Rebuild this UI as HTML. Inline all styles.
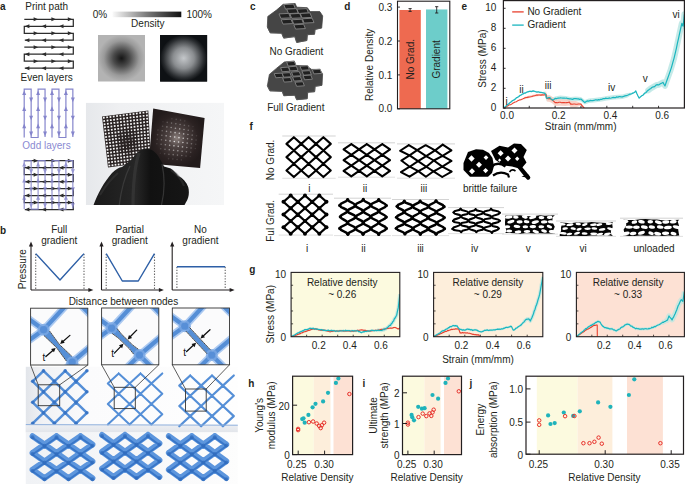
<!DOCTYPE html>
<html><head><meta charset="utf-8"><style>
html,body{margin:0;padding:0;background:#fff;}
svg{display:block;font-family:"Liberation Sans",sans-serif;}
</style></head><body>
<svg width="685" height="484" viewBox="0 0 685 484">
<rect width="685" height="484" fill="#fff"/>
<text x="0.00" y="10.30" font-size="10" text-anchor="start" fill="#231f20" font-weight="bold">a</text>
<text x="46.70" y="10.20" font-size="10" text-anchor="middle" fill="#231f20">Print path</text>
<path d="M24.3,19.3 H73.3 V26.28 H24.3 V33.260000000000005 H73.3 V40.24 H24.8 M24.3,47.22 H73.3 V54.2 H24.3 V61.18000000000001 H73.3 V68.16 H24.8" fill="none" stroke="#2d2d2d" stroke-width="1.25"/>
<polygon points="38.20,19.30 33.60,21.30 33.60,17.30" fill="#2d2d2d"/>
<polygon points="56.00,19.30 51.40,21.30 51.40,17.30" fill="#2d2d2d"/>
<polygon points="72.40,19.30 67.80,21.30 67.80,17.30" fill="#2d2d2d"/>
<polygon points="24.80,26.28 29.40,24.28 29.40,28.28" fill="#2d2d2d"/>
<polygon points="41.50,26.28 46.10,24.28 46.10,28.28" fill="#2d2d2d"/>
<polygon points="58.90,26.28 63.50,24.28 63.50,28.28" fill="#2d2d2d"/>
<polygon points="38.20,33.26 33.60,35.26 33.60,31.26" fill="#2d2d2d"/>
<polygon points="56.00,33.26 51.40,35.26 51.40,31.26" fill="#2d2d2d"/>
<polygon points="72.40,33.26 67.80,35.26 67.80,31.26" fill="#2d2d2d"/>
<polygon points="24.80,40.24 29.40,38.24 29.40,42.24" fill="#2d2d2d"/>
<polygon points="41.50,40.24 46.10,38.24 46.10,42.24" fill="#2d2d2d"/>
<polygon points="58.90,40.24 63.50,38.24 63.50,42.24" fill="#2d2d2d"/>
<polygon points="38.20,47.22 33.60,49.22 33.60,45.22" fill="#2d2d2d"/>
<polygon points="56.00,47.22 51.40,49.22 51.40,45.22" fill="#2d2d2d"/>
<polygon points="72.40,47.22 67.80,49.22 67.80,45.22" fill="#2d2d2d"/>
<polygon points="24.80,54.20 29.40,52.20 29.40,56.20" fill="#2d2d2d"/>
<polygon points="41.50,54.20 46.10,52.20 46.10,56.20" fill="#2d2d2d"/>
<polygon points="58.90,54.20 63.50,52.20 63.50,56.20" fill="#2d2d2d"/>
<polygon points="38.20,61.18 33.60,63.18 33.60,59.18" fill="#2d2d2d"/>
<polygon points="56.00,61.18 51.40,63.18 51.40,59.18" fill="#2d2d2d"/>
<polygon points="72.40,61.18 67.80,63.18 67.80,59.18" fill="#2d2d2d"/>
<polygon points="24.80,68.16 29.40,66.16 29.40,70.16" fill="#2d2d2d"/>
<polygon points="41.50,68.16 46.10,66.16 46.10,70.16" fill="#2d2d2d"/>
<polygon points="58.90,68.16 63.50,66.16 63.50,70.16" fill="#2d2d2d"/>
<text x="46.60" y="80.70" font-size="10" text-anchor="middle" fill="#231f20">Even layers</text>
<path d="M24.2,137.5 V89.1 H31.15 V137.5 H38.1 V89.1 H45.05 V137.0 M52.0,137.5 V89.1 H58.95 V137.5 H65.9 V89.1 H72.85 V137.0" fill="none" stroke="#8585cc" stroke-width="1.2"/>
<polygon points="24.20,90.40 26.20,95.00 22.20,95.00" fill="#8585cc"/>
<polygon points="24.20,106.30 26.20,110.90 22.20,110.90" fill="#8585cc"/>
<polygon points="24.20,123.60 26.20,128.20 22.20,128.20" fill="#8585cc"/>
<polygon points="31.15,102.20 29.15,97.60 33.15,97.60" fill="#8585cc"/>
<polygon points="31.15,120.30 29.15,115.70 33.15,115.70" fill="#8585cc"/>
<polygon points="31.15,136.20 29.15,131.60 33.15,131.60" fill="#8585cc"/>
<polygon points="38.10,90.40 40.10,95.00 36.10,95.00" fill="#8585cc"/>
<polygon points="38.10,106.30 40.10,110.90 36.10,110.90" fill="#8585cc"/>
<polygon points="38.10,123.60 40.10,128.20 36.10,128.20" fill="#8585cc"/>
<polygon points="45.05,102.20 43.05,97.60 47.05,97.60" fill="#8585cc"/>
<polygon points="45.05,120.30 43.05,115.70 47.05,115.70" fill="#8585cc"/>
<polygon points="45.05,136.20 43.05,131.60 47.05,131.60" fill="#8585cc"/>
<polygon points="52.00,90.40 54.00,95.00 50.00,95.00" fill="#8585cc"/>
<polygon points="52.00,106.30 54.00,110.90 50.00,110.90" fill="#8585cc"/>
<polygon points="52.00,123.60 54.00,128.20 50.00,128.20" fill="#8585cc"/>
<polygon points="58.95,102.20 56.95,97.60 60.95,97.60" fill="#8585cc"/>
<polygon points="58.95,120.30 56.95,115.70 60.95,115.70" fill="#8585cc"/>
<polygon points="58.95,136.20 56.95,131.60 60.95,131.60" fill="#8585cc"/>
<polygon points="65.90,90.40 67.90,95.00 63.90,95.00" fill="#8585cc"/>
<polygon points="65.90,106.30 67.90,110.90 63.90,110.90" fill="#8585cc"/>
<polygon points="65.90,123.60 67.90,128.20 63.90,128.20" fill="#8585cc"/>
<polygon points="72.85,102.20 70.85,97.60 74.85,97.60" fill="#8585cc"/>
<polygon points="72.85,120.30 70.85,115.70 74.85,115.70" fill="#8585cc"/>
<polygon points="72.85,136.20 70.85,131.60 74.85,131.60" fill="#8585cc"/>
<text x="46.50" y="149.30" font-size="10" text-anchor="middle" fill="#8a8ad2">Odd layers</text>
<g>
<path d="M24.3,160.7 H73.3 V167.67999999999998 H24.3 V174.66 H73.3 V181.64 H24.8 M24.3,188.62 H73.3 V195.6 H24.3 V202.57999999999998 H73.3 V209.56 H24.8" fill="none" stroke="#2d2d2d" stroke-width="1.25"/>
<polygon points="38.20,160.70 33.60,162.70 33.60,158.70" fill="#2d2d2d"/>
<polygon points="56.00,160.70 51.40,162.70 51.40,158.70" fill="#2d2d2d"/>
<polygon points="72.40,160.70 67.80,162.70 67.80,158.70" fill="#2d2d2d"/>
<polygon points="24.80,167.68 29.40,165.68 29.40,169.68" fill="#2d2d2d"/>
<polygon points="41.50,167.68 46.10,165.68 46.10,169.68" fill="#2d2d2d"/>
<polygon points="58.90,167.68 63.50,165.68 63.50,169.68" fill="#2d2d2d"/>
<polygon points="38.20,174.66 33.60,176.66 33.60,172.66" fill="#2d2d2d"/>
<polygon points="56.00,174.66 51.40,176.66 51.40,172.66" fill="#2d2d2d"/>
<polygon points="72.40,174.66 67.80,176.66 67.80,172.66" fill="#2d2d2d"/>
<polygon points="24.80,181.64 29.40,179.64 29.40,183.64" fill="#2d2d2d"/>
<polygon points="41.50,181.64 46.10,179.64 46.10,183.64" fill="#2d2d2d"/>
<polygon points="58.90,181.64 63.50,179.64 63.50,183.64" fill="#2d2d2d"/>
<polygon points="38.20,188.62 33.60,190.62 33.60,186.62" fill="#2d2d2d"/>
<polygon points="56.00,188.62 51.40,190.62 51.40,186.62" fill="#2d2d2d"/>
<polygon points="72.40,188.62 67.80,190.62 67.80,186.62" fill="#2d2d2d"/>
<polygon points="24.80,195.60 29.40,193.60 29.40,197.60" fill="#2d2d2d"/>
<polygon points="41.50,195.60 46.10,193.60 46.10,197.60" fill="#2d2d2d"/>
<polygon points="58.90,195.60 63.50,193.60 63.50,197.60" fill="#2d2d2d"/>
<polygon points="38.20,202.58 33.60,204.58 33.60,200.58" fill="#2d2d2d"/>
<polygon points="56.00,202.58 51.40,204.58 51.40,200.58" fill="#2d2d2d"/>
<polygon points="72.40,202.58 67.80,204.58 67.80,200.58" fill="#2d2d2d"/>
<polygon points="24.80,209.56 29.40,207.56 29.40,211.56" fill="#2d2d2d"/>
<polygon points="41.50,209.56 46.10,207.56 46.10,211.56" fill="#2d2d2d"/>
<polygon points="58.90,209.56 63.50,207.56 63.50,211.56" fill="#2d2d2d"/>
<g opacity="0.85">
<path d="M24.2,209.1 V160.7 H31.15 V209.1 H38.1 V160.7 H45.05 V208.6 M52.0,209.1 V160.7 H58.95 V209.1 H65.9 V160.7 H72.85 V208.6" fill="none" stroke="#8585cc" stroke-width="1.2"/>
<polygon points="24.20,162.00 26.20,166.60 22.20,166.60" fill="#8585cc"/>
<polygon points="24.20,177.90 26.20,182.50 22.20,182.50" fill="#8585cc"/>
<polygon points="24.20,195.20 26.20,199.80 22.20,199.80" fill="#8585cc"/>
<polygon points="31.15,173.80 29.15,169.20 33.15,169.20" fill="#8585cc"/>
<polygon points="31.15,191.90 29.15,187.30 33.15,187.30" fill="#8585cc"/>
<polygon points="31.15,207.80 29.15,203.20 33.15,203.20" fill="#8585cc"/>
<polygon points="38.10,162.00 40.10,166.60 36.10,166.60" fill="#8585cc"/>
<polygon points="38.10,177.90 40.10,182.50 36.10,182.50" fill="#8585cc"/>
<polygon points="38.10,195.20 40.10,199.80 36.10,199.80" fill="#8585cc"/>
<polygon points="45.05,173.80 43.05,169.20 47.05,169.20" fill="#8585cc"/>
<polygon points="45.05,191.90 43.05,187.30 47.05,187.30" fill="#8585cc"/>
<polygon points="45.05,207.80 43.05,203.20 47.05,203.20" fill="#8585cc"/>
<polygon points="52.00,162.00 54.00,166.60 50.00,166.60" fill="#8585cc"/>
<polygon points="52.00,177.90 54.00,182.50 50.00,182.50" fill="#8585cc"/>
<polygon points="52.00,195.20 54.00,199.80 50.00,199.80" fill="#8585cc"/>
<polygon points="58.95,173.80 56.95,169.20 60.95,169.20" fill="#8585cc"/>
<polygon points="58.95,191.90 56.95,187.30 60.95,187.30" fill="#8585cc"/>
<polygon points="58.95,207.80 56.95,203.20 60.95,203.20" fill="#8585cc"/>
<polygon points="65.90,162.00 67.90,166.60 63.90,166.60" fill="#8585cc"/>
<polygon points="65.90,177.90 67.90,182.50 63.90,182.50" fill="#8585cc"/>
<polygon points="65.90,195.20 67.90,199.80 63.90,199.80" fill="#8585cc"/>
<polygon points="72.85,173.80 70.85,169.20 74.85,169.20" fill="#8585cc"/>
<polygon points="72.85,191.90 70.85,187.30 74.85,187.30" fill="#8585cc"/>
<polygon points="72.85,207.80 70.85,203.20 74.85,203.20" fill="#8585cc"/>
</g></g>
<defs><linearGradient id="gbar" x1="0" x2="1" y1="0" y2="0"><stop offset="0" stop-color="#fafafa"/><stop offset="0.5" stop-color="#7a7a7a"/><stop offset="1" stop-color="#111"/></linearGradient><radialGradient id="rg1" cx="0.5" cy="0.5" r="0.5"><stop offset="0" stop-color="#151515"/><stop offset="0.35" stop-color="#4a4a4a"/><stop offset="0.75" stop-color="#9a9a9a"/><stop offset="1" stop-color="#b3b3b3"/></radialGradient><radialGradient id="rg2" cx="0.5" cy="0.5" r="0.5"><stop offset="0" stop-color="#c4c7ca"/><stop offset="0.45" stop-color="#8a8d90"/><stop offset="0.85" stop-color="#2a2d30"/><stop offset="1" stop-color="#0e1114"/></radialGradient></defs>
<rect x="112.5" y="11.6" width="68.8" height="5.6" fill="url(#gbar)"/>
<text x="107.20" y="18.30" font-size="10" text-anchor="end" fill="#231f20">0%</text>
<text x="186.40" y="18.30" font-size="10" text-anchor="start" fill="#231f20">100%</text>
<text x="147.80" y="27.30" font-size="10" text-anchor="middle" fill="#231f20">Density</text>
<rect x="98" y="35" width="47" height="46.5" fill="url(#rg1)"/>
<rect x="160.1" y="35" width="47" height="46.5" fill="#0e1114"/>
<rect x="160.1" y="35" width="47" height="46.5" fill="url(#rg2)"/>
<defs><linearGradient id="pbg" x1="0" x2="1" y1="0" y2="0"><stop offset="0" stop-color="#e6e8eb"/><stop offset="0.25" stop-color="#eff0f2"/><stop offset="1" stop-color="#f5f6f7"/></linearGradient><linearGradient id="glv" x1="0" x2="1" y1="0" y2="0"><stop offset="0" stop-color="#1a1a1a"/><stop offset="0.45" stop-color="#262626"/><stop offset="0.6" stop-color="#111"/><stop offset="1" stop-color="#161616"/></linearGradient><clipPath id="pclip"><rect x="85.8" y="102.7" width="138.4" height="102.3"/></clipPath><radialGradient id="padg" cx="0.5" cy="0.5" r="0.5"><stop offset="0" stop-color="#8a7f7c"/><stop offset="0.3" stop-color="#4f4443"/><stop offset="0.75" stop-color="#2b2222"/><stop offset="1" stop-color="#221b1b"/></radialGradient></defs>
<g clip-path="url(#pclip)">
<rect x="85.8" y="102.7" width="138.4" height="102.3" fill="url(#pbg)"/>
<polygon points="102,116.4 148.3,110.4 151.2,161.8 108,167.4" fill="#2a2323"/>
<rect x="102.96" y="116.90" width="1.75" height="1.75" fill="#f6f6f6" transform="rotate(-7 103.84 117.78)"/>
<rect x="103.33" y="120.09" width="1.75" height="1.75" fill="#f6f6f6" transform="rotate(-7 104.21 120.97)"/>
<rect x="103.70" y="123.28" width="1.75" height="1.75" fill="#f6f6f6" transform="rotate(-7 104.57 124.16)"/>
<rect x="104.07" y="126.47" width="1.75" height="1.75" fill="#f6f6f6" transform="rotate(-7 104.94 127.35)"/>
<rect x="104.43" y="129.66" width="1.75" height="1.75" fill="#f6f6f6" transform="rotate(-7 105.31 130.53)"/>
<rect x="104.80" y="132.85" width="1.75" height="1.75" fill="#f6f6f6" transform="rotate(-7 105.68 133.72)"/>
<rect x="105.17" y="136.04" width="1.75" height="1.75" fill="#f6f6f6" transform="rotate(-7 106.05 136.91)"/>
<rect x="105.54" y="139.22" width="1.75" height="1.75" fill="#f6f6f6" transform="rotate(-7 106.41 140.10)"/>
<rect x="105.91" y="142.41" width="1.75" height="1.75" fill="#f6f6f6" transform="rotate(-7 106.78 143.29)"/>
<rect x="106.28" y="145.60" width="1.75" height="1.75" fill="#f6f6f6" transform="rotate(-7 107.15 146.48)"/>
<rect x="106.64" y="148.79" width="1.75" height="1.75" fill="#f6f6f6" transform="rotate(-7 107.52 149.66)"/>
<rect x="107.01" y="151.98" width="1.75" height="1.75" fill="#f6f6f6" transform="rotate(-7 107.89 152.85)"/>
<rect x="107.38" y="155.17" width="1.75" height="1.75" fill="#f6f6f6" transform="rotate(-7 108.25 156.04)"/>
<rect x="107.75" y="158.35" width="1.75" height="1.75" fill="#f6f6f6" transform="rotate(-7 108.62 159.23)"/>
<rect x="108.12" y="161.54" width="1.75" height="1.75" fill="#f6f6f6" transform="rotate(-7 108.99 162.42)"/>
<rect x="108.48" y="164.73" width="1.75" height="1.75" fill="#f6f6f6" transform="rotate(-7 109.36 165.61)"/>
<rect x="106.26" y="116.48" width="1.75" height="1.75" fill="#f6f6f6" transform="rotate(-7 107.14 117.35)"/>
<rect x="106.62" y="119.67" width="1.75" height="1.75" fill="#f6f6f6" transform="rotate(-7 107.49 120.54)"/>
<rect x="106.97" y="122.86" width="1.75" height="1.75" fill="#f6f6f6" transform="rotate(-7 107.85 123.73)"/>
<rect x="107.33" y="126.05" width="1.75" height="1.75" fill="#f6f6f6" transform="rotate(-7 108.20 126.92)"/>
<rect x="107.68" y="129.24" width="1.75" height="1.75" fill="#f6f6f6" transform="rotate(-7 108.55 130.11)"/>
<rect x="108.03" y="132.43" width="1.75" height="1.75" fill="#f6f6f6" transform="rotate(-7 108.91 133.30)"/>
<rect x="108.39" y="135.62" width="1.75" height="1.75" fill="#f6f6f6" transform="rotate(-7 109.26 136.49)"/>
<rect x="108.74" y="138.81" width="1.75" height="1.75" fill="#f6f6f6" transform="rotate(-7 109.62 139.68)"/>
<rect x="109.10" y="142.00" width="1.75" height="1.75" fill="#f6f6f6" transform="rotate(-7 109.97 142.87)"/>
<rect x="109.45" y="145.19" width="1.75" height="1.75" fill="#f6f6f6" transform="rotate(-7 110.33 146.06)"/>
<rect x="109.81" y="148.38" width="1.75" height="1.75" fill="#f6f6f6" transform="rotate(-7 110.68 149.25)"/>
<rect x="110.16" y="151.57" width="1.75" height="1.75" fill="#f6f6f6" transform="rotate(-7 111.03 152.44)"/>
<rect x="110.51" y="154.76" width="1.75" height="1.75" fill="#f6f6f6" transform="rotate(-7 111.39 155.63)"/>
<rect x="110.87" y="157.95" width="1.75" height="1.75" fill="#f6f6f6" transform="rotate(-7 111.74 158.82)"/>
<rect x="111.22" y="161.14" width="1.75" height="1.75" fill="#f6f6f6" transform="rotate(-7 112.10 162.01)"/>
<rect x="111.58" y="164.33" width="1.75" height="1.75" fill="#f6f6f6" transform="rotate(-7 112.45 165.20)"/>
<rect x="109.56" y="116.05" width="1.75" height="1.75" fill="#f6f6f6" transform="rotate(-7 110.44 116.92)"/>
<rect x="109.90" y="119.24" width="1.75" height="1.75" fill="#f6f6f6" transform="rotate(-7 110.78 120.12)"/>
<rect x="110.24" y="122.43" width="1.75" height="1.75" fill="#f6f6f6" transform="rotate(-7 111.12 123.31)"/>
<rect x="110.58" y="125.63" width="1.75" height="1.75" fill="#f6f6f6" transform="rotate(-7 111.46 126.50)"/>
<rect x="110.92" y="128.82" width="1.75" height="1.75" fill="#f6f6f6" transform="rotate(-7 111.80 129.69)"/>
<rect x="111.27" y="132.01" width="1.75" height="1.75" fill="#f6f6f6" transform="rotate(-7 112.14 132.88)"/>
<rect x="111.61" y="135.20" width="1.75" height="1.75" fill="#f6f6f6" transform="rotate(-7 112.48 136.08)"/>
<rect x="111.95" y="138.39" width="1.75" height="1.75" fill="#f6f6f6" transform="rotate(-7 112.82 139.27)"/>
<rect x="112.29" y="141.59" width="1.75" height="1.75" fill="#f6f6f6" transform="rotate(-7 113.16 142.46)"/>
<rect x="112.63" y="144.78" width="1.75" height="1.75" fill="#f6f6f6" transform="rotate(-7 113.50 145.65)"/>
<rect x="112.97" y="147.97" width="1.75" height="1.75" fill="#f6f6f6" transform="rotate(-7 113.84 148.84)"/>
<rect x="113.31" y="151.16" width="1.75" height="1.75" fill="#f6f6f6" transform="rotate(-7 114.18 152.04)"/>
<rect x="113.65" y="154.35" width="1.75" height="1.75" fill="#f6f6f6" transform="rotate(-7 114.52 155.23)"/>
<rect x="113.99" y="157.55" width="1.75" height="1.75" fill="#f6f6f6" transform="rotate(-7 114.86 158.42)"/>
<rect x="114.33" y="160.74" width="1.75" height="1.75" fill="#f6f6f6" transform="rotate(-7 115.20 161.61)"/>
<rect x="114.67" y="163.93" width="1.75" height="1.75" fill="#f6f6f6" transform="rotate(-7 115.54 164.80)"/>
<rect x="112.86" y="115.62" width="1.75" height="1.75" fill="#f6f6f6" transform="rotate(-7 113.74 116.50)"/>
<rect x="113.19" y="118.82" width="1.75" height="1.75" fill="#f6f6f6" transform="rotate(-7 114.06 119.69)"/>
<rect x="113.52" y="122.01" width="1.75" height="1.75" fill="#f6f6f6" transform="rotate(-7 114.39 122.88)"/>
<rect x="113.84" y="125.20" width="1.75" height="1.75" fill="#f6f6f6" transform="rotate(-7 114.72 126.08)"/>
<rect x="114.17" y="128.40" width="1.75" height="1.75" fill="#f6f6f6" transform="rotate(-7 115.04 129.27)"/>
<rect x="114.50" y="131.59" width="1.75" height="1.75" fill="#f6f6f6" transform="rotate(-7 115.37 132.47)"/>
<rect x="114.82" y="134.78" width="1.75" height="1.75" fill="#f6f6f6" transform="rotate(-7 115.70 135.66)"/>
<rect x="115.15" y="137.98" width="1.75" height="1.75" fill="#f6f6f6" transform="rotate(-7 116.02 138.85)"/>
<rect x="115.48" y="141.17" width="1.75" height="1.75" fill="#f6f6f6" transform="rotate(-7 116.35 142.05)"/>
<rect x="115.80" y="144.37" width="1.75" height="1.75" fill="#f6f6f6" transform="rotate(-7 116.68 145.24)"/>
<rect x="116.13" y="147.56" width="1.75" height="1.75" fill="#f6f6f6" transform="rotate(-7 117.00 148.43)"/>
<rect x="116.46" y="150.75" width="1.75" height="1.75" fill="#f6f6f6" transform="rotate(-7 117.33 151.63)"/>
<rect x="116.78" y="153.95" width="1.75" height="1.75" fill="#f6f6f6" transform="rotate(-7 117.66 154.82)"/>
<rect x="117.11" y="157.14" width="1.75" height="1.75" fill="#f6f6f6" transform="rotate(-7 117.98 158.02)"/>
<rect x="117.44" y="160.33" width="1.75" height="1.75" fill="#f6f6f6" transform="rotate(-7 118.31 161.21)"/>
<rect x="117.76" y="163.53" width="1.75" height="1.75" fill="#f6f6f6" transform="rotate(-7 118.64 164.40)"/>
<rect x="116.16" y="115.19" width="1.75" height="1.75" fill="#f6f6f6" transform="rotate(-7 117.04 116.07)"/>
<rect x="116.48" y="118.39" width="1.75" height="1.75" fill="#f6f6f6" transform="rotate(-7 117.35 119.26)"/>
<rect x="116.79" y="121.59" width="1.75" height="1.75" fill="#f6f6f6" transform="rotate(-7 117.66 122.46)"/>
<rect x="117.10" y="124.78" width="1.75" height="1.75" fill="#f6f6f6" transform="rotate(-7 117.98 125.66)"/>
<rect x="117.41" y="127.98" width="1.75" height="1.75" fill="#f6f6f6" transform="rotate(-7 118.29 128.85)"/>
<rect x="117.73" y="131.17" width="1.75" height="1.75" fill="#f6f6f6" transform="rotate(-7 118.60 132.05)"/>
<rect x="118.24" y="134.57" width="1.35" height="1.35" fill="#f6f6f6" transform="rotate(-7 118.91 135.24)"/>
<rect x="118.55" y="137.76" width="1.35" height="1.35" fill="#f6f6f6" transform="rotate(-7 119.23 138.44)"/>
<rect x="118.87" y="140.96" width="1.35" height="1.35" fill="#f6f6f6" transform="rotate(-7 119.54 141.63)"/>
<rect x="119.18" y="144.15" width="1.35" height="1.35" fill="#f6f6f6" transform="rotate(-7 119.85 144.83)"/>
<rect x="119.49" y="147.35" width="1.35" height="1.35" fill="#f6f6f6" transform="rotate(-7 120.17 148.02)"/>
<rect x="119.80" y="150.55" width="1.35" height="1.35" fill="#f6f6f6" transform="rotate(-7 120.48 151.22)"/>
<rect x="119.92" y="153.54" width="1.75" height="1.75" fill="#f6f6f6" transform="rotate(-7 120.79 154.42)"/>
<rect x="120.23" y="156.74" width="1.75" height="1.75" fill="#f6f6f6" transform="rotate(-7 121.10 157.61)"/>
<rect x="120.54" y="159.93" width="1.75" height="1.75" fill="#f6f6f6" transform="rotate(-7 121.42 160.81)"/>
<rect x="120.85" y="163.13" width="1.75" height="1.75" fill="#f6f6f6" transform="rotate(-7 121.73 164.00)"/>
<rect x="119.46" y="114.77" width="1.75" height="1.75" fill="#f6f6f6" transform="rotate(-7 120.34 115.64)"/>
<rect x="119.76" y="117.96" width="1.75" height="1.75" fill="#f6f6f6" transform="rotate(-7 120.64 118.84)"/>
<rect x="120.06" y="121.16" width="1.75" height="1.75" fill="#f6f6f6" transform="rotate(-7 120.94 122.04)"/>
<rect x="120.36" y="124.36" width="1.75" height="1.75" fill="#f6f6f6" transform="rotate(-7 121.24 125.23)"/>
<rect x="120.66" y="127.56" width="1.75" height="1.75" fill="#f6f6f6" transform="rotate(-7 121.53 128.43)"/>
<rect x="121.16" y="130.95" width="1.35" height="1.35" fill="#f6f6f6" transform="rotate(-7 121.83 131.63)"/>
<rect x="121.46" y="134.15" width="1.35" height="1.35" fill="#f6f6f6" transform="rotate(-7 122.13 134.83)"/>
<rect x="121.76" y="137.35" width="1.35" height="1.35" fill="#f6f6f6" transform="rotate(-7 122.43 138.02)"/>
<rect x="122.23" y="140.72" width="1.0" height="1.0" fill="#f6f6f6" transform="rotate(-7 122.73 141.22)"/>
<rect x="122.53" y="143.92" width="1.0" height="1.0" fill="#f6f6f6" transform="rotate(-7 123.03 144.42)"/>
<rect x="122.65" y="146.94" width="1.35" height="1.35" fill="#f6f6f6" transform="rotate(-7 123.33 147.61)"/>
<rect x="122.95" y="150.14" width="1.35" height="1.35" fill="#f6f6f6" transform="rotate(-7 123.63 150.81)"/>
<rect x="123.05" y="153.13" width="1.75" height="1.75" fill="#f6f6f6" transform="rotate(-7 123.93 154.01)"/>
<rect x="123.35" y="156.33" width="1.75" height="1.75" fill="#f6f6f6" transform="rotate(-7 124.22 157.21)"/>
<rect x="123.65" y="159.53" width="1.75" height="1.75" fill="#f6f6f6" transform="rotate(-7 124.52 160.40)"/>
<rect x="123.95" y="162.73" width="1.75" height="1.75" fill="#f6f6f6" transform="rotate(-7 124.82 163.60)"/>
<rect x="122.76" y="114.34" width="1.75" height="1.75" fill="#f6f6f6" transform="rotate(-7 123.64 115.21)"/>
<rect x="123.05" y="117.54" width="1.75" height="1.75" fill="#f6f6f6" transform="rotate(-7 123.92 118.41)"/>
<rect x="123.33" y="120.74" width="1.75" height="1.75" fill="#f6f6f6" transform="rotate(-7 124.21 121.61)"/>
<rect x="123.62" y="123.94" width="1.75" height="1.75" fill="#f6f6f6" transform="rotate(-7 124.49 124.81)"/>
<rect x="123.90" y="127.14" width="1.75" height="1.75" fill="#f6f6f6" transform="rotate(-7 124.78 128.01)"/>
<rect x="124.39" y="130.53" width="1.35" height="1.35" fill="#f6f6f6" transform="rotate(-7 125.06 131.21)"/>
<rect x="124.67" y="133.73" width="1.35" height="1.35" fill="#f6f6f6" transform="rotate(-7 125.35 134.41)"/>
<rect x="125.13" y="137.11" width="1.0" height="1.0" fill="#f6f6f6" transform="rotate(-7 125.63 137.61)"/>
<rect x="125.42" y="140.31" width="1.0" height="1.0" fill="#f6f6f6" transform="rotate(-7 125.92 140.81)"/>
<rect x="125.70" y="143.51" width="1.0" height="1.0" fill="#f6f6f6" transform="rotate(-7 126.20 144.01)"/>
<rect x="125.99" y="146.70" width="1.0" height="1.0" fill="#f6f6f6" transform="rotate(-7 126.49 147.20)"/>
<rect x="126.10" y="149.73" width="1.35" height="1.35" fill="#f6f6f6" transform="rotate(-7 126.77 150.40)"/>
<rect x="126.38" y="152.93" width="1.35" height="1.35" fill="#f6f6f6" transform="rotate(-7 127.06 153.60)"/>
<rect x="126.47" y="155.93" width="1.75" height="1.75" fill="#f6f6f6" transform="rotate(-7 127.34 156.80)"/>
<rect x="126.75" y="159.13" width="1.75" height="1.75" fill="#f6f6f6" transform="rotate(-7 127.63 160.00)"/>
<rect x="127.04" y="162.33" width="1.75" height="1.75" fill="#f6f6f6" transform="rotate(-7 127.91 163.20)"/>
<rect x="126.06" y="113.91" width="1.75" height="1.75" fill="#f6f6f6" transform="rotate(-7 126.94 114.79)"/>
<rect x="126.34" y="117.11" width="1.75" height="1.75" fill="#f6f6f6" transform="rotate(-7 127.21 117.99)"/>
<rect x="126.61" y="120.31" width="1.75" height="1.75" fill="#f6f6f6" transform="rotate(-7 127.48 121.19)"/>
<rect x="126.88" y="123.51" width="1.75" height="1.75" fill="#f6f6f6" transform="rotate(-7 127.75 124.39)"/>
<rect x="127.15" y="126.71" width="1.75" height="1.75" fill="#f6f6f6" transform="rotate(-7 128.02 127.59)"/>
<rect x="127.62" y="130.12" width="1.35" height="1.35" fill="#f6f6f6" transform="rotate(-7 128.30 130.79)"/>
<rect x="127.89" y="133.32" width="1.35" height="1.35" fill="#f6f6f6" transform="rotate(-7 128.57 133.99)"/>
<rect x="128.34" y="136.69" width="1.0" height="1.0" fill="#f6f6f6" transform="rotate(-7 128.84 137.19)"/>
<rect x="128.61" y="139.89" width="1.0" height="1.0" fill="#f6f6f6" transform="rotate(-7 129.11 140.39)"/>
<rect x="128.88" y="143.09" width="1.0" height="1.0" fill="#f6f6f6" transform="rotate(-7 129.38 143.59)"/>
<rect x="129.15" y="146.30" width="1.0" height="1.0" fill="#f6f6f6" transform="rotate(-7 129.65 146.80)"/>
<rect x="129.25" y="149.32" width="1.35" height="1.35" fill="#f6f6f6" transform="rotate(-7 129.92 150.00)"/>
<rect x="129.52" y="152.52" width="1.35" height="1.35" fill="#f6f6f6" transform="rotate(-7 130.19 153.20)"/>
<rect x="129.59" y="155.52" width="1.75" height="1.75" fill="#f6f6f6" transform="rotate(-7 130.46 156.40)"/>
<rect x="129.86" y="158.72" width="1.75" height="1.75" fill="#f6f6f6" transform="rotate(-7 130.74 159.60)"/>
<rect x="130.13" y="161.92" width="1.75" height="1.75" fill="#f6f6f6" transform="rotate(-7 131.01 162.80)"/>
<rect x="129.36" y="113.48" width="1.75" height="1.75" fill="#f6f6f6" transform="rotate(-7 130.24 114.36)"/>
<rect x="129.62" y="116.69" width="1.75" height="1.75" fill="#f6f6f6" transform="rotate(-7 130.50 117.56)"/>
<rect x="129.88" y="119.89" width="1.75" height="1.75" fill="#f6f6f6" transform="rotate(-7 130.75 120.76)"/>
<rect x="130.14" y="123.09" width="1.75" height="1.75" fill="#f6f6f6" transform="rotate(-7 131.01 123.97)"/>
<rect x="130.39" y="126.29" width="1.75" height="1.75" fill="#f6f6f6" transform="rotate(-7 131.27 127.17)"/>
<rect x="130.85" y="129.70" width="1.35" height="1.35" fill="#f6f6f6" transform="rotate(-7 131.53 130.37)"/>
<rect x="131.11" y="132.90" width="1.35" height="1.35" fill="#f6f6f6" transform="rotate(-7 131.78 133.57)"/>
<rect x="131.37" y="136.10" width="1.35" height="1.35" fill="#f6f6f6" transform="rotate(-7 132.04 136.78)"/>
<rect x="131.80" y="139.48" width="1.0" height="1.0" fill="#f6f6f6" transform="rotate(-7 132.30 139.98)"/>
<rect x="132.06" y="142.68" width="1.0" height="1.0" fill="#f6f6f6" transform="rotate(-7 132.56 143.18)"/>
<rect x="132.14" y="145.71" width="1.35" height="1.35" fill="#f6f6f6" transform="rotate(-7 132.81 146.39)"/>
<rect x="132.40" y="148.91" width="1.35" height="1.35" fill="#f6f6f6" transform="rotate(-7 133.07 149.59)"/>
<rect x="132.45" y="151.92" width="1.75" height="1.75" fill="#f6f6f6" transform="rotate(-7 133.33 152.79)"/>
<rect x="132.71" y="155.12" width="1.75" height="1.75" fill="#f6f6f6" transform="rotate(-7 133.59 155.99)"/>
<rect x="132.97" y="158.32" width="1.75" height="1.75" fill="#f6f6f6" transform="rotate(-7 133.84 159.20)"/>
<rect x="133.22" y="161.52" width="1.75" height="1.75" fill="#f6f6f6" transform="rotate(-7 134.10 162.40)"/>
<rect x="132.66" y="113.06" width="1.75" height="1.75" fill="#f6f6f6" transform="rotate(-7 133.54 113.93)"/>
<rect x="132.91" y="116.26" width="1.75" height="1.75" fill="#f6f6f6" transform="rotate(-7 133.78 117.14)"/>
<rect x="133.15" y="119.46" width="1.75" height="1.75" fill="#f6f6f6" transform="rotate(-7 134.03 120.34)"/>
<rect x="133.40" y="122.67" width="1.75" height="1.75" fill="#f6f6f6" transform="rotate(-7 134.27 123.54)"/>
<rect x="133.64" y="125.87" width="1.75" height="1.75" fill="#f6f6f6" transform="rotate(-7 134.51 126.75)"/>
<rect x="133.88" y="129.08" width="1.75" height="1.75" fill="#f6f6f6" transform="rotate(-7 134.76 129.95)"/>
<rect x="134.33" y="132.48" width="1.35" height="1.35" fill="#f6f6f6" transform="rotate(-7 135.00 133.16)"/>
<rect x="134.57" y="135.69" width="1.35" height="1.35" fill="#f6f6f6" transform="rotate(-7 135.24 136.36)"/>
<rect x="134.81" y="138.89" width="1.35" height="1.35" fill="#f6f6f6" transform="rotate(-7 135.49 139.57)"/>
<rect x="135.06" y="142.10" width="1.35" height="1.35" fill="#f6f6f6" transform="rotate(-7 135.73 142.77)"/>
<rect x="135.30" y="145.30" width="1.35" height="1.35" fill="#f6f6f6" transform="rotate(-7 135.97 145.98)"/>
<rect x="135.54" y="148.50" width="1.35" height="1.35" fill="#f6f6f6" transform="rotate(-7 136.22 149.18)"/>
<rect x="135.59" y="151.51" width="1.75" height="1.75" fill="#f6f6f6" transform="rotate(-7 136.46 152.38)"/>
<rect x="135.83" y="154.71" width="1.75" height="1.75" fill="#f6f6f6" transform="rotate(-7 136.71 155.59)"/>
<rect x="136.07" y="157.92" width="1.75" height="1.75" fill="#f6f6f6" transform="rotate(-7 136.95 158.79)"/>
<rect x="136.32" y="161.12" width="1.75" height="1.75" fill="#f6f6f6" transform="rotate(-7 137.19 162.00)"/>
<rect x="135.96" y="112.63" width="1.75" height="1.75" fill="#f6f6f6" transform="rotate(-7 136.84 113.50)"/>
<rect x="136.19" y="115.83" width="1.75" height="1.75" fill="#f6f6f6" transform="rotate(-7 137.07 116.71)"/>
<rect x="136.42" y="119.04" width="1.75" height="1.75" fill="#f6f6f6" transform="rotate(-7 137.30 119.92)"/>
<rect x="136.65" y="122.25" width="1.75" height="1.75" fill="#f6f6f6" transform="rotate(-7 137.53 123.12)"/>
<rect x="136.88" y="125.45" width="1.75" height="1.75" fill="#f6f6f6" transform="rotate(-7 137.76 126.33)"/>
<rect x="137.11" y="128.66" width="1.75" height="1.75" fill="#f6f6f6" transform="rotate(-7 137.99 129.53)"/>
<rect x="137.34" y="131.87" width="1.75" height="1.75" fill="#f6f6f6" transform="rotate(-7 138.22 132.74)"/>
<rect x="137.57" y="135.07" width="1.75" height="1.75" fill="#f6f6f6" transform="rotate(-7 138.45 135.95)"/>
<rect x="137.80" y="138.28" width="1.75" height="1.75" fill="#f6f6f6" transform="rotate(-7 138.68 139.15)"/>
<rect x="138.03" y="141.48" width="1.75" height="1.75" fill="#f6f6f6" transform="rotate(-7 138.91 142.36)"/>
<rect x="138.26" y="144.69" width="1.75" height="1.75" fill="#f6f6f6" transform="rotate(-7 139.14 145.57)"/>
<rect x="138.49" y="147.90" width="1.75" height="1.75" fill="#f6f6f6" transform="rotate(-7 139.37 148.77)"/>
<rect x="138.72" y="151.10" width="1.75" height="1.75" fill="#f6f6f6" transform="rotate(-7 139.60 151.98)"/>
<rect x="138.95" y="154.31" width="1.75" height="1.75" fill="#f6f6f6" transform="rotate(-7 139.83 155.18)"/>
<rect x="139.18" y="157.52" width="1.75" height="1.75" fill="#f6f6f6" transform="rotate(-7 140.06 158.39)"/>
<rect x="139.41" y="160.72" width="1.75" height="1.75" fill="#f6f6f6" transform="rotate(-7 140.29 161.60)"/>
<rect x="139.27" y="112.20" width="1.75" height="1.75" fill="#f6f6f6" transform="rotate(-7 140.14 113.08)"/>
<rect x="139.48" y="115.41" width="1.75" height="1.75" fill="#f6f6f6" transform="rotate(-7 140.36 116.28)"/>
<rect x="139.70" y="118.62" width="1.75" height="1.75" fill="#f6f6f6" transform="rotate(-7 140.57 119.49)"/>
<rect x="139.91" y="121.82" width="1.75" height="1.75" fill="#f6f6f6" transform="rotate(-7 140.79 122.70)"/>
<rect x="140.13" y="125.03" width="1.75" height="1.75" fill="#f6f6f6" transform="rotate(-7 141.00 125.91)"/>
<rect x="140.34" y="128.24" width="1.75" height="1.75" fill="#f6f6f6" transform="rotate(-7 141.22 129.12)"/>
<rect x="140.56" y="131.45" width="1.75" height="1.75" fill="#f6f6f6" transform="rotate(-7 141.44 132.32)"/>
<rect x="140.78" y="134.66" width="1.75" height="1.75" fill="#f6f6f6" transform="rotate(-7 141.65 135.53)"/>
<rect x="140.99" y="137.86" width="1.75" height="1.75" fill="#f6f6f6" transform="rotate(-7 141.87 138.74)"/>
<rect x="141.21" y="141.07" width="1.75" height="1.75" fill="#f6f6f6" transform="rotate(-7 142.08 141.95)"/>
<rect x="141.42" y="144.28" width="1.75" height="1.75" fill="#f6f6f6" transform="rotate(-7 142.30 145.16)"/>
<rect x="141.64" y="147.49" width="1.75" height="1.75" fill="#f6f6f6" transform="rotate(-7 142.51 148.36)"/>
<rect x="141.86" y="150.70" width="1.75" height="1.75" fill="#f6f6f6" transform="rotate(-7 142.73 151.57)"/>
<rect x="142.07" y="153.90" width="1.75" height="1.75" fill="#f6f6f6" transform="rotate(-7 142.95 154.78)"/>
<rect x="142.29" y="157.11" width="1.75" height="1.75" fill="#f6f6f6" transform="rotate(-7 143.16 157.99)"/>
<rect x="142.50" y="160.32" width="1.75" height="1.75" fill="#f6f6f6" transform="rotate(-7 143.38 161.20)"/>
<rect x="142.57" y="111.77" width="1.75" height="1.75" fill="#f6f6f6" transform="rotate(-7 143.44 112.65)"/>
<rect x="142.77" y="114.98" width="1.75" height="1.75" fill="#f6f6f6" transform="rotate(-7 143.64 115.86)"/>
<rect x="142.97" y="118.19" width="1.75" height="1.75" fill="#f6f6f6" transform="rotate(-7 143.84 119.07)"/>
<rect x="143.17" y="121.40" width="1.75" height="1.75" fill="#f6f6f6" transform="rotate(-7 144.05 122.28)"/>
<rect x="143.37" y="124.61" width="1.75" height="1.75" fill="#f6f6f6" transform="rotate(-7 144.25 125.49)"/>
<rect x="143.58" y="127.82" width="1.75" height="1.75" fill="#f6f6f6" transform="rotate(-7 144.45 128.70)"/>
<rect x="143.78" y="131.03" width="1.75" height="1.75" fill="#f6f6f6" transform="rotate(-7 144.65 131.91)"/>
<rect x="143.98" y="134.24" width="1.75" height="1.75" fill="#f6f6f6" transform="rotate(-7 144.85 135.12)"/>
<rect x="144.18" y="137.45" width="1.75" height="1.75" fill="#f6f6f6" transform="rotate(-7 145.06 138.33)"/>
<rect x="144.38" y="140.66" width="1.75" height="1.75" fill="#f6f6f6" transform="rotate(-7 145.26 141.54)"/>
<rect x="144.59" y="143.87" width="1.75" height="1.75" fill="#f6f6f6" transform="rotate(-7 145.46 144.75)"/>
<rect x="144.79" y="147.08" width="1.75" height="1.75" fill="#f6f6f6" transform="rotate(-7 145.66 147.96)"/>
<rect x="144.99" y="150.29" width="1.75" height="1.75" fill="#f6f6f6" transform="rotate(-7 145.86 151.17)"/>
<rect x="145.19" y="153.50" width="1.75" height="1.75" fill="#f6f6f6" transform="rotate(-7 146.07 154.38)"/>
<rect x="145.39" y="156.71" width="1.75" height="1.75" fill="#f6f6f6" transform="rotate(-7 146.27 157.59)"/>
<rect x="145.60" y="159.92" width="1.75" height="1.75" fill="#f6f6f6" transform="rotate(-7 146.47 160.80)"/>
<rect x="145.87" y="111.35" width="1.75" height="1.75" fill="#f6f6f6" transform="rotate(-7 146.74 112.22)"/>
<rect x="146.05" y="114.56" width="1.75" height="1.75" fill="#f6f6f6" transform="rotate(-7 146.93 115.43)"/>
<rect x="146.24" y="117.77" width="1.75" height="1.75" fill="#f6f6f6" transform="rotate(-7 147.12 118.64)"/>
<rect x="146.43" y="120.98" width="1.75" height="1.75" fill="#f6f6f6" transform="rotate(-7 147.31 121.85)"/>
<rect x="146.62" y="124.19" width="1.75" height="1.75" fill="#f6f6f6" transform="rotate(-7 147.49 125.07)"/>
<rect x="146.81" y="127.40" width="1.75" height="1.75" fill="#f6f6f6" transform="rotate(-7 147.68 128.28)"/>
<rect x="146.99" y="130.61" width="1.75" height="1.75" fill="#f6f6f6" transform="rotate(-7 147.87 131.49)"/>
<rect x="147.18" y="133.83" width="1.75" height="1.75" fill="#f6f6f6" transform="rotate(-7 148.06 134.70)"/>
<rect x="147.37" y="137.04" width="1.75" height="1.75" fill="#f6f6f6" transform="rotate(-7 148.25 137.91)"/>
<rect x="147.56" y="140.25" width="1.75" height="1.75" fill="#f6f6f6" transform="rotate(-7 148.43 141.12)"/>
<rect x="147.75" y="143.46" width="1.75" height="1.75" fill="#f6f6f6" transform="rotate(-7 148.62 144.34)"/>
<rect x="147.94" y="146.67" width="1.75" height="1.75" fill="#f6f6f6" transform="rotate(-7 148.81 147.55)"/>
<rect x="148.12" y="149.88" width="1.75" height="1.75" fill="#f6f6f6" transform="rotate(-7 149.00 150.76)"/>
<rect x="148.31" y="153.10" width="1.75" height="1.75" fill="#f6f6f6" transform="rotate(-7 149.19 153.97)"/>
<rect x="148.50" y="156.31" width="1.75" height="1.75" fill="#f6f6f6" transform="rotate(-7 149.37 157.18)"/>
<rect x="148.69" y="159.52" width="1.75" height="1.75" fill="#f6f6f6" transform="rotate(-7 149.56 160.39)"/>
<polygon points="153.2,108.5 204.6,117.9 200.1,168.1 148.7,163.6" fill="url(#padg)"/>
<circle cx="157.94" cy="130.11" r="0.8" fill="#fff" opacity="0.11"/>
<circle cx="157.56" cy="134.65" r="0.8" fill="#fff" opacity="0.15"/>
<circle cx="157.19" cy="139.19" r="0.8" fill="#fff" opacity="0.15"/>
<circle cx="156.81" cy="143.73" r="0.8" fill="#fff" opacity="0.11"/>
<circle cx="162.97" cy="121.72" r="0.8" fill="#fff" opacity="0.08"/>
<circle cx="162.60" cy="126.23" r="0.8" fill="#fff" opacity="0.18"/>
<circle cx="162.22" cy="130.74" r="0.8" fill="#fff" opacity="0.27"/>
<circle cx="161.85" cy="135.24" r="0.8" fill="#fff" opacity="0.31"/>
<circle cx="161.47" cy="139.75" r="0.8" fill="#fff" opacity="0.31"/>
<circle cx="161.10" cy="144.26" r="0.8" fill="#fff" opacity="0.27"/>
<circle cx="160.72" cy="148.76" r="0.8" fill="#fff" opacity="0.18"/>
<circle cx="160.35" cy="153.27" r="0.8" fill="#fff" opacity="0.08"/>
<circle cx="167.25" cy="122.42" r="0.8" fill="#fff" opacity="0.18"/>
<circle cx="166.88" cy="126.90" r="0.8" fill="#fff" opacity="0.31"/>
<circle cx="166.50" cy="131.37" r="0.8" fill="#fff" opacity="0.41"/>
<circle cx="166.13" cy="135.84" r="0.8" fill="#fff" opacity="0.48"/>
<circle cx="165.75" cy="140.31" r="0.8" fill="#fff" opacity="0.48"/>
<circle cx="165.38" cy="144.79" r="0.8" fill="#fff" opacity="0.41"/>
<circle cx="165.00" cy="149.26" r="0.8" fill="#fff" opacity="0.31"/>
<circle cx="164.63" cy="153.73" r="0.8" fill="#fff" opacity="0.18"/>
<circle cx="171.91" cy="118.68" r="0.8" fill="#fff" opacity="0.11"/>
<circle cx="171.54" cy="123.12" r="0.8" fill="#fff" opacity="0.27"/>
<circle cx="171.16" cy="127.56" r="0.8" fill="#fff" opacity="0.41"/>
<circle cx="170.79" cy="132.00" r="0.8" fill="#fff" opacity="0.55"/>
<circle cx="170.41" cy="136.44" r="0.8" fill="#fff" opacity="0.64"/>
<circle cx="170.04" cy="140.88" r="0.8" fill="#fff" opacity="0.64"/>
<circle cx="169.66" cy="145.31" r="0.8" fill="#fff" opacity="0.55"/>
<circle cx="169.29" cy="149.75" r="0.8" fill="#fff" opacity="0.41"/>
<circle cx="168.91" cy="154.19" r="0.8" fill="#fff" opacity="0.27"/>
<circle cx="168.54" cy="158.63" r="0.8" fill="#fff" opacity="0.11"/>
<circle cx="176.20" cy="119.42" r="0.8" fill="#fff" opacity="0.15"/>
<circle cx="175.82" cy="123.82" r="0.8" fill="#fff" opacity="0.31"/>
<circle cx="175.45" cy="128.22" r="0.8" fill="#fff" opacity="0.48"/>
<circle cx="175.07" cy="132.63" r="0.8" fill="#fff" opacity="0.64"/>
<circle cx="174.70" cy="137.03" r="0.8" fill="#fff" opacity="0.78"/>
<circle cx="174.32" cy="141.44" r="0.8" fill="#fff" opacity="0.78"/>
<circle cx="173.95" cy="145.84" r="0.8" fill="#fff" opacity="0.64"/>
<circle cx="173.57" cy="150.25" r="0.8" fill="#fff" opacity="0.48"/>
<circle cx="173.20" cy="154.65" r="0.8" fill="#fff" opacity="0.31"/>
<circle cx="172.82" cy="159.06" r="0.8" fill="#fff" opacity="0.15"/>
<circle cx="180.48" cy="120.15" r="0.8" fill="#fff" opacity="0.15"/>
<circle cx="180.10" cy="124.52" r="0.8" fill="#fff" opacity="0.31"/>
<circle cx="179.73" cy="128.89" r="0.8" fill="#fff" opacity="0.48"/>
<circle cx="179.35" cy="133.26" r="0.8" fill="#fff" opacity="0.64"/>
<circle cx="178.98" cy="137.63" r="0.8" fill="#fff" opacity="0.78"/>
<circle cx="178.60" cy="142.00" r="0.8" fill="#fff" opacity="0.78"/>
<circle cx="178.23" cy="146.37" r="0.8" fill="#fff" opacity="0.64"/>
<circle cx="177.85" cy="150.74" r="0.8" fill="#fff" opacity="0.48"/>
<circle cx="177.48" cy="155.11" r="0.8" fill="#fff" opacity="0.31"/>
<circle cx="177.10" cy="159.48" r="0.8" fill="#fff" opacity="0.15"/>
<circle cx="184.76" cy="120.88" r="0.8" fill="#fff" opacity="0.11"/>
<circle cx="184.39" cy="125.22" r="0.8" fill="#fff" opacity="0.27"/>
<circle cx="184.01" cy="129.55" r="0.8" fill="#fff" opacity="0.41"/>
<circle cx="183.64" cy="133.89" r="0.8" fill="#fff" opacity="0.55"/>
<circle cx="183.26" cy="138.23" r="0.8" fill="#fff" opacity="0.64"/>
<circle cx="182.89" cy="142.56" r="0.8" fill="#fff" opacity="0.64"/>
<circle cx="182.51" cy="146.90" r="0.8" fill="#fff" opacity="0.55"/>
<circle cx="182.14" cy="151.23" r="0.8" fill="#fff" opacity="0.41"/>
<circle cx="181.76" cy="155.57" r="0.8" fill="#fff" opacity="0.27"/>
<circle cx="181.39" cy="159.91" r="0.8" fill="#fff" opacity="0.11"/>
<circle cx="188.67" cy="125.91" r="0.8" fill="#fff" opacity="0.18"/>
<circle cx="188.30" cy="130.22" r="0.8" fill="#fff" opacity="0.31"/>
<circle cx="187.92" cy="134.52" r="0.8" fill="#fff" opacity="0.41"/>
<circle cx="187.55" cy="138.82" r="0.8" fill="#fff" opacity="0.48"/>
<circle cx="187.17" cy="143.12" r="0.8" fill="#fff" opacity="0.48"/>
<circle cx="186.80" cy="147.43" r="0.8" fill="#fff" opacity="0.41"/>
<circle cx="186.42" cy="151.73" r="0.8" fill="#fff" opacity="0.31"/>
<circle cx="186.05" cy="156.03" r="0.8" fill="#fff" opacity="0.18"/>
<circle cx="192.95" cy="126.61" r="0.8" fill="#fff" opacity="0.08"/>
<circle cx="192.58" cy="130.88" r="0.8" fill="#fff" opacity="0.18"/>
<circle cx="192.20" cy="135.15" r="0.8" fill="#fff" opacity="0.27"/>
<circle cx="191.83" cy="139.42" r="0.8" fill="#fff" opacity="0.31"/>
<circle cx="191.45" cy="143.69" r="0.8" fill="#fff" opacity="0.31"/>
<circle cx="191.08" cy="147.95" r="0.8" fill="#fff" opacity="0.27"/>
<circle cx="190.70" cy="152.22" r="0.8" fill="#fff" opacity="0.18"/>
<circle cx="190.33" cy="156.49" r="0.8" fill="#fff" opacity="0.08"/>
<circle cx="196.49" cy="135.78" r="0.8" fill="#fff" opacity="0.11"/>
<circle cx="196.11" cy="140.01" r="0.8" fill="#fff" opacity="0.15"/>
<circle cx="195.74" cy="144.25" r="0.8" fill="#fff" opacity="0.15"/>
<circle cx="195.36" cy="148.48" r="0.8" fill="#fff" opacity="0.11"/>
<path d="M93.2,206 C97,195 104,182 112,173 C116,169 119,167.5 122,167 C126,164 130,161 133,158 C136,153 141,149 146.3,148.6 C151,148.5 156,152 159.6,158.4 C161.5,161.5 163,164 164,166.5 L170.8,168.6 C174,171 176,173.5 178,176 C183,178 186.5,182 188.2,187 C189.5,192 189,198 186,202.3 L184,206 Z" fill="url(#glv)"/>
<path d="M130,166 C125,176 121,190 119,207" stroke="#3c3c3c" stroke-width="1.3" fill="none" opacity="0.9"/>
<path d="M139,153 C135,165 133,182 133,207" stroke="#454545" stroke-width="3.2" fill="none" opacity="0.45"/>
<path d="M162,164 C165,178 165,192 161,207" stroke="#383838" stroke-width="1.2" fill="none" opacity="0.9"/>
<path d="M171,170 C177,174 182,180 184,186" stroke="#3a3a3a" stroke-width="2.2" fill="none" opacity="0.5"/>
<path d="M100,195 C106,185 112,178 118,173" stroke="#3a3a3a" stroke-width="2.2" fill="none" opacity="0.5"/>
</g>
<text x="0.00" y="233.50" font-size="10" text-anchor="start" fill="#231f20" font-weight="bold">b</text>
<text x="59.20" y="233.40" font-size="10" text-anchor="middle" fill="#231f20">Full</text>
<text x="59.20" y="244.30" font-size="10" text-anchor="middle" fill="#231f20">gradient</text>
<line x1="31.00" y1="244.50" x2="31.00" y2="290.00" stroke="#231f20" stroke-width="1.1"/>
<polygon points="31.00,241.50 33.10,246.50 28.90,246.50" fill="#231f20"/>
<line x1="31.00" y1="290.00" x2="89.80" y2="290.00" stroke="#231f20" stroke-width="1.1"/>
<polygon points="93.40,290.00 88.40,292.10 88.40,287.90" fill="#231f20"/>
<line x1="35.70" y1="254.00" x2="35.70" y2="289.50" stroke="#666" stroke-width="1.1" stroke-dasharray="1.3,1.5"/>
<line x1="84.00" y1="254.00" x2="84.00" y2="289.50" stroke="#666" stroke-width="1.1" stroke-dasharray="1.3,1.5"/>
<polyline points="35.70,253.60 60.00,280.00 84.00,253.60" fill="none" stroke="#2d5fa6" stroke-width="1.4" stroke-linejoin="round"/>
<text x="129.70" y="233.40" font-size="10" text-anchor="middle" fill="#231f20">Partial</text>
<text x="129.70" y="244.30" font-size="10" text-anchor="middle" fill="#231f20">gradient</text>
<line x1="101.50" y1="244.50" x2="101.50" y2="290.00" stroke="#231f20" stroke-width="1.1"/>
<polygon points="101.50,241.50 103.60,246.50 99.40,246.50" fill="#231f20"/>
<line x1="101.50" y1="290.00" x2="160.30" y2="290.00" stroke="#231f20" stroke-width="1.1"/>
<polygon points="163.90,290.00 158.90,292.10 158.90,287.90" fill="#231f20"/>
<line x1="106.20" y1="254.00" x2="106.20" y2="289.50" stroke="#666" stroke-width="1.1" stroke-dasharray="1.3,1.5"/>
<line x1="154.50" y1="254.00" x2="154.50" y2="289.50" stroke="#666" stroke-width="1.1" stroke-dasharray="1.3,1.5"/>
<polyline points="106.20,253.60 122.30,281.00 138.30,281.00 154.50,253.60" fill="none" stroke="#2d5fa6" stroke-width="1.4" stroke-linejoin="round"/>
<text x="200.40" y="233.40" font-size="10" text-anchor="middle" fill="#231f20">No</text>
<text x="200.40" y="244.30" font-size="10" text-anchor="middle" fill="#231f20">gradient</text>
<line x1="172.20" y1="244.50" x2="172.20" y2="290.00" stroke="#231f20" stroke-width="1.1"/>
<polygon points="172.20,241.50 174.30,246.50 170.10,246.50" fill="#231f20"/>
<line x1="172.20" y1="290.00" x2="231.00" y2="290.00" stroke="#231f20" stroke-width="1.1"/>
<polygon points="234.60,290.00 229.60,292.10 229.60,287.90" fill="#231f20"/>
<line x1="176.90" y1="267.00" x2="176.90" y2="289.50" stroke="#666" stroke-width="1.1" stroke-dasharray="1.3,1.5"/>
<line x1="225.20" y1="267.00" x2="225.20" y2="289.50" stroke="#666" stroke-width="1.1" stroke-dasharray="1.3,1.5"/>
<polyline points="176.90,266.80 225.20,266.80" fill="none" stroke="#2d5fa6" stroke-width="1.4" stroke-linejoin="round"/>
<text x="26.40" y="269.20" font-size="10" text-anchor="middle" fill="#231f20" transform="rotate(-90 26.4 269.2)">Pressure</text>
<text x="123.40" y="304.80" font-size="10" text-anchor="middle" fill="#231f20">Distance between nodes</text>
<defs><linearGradient id="bbg" x1="0" x2="1"><stop offset="0" stop-color="#e2e5ea"/><stop offset="0.08" stop-color="#f1f2f5"/><stop offset="0.3" stop-color="#fbfbfc"/><stop offset="1" stop-color="#fefefe"/></linearGradient><linearGradient id="bbg2" x1="0" x2="1"><stop offset="0" stop-color="#f0f2f5"/><stop offset="1" stop-color="#fdfdfd"/></linearGradient><linearGradient id="bband" x1="0" x2="0" y1="0" y2="1"><stop offset="0" stop-color="#eceef2"/><stop offset="1" stop-color="#e2e5ea"/></linearGradient></defs>
<rect x="25.8" y="366.8" width="212" height="65.5" fill="url(#bbg)"/>
<rect x="25.8" y="425" width="212" height="7.5" fill="url(#bband)"/>
<rect x="25.8" y="432.3" width="212" height="51.7" fill="url(#bbg2)"/>
<path d="M43.50,370.80 L32.65,381.30 M43.50,370.80 L54.35,381.30 M65.20,370.80 L54.35,381.30 M65.20,370.80 L76.05,381.30 M86.90,370.80 L76.05,381.30 M32.65,381.30 L43.50,391.80 M54.35,381.30 L43.50,391.80 M54.35,381.30 L65.20,391.80 M76.05,381.30 L65.20,391.80 M76.05,381.30 L86.90,391.80 M43.50,391.80 L32.65,402.30 M43.50,391.80 L54.35,402.30 M65.20,391.80 L54.35,402.30 M65.20,391.80 L76.05,402.30 M86.90,391.80 L76.05,402.30 M32.65,402.30 L43.50,412.80 M54.35,402.30 L43.50,412.80 M54.35,402.30 L65.20,412.80 M76.05,402.30 L65.20,412.80 M76.05,402.30 L86.90,412.80 M43.50,412.80 L32.65,423.30 M43.50,412.80 L54.35,423.30 M65.20,412.80 L54.35,423.30 M65.20,412.80 L76.05,423.30 M86.90,412.80 L76.05,423.30" stroke="#3d7fd2" stroke-width="2.5" fill="none" stroke-linecap="round" opacity="0.88"/>
<circle cx="43.50" cy="370.80" r="1.8" fill="#2f6dc0" opacity="0.8"/>
<circle cx="65.20" cy="370.80" r="1.8" fill="#2f6dc0" opacity="0.8"/>
<circle cx="86.90" cy="370.80" r="1.8" fill="#2f6dc0" opacity="0.8"/>
<circle cx="32.65" cy="381.30" r="1.8" fill="#2f6dc0" opacity="0.8"/>
<circle cx="54.35" cy="381.30" r="1.8" fill="#2f6dc0" opacity="0.8"/>
<circle cx="76.05" cy="381.30" r="1.8" fill="#2f6dc0" opacity="0.8"/>
<circle cx="43.50" cy="391.80" r="1.8" fill="#2f6dc0" opacity="0.8"/>
<circle cx="65.20" cy="391.80" r="1.8" fill="#2f6dc0" opacity="0.8"/>
<circle cx="86.90" cy="391.80" r="1.8" fill="#2f6dc0" opacity="0.8"/>
<circle cx="32.65" cy="402.30" r="1.8" fill="#2f6dc0" opacity="0.8"/>
<circle cx="54.35" cy="402.30" r="1.8" fill="#2f6dc0" opacity="0.8"/>
<circle cx="76.05" cy="402.30" r="1.8" fill="#2f6dc0" opacity="0.8"/>
<circle cx="43.50" cy="412.80" r="1.8" fill="#2f6dc0" opacity="0.8"/>
<circle cx="65.20" cy="412.80" r="1.8" fill="#2f6dc0" opacity="0.8"/>
<circle cx="86.90" cy="412.80" r="1.8" fill="#2f6dc0" opacity="0.8"/>
<circle cx="32.65" cy="423.30" r="1.8" fill="#2f6dc0" opacity="0.8"/>
<circle cx="54.35" cy="423.30" r="1.8" fill="#2f6dc0" opacity="0.8"/>
<circle cx="76.05" cy="423.30" r="1.8" fill="#2f6dc0" opacity="0.8"/>
<path d="M118.70,373.40 L107.80,383.60 M118.70,373.40 L129.60,383.60 M140.50,373.40 L129.60,383.60 M140.50,373.40 L151.40,383.60 M162.30,373.40 L151.40,383.60 M107.80,383.60 L118.70,393.80 M129.60,383.60 L118.70,393.80 M129.60,383.60 L140.50,393.80 M151.40,383.60 L140.50,393.80 M151.40,383.60 L162.30,393.80 M118.70,393.80 L107.80,404.00 M118.70,393.80 L129.60,404.00 M140.50,393.80 L129.60,404.00 M140.50,393.80 L151.40,404.00 M162.30,393.80 L151.40,404.00 M107.80,404.00 L118.70,414.20 M129.60,404.00 L118.70,414.20 M129.60,404.00 L140.50,414.20 M151.40,404.00 L140.50,414.20 M151.40,404.00 L162.30,414.20 M118.70,414.20 L107.80,424.40 M118.70,414.20 L129.60,424.40 M140.50,414.20 L129.60,424.40 M140.50,414.20 L151.40,424.40 M162.30,414.20 L151.40,424.40" stroke="#3d7fd2" stroke-width="2.0" fill="none" stroke-linecap="round" opacity="0.88"/>
<path d="M190.20,375.50 L179.30,385.65 M190.20,375.50 L201.10,385.65 M212.00,375.50 L201.10,385.65 M212.00,375.50 L222.90,385.65 M233.80,375.50 L222.90,385.65 M179.30,385.65 L190.20,395.80 M201.10,385.65 L190.20,395.80 M201.10,385.65 L212.00,395.80 M222.90,385.65 L212.00,395.80 M222.90,385.65 L233.80,395.80 M190.20,395.80 L179.30,405.95 M190.20,395.80 L201.10,405.95 M212.00,395.80 L201.10,405.95 M212.00,395.80 L222.90,405.95 M233.80,395.80 L222.90,405.95 M179.30,405.95 L190.20,416.10 M201.10,405.95 L190.20,416.10 M201.10,405.95 L212.00,416.10 M222.90,405.95 L212.00,416.10 M222.90,405.95 L233.80,416.10 M190.20,416.10 L179.30,426.25 M190.20,416.10 L201.10,426.25 M212.00,416.10 L201.10,426.25 M212.00,416.10 L222.90,426.25 M233.80,416.10 L222.90,426.25" stroke="#3d7fd2" stroke-width="2.2" fill="none" stroke-linecap="round" opacity="0.88"/>
<line x1="25.80" y1="424.60" x2="237.80" y2="425.20" stroke="#8fb0dd" stroke-width="1.0"/>
<path d="M32.50,436.10 L44.50,444.50 M56.50,436.10 L44.50,444.50 M56.50,436.10 L68.50,444.50 M80.50,436.10 L68.50,444.50 M80.50,436.10 L92.50,444.50 M44.50,444.50 L32.50,452.90 M44.50,444.50 L56.50,452.90 M68.50,444.50 L56.50,452.90 M68.50,444.50 L80.50,452.90 M92.50,444.50 L80.50,452.90 M32.50,452.90 L44.50,461.30 M56.50,452.90 L44.50,461.30 M56.50,452.90 L68.50,461.30 M80.50,452.90 L68.50,461.30 M80.50,452.90 L92.50,461.30 M44.50,461.30 L32.50,469.70 M44.50,461.30 L56.50,469.70 M68.50,461.30 L56.50,469.70 M68.50,461.30 L80.50,469.70 M92.50,461.30 L80.50,469.70 M32.50,469.70 L44.50,478.10 M56.50,469.70 L44.50,478.10 M56.50,469.70 L68.50,478.10 M80.50,469.70 L68.50,478.10 M80.50,469.70 L92.50,478.10" stroke="#5d96dd" stroke-width="5.8" fill="none" stroke-linecap="round" stroke-linejoin="round"/>
<path d="M32.50,437.70 L44.50,446.10 M56.50,437.70 L44.50,446.10 M56.50,437.70 L68.50,446.10 M80.50,437.70 L68.50,446.10 M80.50,437.70 L92.50,446.10 M44.50,446.10 L32.50,454.50 M44.50,446.10 L56.50,454.50 M68.50,446.10 L56.50,454.50 M68.50,446.10 L80.50,454.50 M92.50,446.10 L80.50,454.50 M32.50,454.50 L44.50,462.90 M56.50,454.50 L44.50,462.90 M56.50,454.50 L68.50,462.90 M80.50,454.50 L68.50,462.90 M80.50,454.50 L92.50,462.90 M44.50,462.90 L32.50,471.30 M44.50,462.90 L56.50,471.30 M68.50,462.90 L56.50,471.30 M68.50,462.90 L80.50,471.30 M92.50,462.90 L80.50,471.30 M32.50,471.30 L44.50,479.70 M56.50,471.30 L44.50,479.70 M56.50,471.30 L68.50,479.70 M80.50,471.30 L68.50,479.70 M80.50,471.30 L92.50,479.70" stroke="#3371c4" stroke-width="1.8" fill="none" stroke-linecap="round" opacity="0.85"/>
<circle cx="32.50" cy="437.30" r="2.0" fill="#2d69bb" opacity="0.7"/>
<circle cx="56.50" cy="437.30" r="2.0" fill="#2d69bb" opacity="0.7"/>
<circle cx="80.50" cy="437.30" r="2.0" fill="#2d69bb" opacity="0.7"/>
<circle cx="44.50" cy="445.70" r="2.0" fill="#2d69bb" opacity="0.7"/>
<circle cx="68.50" cy="445.70" r="2.0" fill="#2d69bb" opacity="0.7"/>
<circle cx="92.50" cy="445.70" r="2.0" fill="#2d69bb" opacity="0.7"/>
<circle cx="32.50" cy="454.10" r="2.0" fill="#2d69bb" opacity="0.7"/>
<circle cx="56.50" cy="454.10" r="2.0" fill="#2d69bb" opacity="0.7"/>
<circle cx="80.50" cy="454.10" r="2.0" fill="#2d69bb" opacity="0.7"/>
<circle cx="44.50" cy="462.50" r="2.0" fill="#2d69bb" opacity="0.7"/>
<circle cx="68.50" cy="462.50" r="2.0" fill="#2d69bb" opacity="0.7"/>
<circle cx="92.50" cy="462.50" r="2.0" fill="#2d69bb" opacity="0.7"/>
<circle cx="32.50" cy="470.90" r="2.0" fill="#2d69bb" opacity="0.7"/>
<circle cx="56.50" cy="470.90" r="2.0" fill="#2d69bb" opacity="0.7"/>
<circle cx="80.50" cy="470.90" r="2.0" fill="#2d69bb" opacity="0.7"/>
<circle cx="44.50" cy="479.30" r="2.0" fill="#2d69bb" opacity="0.7"/>
<circle cx="68.50" cy="479.30" r="2.0" fill="#2d69bb" opacity="0.7"/>
<circle cx="92.50" cy="479.30" r="2.0" fill="#2d69bb" opacity="0.7"/>
<path d="M102.00,434.90 L113.50,443.30 M125.00,434.90 L113.50,443.30 M125.00,434.90 L136.50,443.30 M148.00,434.90 L136.50,443.30 M148.00,434.90 L159.50,443.30 M113.50,443.30 L102.00,451.70 M113.50,443.30 L125.00,451.70 M136.50,443.30 L125.00,451.70 M136.50,443.30 L148.00,451.70 M159.50,443.30 L148.00,451.70 M102.00,451.70 L113.50,460.10 M125.00,451.70 L113.50,460.10 M125.00,451.70 L136.50,460.10 M148.00,451.70 L136.50,460.10 M148.00,451.70 L159.50,460.10 M113.50,460.10 L102.00,468.50 M113.50,460.10 L125.00,468.50 M136.50,460.10 L125.00,468.50 M136.50,460.10 L148.00,468.50 M159.50,460.10 L148.00,468.50 M102.00,468.50 L113.50,476.90 M125.00,468.50 L113.50,476.90 M125.00,468.50 L136.50,476.90 M148.00,468.50 L136.50,476.90 M148.00,468.50 L159.50,476.90" stroke="#5d96dd" stroke-width="5.8" fill="none" stroke-linecap="round" stroke-linejoin="round"/>
<path d="M102.00,436.50 L113.50,444.90 M125.00,436.50 L113.50,444.90 M125.00,436.50 L136.50,444.90 M148.00,436.50 L136.50,444.90 M148.00,436.50 L159.50,444.90 M113.50,444.90 L102.00,453.30 M113.50,444.90 L125.00,453.30 M136.50,444.90 L125.00,453.30 M136.50,444.90 L148.00,453.30 M159.50,444.90 L148.00,453.30 M102.00,453.30 L113.50,461.70 M125.00,453.30 L113.50,461.70 M125.00,453.30 L136.50,461.70 M148.00,453.30 L136.50,461.70 M148.00,453.30 L159.50,461.70 M113.50,461.70 L102.00,470.10 M113.50,461.70 L125.00,470.10 M136.50,461.70 L125.00,470.10 M136.50,461.70 L148.00,470.10 M159.50,461.70 L148.00,470.10 M102.00,470.10 L113.50,478.50 M125.00,470.10 L113.50,478.50 M125.00,470.10 L136.50,478.50 M148.00,470.10 L136.50,478.50 M148.00,470.10 L159.50,478.50" stroke="#3371c4" stroke-width="1.8" fill="none" stroke-linecap="round" opacity="0.85"/>
<circle cx="102.00" cy="436.10" r="2.0" fill="#2d69bb" opacity="0.7"/>
<circle cx="125.00" cy="436.10" r="2.0" fill="#2d69bb" opacity="0.7"/>
<circle cx="148.00" cy="436.10" r="2.0" fill="#2d69bb" opacity="0.7"/>
<circle cx="113.50" cy="444.50" r="2.0" fill="#2d69bb" opacity="0.7"/>
<circle cx="136.50" cy="444.50" r="2.0" fill="#2d69bb" opacity="0.7"/>
<circle cx="159.50" cy="444.50" r="2.0" fill="#2d69bb" opacity="0.7"/>
<circle cx="102.00" cy="452.90" r="2.0" fill="#2d69bb" opacity="0.7"/>
<circle cx="125.00" cy="452.90" r="2.0" fill="#2d69bb" opacity="0.7"/>
<circle cx="148.00" cy="452.90" r="2.0" fill="#2d69bb" opacity="0.7"/>
<circle cx="113.50" cy="461.30" r="2.0" fill="#2d69bb" opacity="0.7"/>
<circle cx="136.50" cy="461.30" r="2.0" fill="#2d69bb" opacity="0.7"/>
<circle cx="159.50" cy="461.30" r="2.0" fill="#2d69bb" opacity="0.7"/>
<circle cx="102.00" cy="469.70" r="2.0" fill="#2d69bb" opacity="0.7"/>
<circle cx="125.00" cy="469.70" r="2.0" fill="#2d69bb" opacity="0.7"/>
<circle cx="148.00" cy="469.70" r="2.0" fill="#2d69bb" opacity="0.7"/>
<circle cx="113.50" cy="478.10" r="2.0" fill="#2d69bb" opacity="0.7"/>
<circle cx="136.50" cy="478.10" r="2.0" fill="#2d69bb" opacity="0.7"/>
<circle cx="159.50" cy="478.10" r="2.0" fill="#2d69bb" opacity="0.7"/>
<path d="M168.80,436.00 L180.30,444.40 M191.80,436.00 L180.30,444.40 M191.80,436.00 L203.30,444.40 M214.80,436.00 L203.30,444.40 M214.80,436.00 L226.30,444.40 M180.30,444.40 L168.80,452.80 M180.30,444.40 L191.80,452.80 M203.30,444.40 L191.80,452.80 M203.30,444.40 L214.80,452.80 M226.30,444.40 L214.80,452.80 M168.80,452.80 L180.30,461.20 M191.80,452.80 L180.30,461.20 M191.80,452.80 L203.30,461.20 M214.80,452.80 L203.30,461.20 M214.80,452.80 L226.30,461.20 M180.30,461.20 L168.80,469.60 M180.30,461.20 L191.80,469.60 M203.30,461.20 L191.80,469.60 M203.30,461.20 L214.80,469.60 M226.30,461.20 L214.80,469.60 M168.80,469.60 L180.30,478.00 M191.80,469.60 L180.30,478.00 M191.80,469.60 L203.30,478.00 M214.80,469.60 L203.30,478.00 M214.80,469.60 L226.30,478.00" stroke="#5d96dd" stroke-width="5.8" fill="none" stroke-linecap="round" stroke-linejoin="round"/>
<path d="M168.80,437.60 L180.30,446.00 M191.80,437.60 L180.30,446.00 M191.80,437.60 L203.30,446.00 M214.80,437.60 L203.30,446.00 M214.80,437.60 L226.30,446.00 M180.30,446.00 L168.80,454.40 M180.30,446.00 L191.80,454.40 M203.30,446.00 L191.80,454.40 M203.30,446.00 L214.80,454.40 M226.30,446.00 L214.80,454.40 M168.80,454.40 L180.30,462.80 M191.80,454.40 L180.30,462.80 M191.80,454.40 L203.30,462.80 M214.80,454.40 L203.30,462.80 M214.80,454.40 L226.30,462.80 M180.30,462.80 L168.80,471.20 M180.30,462.80 L191.80,471.20 M203.30,462.80 L191.80,471.20 M203.30,462.80 L214.80,471.20 M226.30,462.80 L214.80,471.20 M168.80,471.20 L180.30,479.60 M191.80,471.20 L180.30,479.60 M191.80,471.20 L203.30,479.60 M214.80,471.20 L203.30,479.60 M214.80,471.20 L226.30,479.60" stroke="#3371c4" stroke-width="1.8" fill="none" stroke-linecap="round" opacity="0.85"/>
<circle cx="168.80" cy="437.20" r="2.0" fill="#2d69bb" opacity="0.7"/>
<circle cx="191.80" cy="437.20" r="2.0" fill="#2d69bb" opacity="0.7"/>
<circle cx="214.80" cy="437.20" r="2.0" fill="#2d69bb" opacity="0.7"/>
<circle cx="180.30" cy="445.60" r="2.0" fill="#2d69bb" opacity="0.7"/>
<circle cx="203.30" cy="445.60" r="2.0" fill="#2d69bb" opacity="0.7"/>
<circle cx="226.30" cy="445.60" r="2.0" fill="#2d69bb" opacity="0.7"/>
<circle cx="168.80" cy="454.00" r="2.0" fill="#2d69bb" opacity="0.7"/>
<circle cx="191.80" cy="454.00" r="2.0" fill="#2d69bb" opacity="0.7"/>
<circle cx="214.80" cy="454.00" r="2.0" fill="#2d69bb" opacity="0.7"/>
<circle cx="180.30" cy="462.40" r="2.0" fill="#2d69bb" opacity="0.7"/>
<circle cx="203.30" cy="462.40" r="2.0" fill="#2d69bb" opacity="0.7"/>
<circle cx="226.30" cy="462.40" r="2.0" fill="#2d69bb" opacity="0.7"/>
<circle cx="168.80" cy="470.80" r="2.0" fill="#2d69bb" opacity="0.7"/>
<circle cx="191.80" cy="470.80" r="2.0" fill="#2d69bb" opacity="0.7"/>
<circle cx="214.80" cy="470.80" r="2.0" fill="#2d69bb" opacity="0.7"/>
<circle cx="180.30" cy="479.20" r="2.0" fill="#2d69bb" opacity="0.7"/>
<circle cx="203.30" cy="479.20" r="2.0" fill="#2d69bb" opacity="0.7"/>
<circle cx="226.30" cy="479.20" r="2.0" fill="#2d69bb" opacity="0.7"/>
<rect x="30.6" y="308.2" width="57.2" height="56.8" fill="#fbfbfc"/>
<defs><clipPath id="cb1"><rect x="30.6" y="308.2" width="57.2" height="56.8"/></clipPath></defs>
<g clip-path="url(#cb1)" stroke-linecap="round">
<path d="M21.6,313.7 L43.6,329.7 L21.6,345.7 M43.6,329.7 L67.6,303.7 M50.2,384.2 L72.2,362.2 L94.2,384.2 M72.2,362.2 L98.2,340.2 M79.80000000000001,304.2 L93.80000000000001,318.2" stroke="#9cc0ee" stroke-width="7.5" fill="none" opacity="0.85"/>
<path d="M21.6,313.7 L43.6,329.7 L21.6,345.7 M43.6,329.7 L67.6,303.7 M50.2,384.2 L72.2,362.2 L94.2,384.2 M72.2,362.2 L98.2,340.2 M79.80000000000001,304.2 L93.80000000000001,318.2" stroke="#4b87d3" stroke-width="4.2" fill="none" opacity="0.9"/>
<polygon points="40.78,332.18 56.55,347.14 69.38,364.68 75.02,359.72 59.25,344.76 46.42,327.22" fill="#4d89d4" opacity="0.95"/>
<circle cx="43.6" cy="329.7" r="6.0" fill="#7aa8e4" opacity="0.8"/>
<circle cx="43.6" cy="329.7" r="3.6" fill="#4682d0" opacity="0.6"/>
<circle cx="72.2" cy="362.2" r="6.0" fill="#7aa8e4" opacity="0.8"/>
<circle cx="72.2" cy="362.2" r="3.6" fill="#4682d0" opacity="0.6"/>
<polyline points="49.72,331.23 59.48,344.56 71.46,355.93" fill="none" stroke="#111" stroke-width="0.75" stroke-dasharray="1.3,1"/>
<polyline points="44.34,335.97 56.32,347.34 66.08,360.67" fill="none" stroke="#111" stroke-width="0.75" stroke-dasharray="1.3,1"/>
<line x1="45.89" y1="356.52" x2="53.40" y2="349.91" stroke="#111" stroke-width="1.3"/>
<polygon points="55.65,347.93 53.95,352.36 51.04,349.05" fill="#111"/>
<line x1="69.91" y1="335.38" x2="62.40" y2="341.99" stroke="#111" stroke-width="1.3"/>
<polygon points="60.15,343.97 61.85,339.54 64.76,342.85" fill="#111"/>
</g>
<text x="42.56" y="360.71" font-size="10" text-anchor="start" fill="#111">t</text>
<rect x="30.6" y="308.2" width="57.2" height="56.8" fill="none" stroke="#333" stroke-width="0.9"/>
<rect x="38.2" y="384.8" width="21.5" height="20.899999999999977" fill="none" stroke="#333" stroke-width="0.9"/>
<line x1="30.60" y1="365.00" x2="38.20" y2="384.80" stroke="#333" stroke-width="0.8"/>
<line x1="87.80" y1="365.00" x2="59.70" y2="384.80" stroke="#333" stroke-width="0.8"/>
<rect x="101.6" y="308.0" width="57.2" height="56.8" fill="#fbfbfc"/>
<defs><clipPath id="cb2"><rect x="101.6" y="308.0" width="57.2" height="56.8"/></clipPath></defs>
<g clip-path="url(#cb2)" stroke-linecap="round">
<path d="M89.6,312.1 L111.6,328.1 L89.6,344.1 M111.6,328.1 L135.6,302.1 M117.5,377.1 L139.5,355.1 L161.5,377.1 M139.5,355.1 L165.5,333.1 M150.8,304.0 L164.8,318.0" stroke="#9cc0ee" stroke-width="7.5" fill="none" opacity="0.85"/>
<path d="M89.6,312.1 L111.6,328.1 L89.6,344.1 M111.6,328.1 L135.6,302.1 M117.5,377.1 L139.5,355.1 L161.5,377.1 M139.5,355.1 L165.5,333.1 M150.8,304.0 L164.8,318.0" stroke="#4b87d3" stroke-width="4.2" fill="none" opacity="0.9"/>
<polygon points="108.99,330.79 118.44,337.78 129.60,348.58 136.89,357.79 142.11,352.41 132.66,345.42 121.50,334.62 114.21,325.41" fill="#4d89d4" opacity="0.95"/>
<circle cx="111.6" cy="328.1" r="6.0" fill="#7aa8e4" opacity="0.8"/>
<circle cx="111.6" cy="328.1" r="3.6" fill="#4682d0" opacity="0.6"/>
<circle cx="139.5" cy="355.1" r="6.0" fill="#7aa8e4" opacity="0.8"/>
<circle cx="139.5" cy="355.1" r="3.6" fill="#4682d0" opacity="0.6"/>
<polyline points="117.33,328.88 121.71,334.40 132.87,345.20 138.54,349.40" fill="none" stroke="#111" stroke-width="0.75" stroke-dasharray="1.3,1"/>
<polyline points="112.56,333.80 118.23,338.00 129.39,348.80 133.77,354.32" fill="none" stroke="#111" stroke-width="0.75" stroke-dasharray="1.3,1"/>
<line x1="114.42" y1="353.10" x2="121.38" y2="345.91" stroke="#111" stroke-width="1.3"/>
<polygon points="123.46,343.76 122.12,348.30 118.96,345.24" fill="#111"/>
<line x1="136.68" y1="330.10" x2="129.72" y2="337.29" stroke="#111" stroke-width="1.3"/>
<polygon points="127.64,339.44 128.98,334.90 132.14,337.96" fill="#111"/>
</g>
<text x="111.18" y="357.38" font-size="10" text-anchor="start" fill="#111">t</text>
<rect x="101.6" y="308.0" width="57.2" height="56.8" fill="none" stroke="#333" stroke-width="0.9"/>
<rect x="114.2" y="387.3" width="21.10000000000001" height="21.30000000000001" fill="none" stroke="#333" stroke-width="0.9"/>
<line x1="101.60" y1="364.80" x2="114.20" y2="387.30" stroke="#333" stroke-width="0.8"/>
<line x1="158.80" y1="364.80" x2="135.30" y2="387.30" stroke="#333" stroke-width="0.8"/>
<rect x="172.3" y="308.0" width="57.2" height="56.8" fill="#fbfbfc"/>
<defs><clipPath id="cb3"><rect x="172.3" y="308.0" width="57.2" height="56.8"/></clipPath></defs>
<g clip-path="url(#cb3)" stroke-linecap="round">
<path d="M162.8,310.2 L184.8,326.2 L162.8,342.2 M184.8,326.2 L208.8,300.2 M189.8,377.1 L211.8,355.1 L233.8,377.1 M211.8,355.1 L237.8,333.1 M221.5,304.0 L235.5,318.0" stroke="#9cc0ee" stroke-width="7.5" fill="none" opacity="0.85"/>
<path d="M162.8,310.2 L184.8,326.2 L162.8,342.2 M184.8,326.2 L208.8,300.2 M189.8,377.1 L211.8,355.1 L233.8,377.1 M211.8,355.1 L237.8,333.1 M221.5,304.0 L235.5,318.0" stroke="#4b87d3" stroke-width="4.2" fill="none" opacity="0.9"/>
<polygon points="183.12,327.77 210.12,356.67 213.48,353.53 186.48,324.63" fill="#4d89d4" opacity="0.95"/>
<circle cx="184.8" cy="326.2" r="6.0" fill="#7aa8e4" opacity="0.8"/>
<circle cx="184.8" cy="326.2" r="3.6" fill="#4682d0" opacity="0.6"/>
<circle cx="211.8" cy="355.1" r="6.0" fill="#7aa8e4" opacity="0.8"/>
<circle cx="211.8" cy="355.1" r="3.6" fill="#4682d0" opacity="0.6"/>
<polyline points="189.94,327.89 210.46,349.86" fill="none" stroke="#111" stroke-width="0.75" stroke-dasharray="1.3,1"/>
<polyline points="186.14,331.44 206.66,353.41" fill="none" stroke="#111" stroke-width="0.75" stroke-dasharray="1.3,1"/>
<line x1="186.61" y1="351.57" x2="193.92" y2="344.75" stroke="#111" stroke-width="1.3"/>
<polygon points="196.11,342.70 194.54,347.17 191.54,343.96" fill="#111"/>
<line x1="209.99" y1="329.73" x2="202.68" y2="336.55" stroke="#111" stroke-width="1.3"/>
<polygon points="200.49,338.60 202.06,334.13 205.06,337.34" fill="#111"/>
</g>
<text x="183.31" y="355.80" font-size="10" text-anchor="start" fill="#111">t</text>
<rect x="172.3" y="308.0" width="57.2" height="56.8" fill="none" stroke="#333" stroke-width="0.9"/>
<rect x="185.5" y="389.0" width="20.69999999999999" height="22.100000000000023" fill="none" stroke="#333" stroke-width="0.9"/>
<line x1="172.30" y1="364.80" x2="185.50" y2="389.00" stroke="#333" stroke-width="0.8"/>
<line x1="229.50" y1="364.80" x2="206.20" y2="389.00" stroke="#333" stroke-width="0.8"/>
<text x="250.00" y="9.70" font-size="10" text-anchor="start" fill="#231f20" font-weight="bold">c</text>
<polygon points="267.8,16.4 276.5,10.1 283.2,4.3 295.2,3.5 296.7,7.2 307.3,7.7 310.2,11.6 319.8,11.6 322.7,15.9 321.7,27.9 315.0,29.4 314.5,34.2 307.3,34.7 306.8,40.5 296.7,42.4 294.8,36.6 283.7,38.1 281.7,33.2 270.2,32.8 267.3,27.0" fill="#454545" stroke="#454545" stroke-width="0.8" stroke-linejoin="round"/>
<polygon points="283.7,4.6 293.5,4.1 295.3,8.6 285.5,9.1" fill="#202020" stroke="#7c7c7c" stroke-width="1.0"/>
<polygon points="286.7,9.1 296.5,8.6 298.3,13.1 288.5,13.6" fill="#202020" stroke="#7c7c7c" stroke-width="1.0"/>
<polygon points="296.9,9.1 306.7,8.6 308.5,13.1 298.7,13.6" fill="#202020" stroke="#7c7c7c" stroke-width="1.0"/>
<polygon points="279.0,13.9 288.8,13.4 290.6,17.9 280.8,18.3" fill="#202020" stroke="#7c7c7c" stroke-width="1.0"/>
<polygon points="289.9,13.9 299.7,13.4 301.5,17.9 291.7,18.3" fill="#202020" stroke="#7c7c7c" stroke-width="1.0"/>
<polygon points="300.2,13.4 310.0,12.9 311.8,17.4 302.0,17.9" fill="#202020" stroke="#7c7c7c" stroke-width="1.0"/>
<polygon points="281.2,19.8 291.0,19.2 292.8,23.6 283.0,24.1" fill="#202020" stroke="#7c7c7c" stroke-width="1.0"/>
<polygon points="292.0,19.8 301.8,19.2 303.6,23.6 293.8,24.1" fill="#202020" stroke="#7c7c7c" stroke-width="1.0"/>
<polygon points="302.4,18.8 312.2,18.2 314.0,22.6 304.2,23.1" fill="#202020" stroke="#7c7c7c" stroke-width="1.0"/>
<polygon points="293.8,24.8 303.6,24.2 305.4,28.6 295.6,29.1" fill="#202020" stroke="#7c7c7c" stroke-width="1.0"/>
<path d="M267.5,27 L270.2,32.8 L281.7,33.2 L283.7,38.1 L294.8,36.6 L296.7,42.4 L306.8,40.5 L307.3,34.7 L314.5,34.2 L315,29.4 L321.7,27.9" stroke="#555" stroke-width="0.8" fill="none"/>
<text x="296.40" y="54.60" font-size="10" text-anchor="middle" fill="#231f20">No Gradient</text>
<polygon points="267.4,85.8 269.4,74.4 276.4,68.4 284.3,62.0 294.3,61.0 295.7,65.4 306.7,65.9 311.6,69.4 319.6,69.4 322.6,73.9 322.0,85.3 315.1,86.3 314.6,91.7 307.7,92.2 307.2,98.7 296.7,99.7 294.8,95.2 283.8,95.7 282.3,91.3 269.9,90.8" fill="#464646" stroke="#464646" stroke-width="0.8" stroke-linejoin="round"/>
<polygon points="286.6,61.9 294.4,61.4 296.0,65.6 288.2,66.1" fill="#202020" stroke="#7c7c7c" stroke-width="1.0"/>
<polygon points="280.6,67.6 288.4,67.1 290.0,71.2 282.2,71.8" fill="#202020" stroke="#7c7c7c" stroke-width="1.0"/>
<polygon points="288.6,66.8 296.4,66.2 298.0,70.4 290.2,70.9" fill="#202020" stroke="#7c7c7c" stroke-width="1.0"/>
<polygon points="300.0,66.2 307.8,65.7 309.4,69.8 301.6,70.3" fill="#202020" stroke="#7c7c7c" stroke-width="1.0"/>
<polygon points="274.2,73.6 282.0,73.1 283.6,77.2 275.8,77.8" fill="#202020" stroke="#7c7c7c" stroke-width="1.0"/>
<polygon points="282.1,73.1 289.9,72.6 291.5,76.8 283.7,77.2" fill="#202020" stroke="#7c7c7c" stroke-width="1.0"/>
<polygon points="291.5,72.1 299.3,71.6 300.9,75.8 293.1,76.2" fill="#202020" stroke="#7c7c7c" stroke-width="1.0"/>
<polygon points="302.0,71.1 309.8,70.6 311.4,74.8 303.6,75.2" fill="#202020" stroke="#7c7c7c" stroke-width="1.0"/>
<polygon points="312.3,69.8 320.1,69.2 321.7,73.4 313.9,73.9" fill="#202020" stroke="#7c7c7c" stroke-width="1.0"/>
<polygon points="282.6,78.0 290.4,77.5 292.0,81.6 284.2,82.1" fill="#202020" stroke="#7c7c7c" stroke-width="1.0"/>
<polygon points="292.5,77.0 300.3,76.5 301.9,80.6 294.1,81.1" fill="#202020" stroke="#7c7c7c" stroke-width="1.0"/>
<polygon points="303.0,75.6 310.8,75.1 312.4,79.2 304.6,79.8" fill="#202020" stroke="#7c7c7c" stroke-width="1.0"/>
<polygon points="295.0,82.2 302.8,81.7 304.4,85.8 296.6,86.3" fill="#202020" stroke="#7c7c7c" stroke-width="1.0"/>
<path d="M267.4,85.8 L269.9,90.8 L282.3,91.3 L283.8,95.7 L294.8,95.2 L296.7,99.7 L307.2,98.7 L307.7,92.2 L314.6,91.7 L315.1,86.3 L322,85.3" stroke="#555" stroke-width="0.8" fill="none"/>
<text x="295.80" y="110.50" font-size="10" text-anchor="middle" fill="#231f20">Full Gradient</text>
<text x="344.30" y="10.20" font-size="10" text-anchor="start" fill="#231f20" font-weight="bold">d</text>
<rect x="394" y="1.2" width="55.80000000000001" height="107.6" fill="none"/>
<rect x="399.4" y="9.98" width="21.4" height="98.82" fill="#ee6a50"/>
<rect x="426" y="9.47" width="21.4" height="99.33" fill="#6dcdca"/>
<line x1="410.10" y1="8.60" x2="410.10" y2="11.40" stroke="#231f20" stroke-width="0.9"/>
<line x1="408.50" y1="8.60" x2="411.70" y2="8.60" stroke="#231f20" stroke-width="0.9"/>
<line x1="408.50" y1="11.40" x2="411.70" y2="11.40" stroke="#231f20" stroke-width="0.9"/>
<line x1="436.70" y1="6.70" x2="436.70" y2="13.00" stroke="#231f20" stroke-width="0.9"/>
<line x1="435.10" y1="6.70" x2="438.30" y2="6.70" stroke="#231f20" stroke-width="0.9"/>
<line x1="435.10" y1="13.00" x2="438.30" y2="13.00" stroke="#231f20" stroke-width="0.9"/>
<rect x="397.5" y="1.2" width="52.30000000000001" height="107.6" fill="none" stroke="#231f20" stroke-width="1.1"/>
<line x1="397.50" y1="108.80" x2="400.00" y2="108.80" stroke="#231f20" stroke-width="0.9"/>
<text x="392.30" y="112.40" font-size="10" text-anchor="end" fill="#231f20">0.0</text>
<line x1="397.50" y1="74.90" x2="400.00" y2="74.90" stroke="#231f20" stroke-width="0.9"/>
<text x="392.30" y="78.50" font-size="10" text-anchor="end" fill="#231f20">0.1</text>
<line x1="397.50" y1="41.00" x2="400.00" y2="41.00" stroke="#231f20" stroke-width="0.9"/>
<text x="392.30" y="44.60" font-size="10" text-anchor="end" fill="#231f20">0.2</text>
<line x1="397.50" y1="7.10" x2="400.00" y2="7.10" stroke="#231f20" stroke-width="0.9"/>
<text x="392.30" y="10.70" font-size="10" text-anchor="end" fill="#231f20">0.3</text>
<text x="372.60" y="64.80" font-size="10" text-anchor="middle" fill="#231f20" transform="rotate(-90 372.6 64.8)">Relative Density</text>
<text x="413.70" y="59.30" font-size="10" text-anchor="middle" fill="#231f20" transform="rotate(-90 413.7 59.3)">No Grad.</text>
<text x="440.40" y="59.40" font-size="10" text-anchor="middle" fill="#231f20" transform="rotate(-90 440.4 59.4)">Gradient</text>
<text x="461.50" y="10.20" font-size="10" text-anchor="start" fill="#231f20" font-weight="bold">e</text>
<defs><clipPath id="eclip"><rect x="503.4" y="0.6" width="181.0" height="107.4"/></clipPath></defs>
<g clip-path="url(#eclip)">
<path d="M503.40,107.50 L508.57,103.00 L513.74,99.00 L518.92,95.50 L524.09,92.50 L529.26,90.70 L533.14,90.30 L537.02,91.00 L542.19,92.00 L545.55,91.50 L546.33,96.00 L549.95,95.50 L552.53,97.50 L555.12,96.50 L560.29,95.50 L565.46,96.00 L570.64,97.00 L575.81,96.50 L580.98,97.00 L584.86,100.00 L588.74,98.50 L593.91,98.00 L601.67,97.00 L606.84,96.00 L614.60,95.00 L622.36,94.50 L627.53,93.00 L632.70,92.50 L635.80,90.50 L637.87,95.00 L639.16,97.00 L643.04,94.00 L648.22,88.00 L650.80,86.00 L655.97,83.00 L658.56,82.50 L662.96,80.00 L665.02,83.50 L667.61,76.00 L670.20,69.00 L674.08,56.00 L677.44,41.00 L679.77,30.00 L681.83,21.00 L683.13,24.00 L684.42,12.00 L684.42,16.60 L683.13,28.60 L681.83,25.60 L679.77,34.60 L677.44,45.60 L674.08,60.60 L670.20,73.60 L667.61,80.60 L665.02,88.10 L662.96,84.60 L658.56,87.10 L655.97,87.60 L650.80,90.60 L648.22,92.60 L643.04,95.60 L639.16,98.60 L637.87,96.60 L635.80,92.10 L632.70,94.10 L627.53,97.60 L622.36,99.10 L614.60,99.60 L606.84,100.60 L601.67,101.60 L593.91,102.60 L588.74,103.10 L584.86,104.60 L580.98,101.60 L575.81,101.10 L570.64,101.60 L565.46,100.60 L560.29,100.10 L555.12,101.10 L552.53,102.10 L549.95,100.10 L546.33,100.60 L545.55,96.10 L542.19,93.60 L537.02,92.60 L533.14,91.90 L529.26,92.30 L524.09,94.10 L518.92,97.10 L513.74,100.60 L508.57,104.60 L503.40,109.10Z" fill="#bfe8e6" opacity="0.9"/>
<path d="M648.22,90.30 L650.80,88.30 L655.97,85.30 L658.56,84.80 L662.96,82.30 L665.02,85.80 L667.61,78.30 L670.20,71.30 L674.08,58.30 L677.44,43.30 L679.77,32.30 L681.83,23.30 L683.13,26.30 L684.42,14.30" stroke="#bfe8e6" stroke-width="6" fill="none" stroke-linejoin="round" stroke-linecap="round" opacity="0.9"/>
<path d="M524.09,97.10 L529.26,95.60 L534.43,94.40 L539.60,93.70 L544.78,93.50 L546.07,91.50 L546.84,95.10 L549.95,95.60 L552.53,97.10 L555.12,99.60 L560.29,99.30 L565.46,99.60 L569.34,99.10 L570.64,100.90 L575.81,101.10 L580.98,102.90 L582.27,104.60 L583.57,106.10 L584.34,107.10 L584.34,109.50 L583.57,108.50 L582.27,107.00 L580.98,105.30 L575.81,107.50 L570.64,107.30 L569.34,105.50 L565.46,106.00 L560.29,105.70 L555.12,106.00 L552.53,103.50 L549.95,102.00 L546.84,101.50 L546.07,97.90 L544.78,95.90 L539.60,96.10 L534.43,96.80 L529.26,98.00 L524.09,99.50Z" fill="#f6c9bd" opacity="0.8"/>
<path d="M503.40,108.30 L504.43,107.74 L505.47,107.18 L506.50,106.62 L507.54,106.06 L508.57,105.23 L509.61,104.69 L510.64,104.69 L511.68,104.13 L512.71,103.14 L513.74,102.66 L515.04,102.07 L516.33,101.67 L517.62,100.86 L518.92,100.24 L519.95,99.85 L520.98,99.70 L522.02,99.14 L523.05,98.76 L524.09,98.17 L525.12,97.70 L526.16,97.43 L527.19,97.37 L528.23,97.13 L529.26,96.94 L530.55,96.78 L531.85,96.48 L533.14,95.92 L534.43,95.71 L535.47,95.53 L536.50,95.08 L537.54,95.16 L538.57,95.00 L539.60,95.06 L540.90,95.14 L542.19,94.90 L543.48,94.97 L544.78,94.69 L546.07,94.40 L546.84,98.20 L548.40,98.74 L549.95,98.56 L551.24,99.37 L552.53,100.16 L553.83,101.31 L555.12,102.64 L556.41,102.55 L557.71,102.74 L559.00,102.29 L560.29,102.22 L561.59,102.78 L562.88,102.50 L564.17,102.60 L565.46,102.82 L566.76,102.62 L568.05,102.47 L569.34,102.05 L570.64,104.10 L571.67,103.94 L572.70,104.27 L573.74,103.99 L574.77,104.02 L575.81,104.32 L577.10,104.21 L578.39,103.95 L579.69,104.02 L580.98,104.11 L582.27,105.97 L583.57,107.41 L584.34,108.30" stroke="#e8412f" stroke-width="1.1" fill="none" stroke-linejoin="round"/>
<path d="M503.40,108.30 L504.43,107.40 L505.47,106.50 L506.50,105.60 L507.54,104.70 L508.57,104.01 L509.61,102.96 L510.64,102.30 L511.68,101.32 L512.71,100.50 L513.74,100.15 L515.04,99.31 L516.33,97.78 L517.62,97.37 L518.92,96.51 L519.95,95.30 L520.98,95.12 L522.02,94.23 L523.05,93.92 L524.09,93.19 L525.12,93.22 L526.16,92.47 L527.19,91.93 L528.23,91.84 L529.26,91.31 L530.55,91.23 L531.85,91.58 L533.14,90.89 L534.43,91.26 L535.73,91.73 L537.02,92.18 L538.31,91.76 L539.60,92.32 L540.90,92.37 L542.19,92.50 L543.31,92.96 L544.43,93.13 L545.55,93.88 L546.33,98.06 L547.53,98.18 L548.74,97.62 L549.95,97.50 L551.24,99.12 L552.53,100.09 L553.83,99.53 L555.12,98.43 L556.41,98.60 L557.71,98.20 L559.00,98.21 L560.29,97.79 L561.59,98.02 L562.88,98.17 L564.17,98.11 L565.46,98.23 L566.50,98.18 L567.53,98.55 L568.57,98.56 L569.60,98.81 L570.64,98.91 L571.67,99.06 L572.70,99.37 L573.74,98.71 L574.77,98.53 L575.81,98.48 L577.10,98.87 L578.39,98.88 L579.69,99.41 L580.98,99.03 L582.27,100.24 L583.57,101.47 L584.86,102.65 L586.15,101.52 L587.44,100.91 L588.74,101.13 L590.03,100.43 L591.32,100.62 L592.62,100.70 L593.91,100.46 L595.02,99.94 L596.13,99.72 L597.23,100.24 L598.34,99.64 L599.45,99.95 L600.56,99.27 L601.67,99.44 L602.70,98.80 L603.74,98.52 L604.77,98.70 L605.81,98.10 L606.84,98.45 L607.95,98.50 L609.06,97.93 L610.16,98.25 L611.27,97.97 L612.38,97.66 L613.49,97.35 L614.60,97.58 L615.71,97.59 L616.81,96.86 L617.92,97.23 L619.03,96.65 L620.14,96.63 L621.25,96.97 L622.36,96.83 L623.65,96.41 L624.94,95.93 L626.24,95.60 L627.53,95.25 L628.56,94.80 L629.60,94.15 L630.63,94.09 L631.67,93.76 L632.70,93.12 L633.73,92.84 L634.77,92.13 L635.80,90.92 L636.84,93.53 L637.87,95.76 L639.16,98.19 L640.46,96.87 L641.75,95.74 L643.04,95.18 L644.08,93.81 L645.11,92.89 L646.15,92.45 L647.18,91.10 L648.22,90.33 L649.51,89.16 L650.80,88.42 L651.84,87.53 L652.87,86.91 L653.91,86.88 L654.94,86.25 L655.97,85.16 L657.27,84.68 L658.56,85.00 L659.66,84.21 L660.76,83.48 L661.86,83.07 L662.96,82.41 L663.99,84.20 L665.02,85.90 L666.32,81.97 L667.61,78.46 L668.90,74.90 L670.20,71.08 L671.49,67.35 L672.78,62.58 L674.08,58.11 L675.20,53.45 L676.32,48.52 L677.44,43.06 L678.60,38.01 L679.77,32.55 L681.83,23.35 L683.13,26.14 L684.42,14.30" stroke="#1ab6bf" stroke-width="1.2" fill="none" stroke-linejoin="round"/>
</g>
<rect x="503.4" y="0.6" width="181.0" height="107.4" fill="none" stroke="#231f20" stroke-width="1.2"/>
<line x1="503.40" y1="108.30" x2="505.60" y2="108.30" stroke="#231f20" stroke-width="0.9"/>
<text x="496.40" y="110.70" font-size="10" text-anchor="end" fill="#231f20">0</text>
<line x1="503.40" y1="88.30" x2="505.60" y2="88.30" stroke="#231f20" stroke-width="0.9"/>
<text x="496.40" y="90.70" font-size="10" text-anchor="end" fill="#231f20">2</text>
<line x1="503.40" y1="68.30" x2="505.60" y2="68.30" stroke="#231f20" stroke-width="0.9"/>
<text x="496.40" y="70.70" font-size="10" text-anchor="end" fill="#231f20">4</text>
<line x1="503.40" y1="48.30" x2="505.60" y2="48.30" stroke="#231f20" stroke-width="0.9"/>
<text x="496.40" y="50.70" font-size="10" text-anchor="end" fill="#231f20">6</text>
<line x1="503.40" y1="28.30" x2="505.60" y2="28.30" stroke="#231f20" stroke-width="0.9"/>
<text x="496.40" y="30.70" font-size="10" text-anchor="end" fill="#231f20">8</text>
<line x1="503.40" y1="8.30" x2="505.60" y2="8.30" stroke="#231f20" stroke-width="0.9"/>
<text x="496.40" y="10.70" font-size="10" text-anchor="end" fill="#231f20">10</text>
<line x1="529.26" y1="108.00" x2="529.26" y2="105.80" stroke="#231f20" stroke-width="0.9"/>
<line x1="555.12" y1="108.00" x2="555.12" y2="105.80" stroke="#231f20" stroke-width="0.9"/>
<line x1="580.98" y1="108.00" x2="580.98" y2="105.80" stroke="#231f20" stroke-width="0.9"/>
<line x1="606.84" y1="108.00" x2="606.84" y2="105.80" stroke="#231f20" stroke-width="0.9"/>
<line x1="632.70" y1="108.00" x2="632.70" y2="105.80" stroke="#231f20" stroke-width="0.9"/>
<line x1="658.56" y1="108.00" x2="658.56" y2="105.80" stroke="#231f20" stroke-width="0.9"/>
<text x="507.00" y="118.90" font-size="10" text-anchor="middle" fill="#231f20">0.0</text>
<text x="558.72" y="118.90" font-size="10" text-anchor="middle" fill="#231f20">0.2</text>
<text x="610.44" y="118.90" font-size="10" text-anchor="middle" fill="#231f20">0.4</text>
<text x="662.16" y="118.90" font-size="10" text-anchor="middle" fill="#231f20">0.6</text>
<text x="580.70" y="130.10" font-size="10" text-anchor="middle" fill="#231f20">Strain (mm/mm)</text>
<text x="485.90" y="58.50" font-size="10" text-anchor="middle" fill="#231f20" transform="rotate(-90 485.9 58.5)">Stress (MPa)</text>
<line x1="512.20" y1="11.90" x2="523.70" y2="11.90" stroke="#e8412f" stroke-width="1.3"/>
<line x1="512.20" y1="25.10" x2="523.70" y2="25.10" stroke="#1ab6bf" stroke-width="1.3"/>
<text x="527.40" y="14.60" font-size="10" text-anchor="start" fill="#231f20">No Gradient</text>
<text x="527.40" y="27.70" font-size="10" text-anchor="start" fill="#231f20">Gradient</text>
<text x="506.60" y="104.50" font-size="10" text-anchor="middle" fill="#231f20">i</text>
<text x="521.60" y="92.80" font-size="10" text-anchor="middle" fill="#231f20">ii</text>
<text x="548.20" y="89.10" font-size="10" text-anchor="middle" fill="#231f20">iii</text>
<text x="611.60" y="91.00" font-size="10" text-anchor="middle" fill="#231f20">iv</text>
<text x="645.30" y="82.00" font-size="10" text-anchor="middle" fill="#231f20">v</text>
<text x="676.20" y="18.30" font-size="10" text-anchor="middle" fill="#231f20">vi</text>
<text x="249.60" y="130.40" font-size="10" text-anchor="start" fill="#231f20" font-weight="bold">f</text>
<text x="273.60" y="159.90" font-size="10" text-anchor="middle" fill="#231f20" transform="rotate(-90 273.6 159.9)">No Grad.</text>
<text x="273.60" y="220.90" font-size="10" text-anchor="middle" fill="#231f20" transform="rotate(-90 273.6 220.9)">Ful Grad.</text>
<line x1="282.30" y1="136.00" x2="335.70" y2="136.00" stroke="#c8c8c8" stroke-width="0.8"/>
<line x1="282.30" y1="178.30" x2="335.70" y2="178.30" stroke="#d8d8d8" stroke-width="0.8"/>
<path d="M293.85,137.25 L286.47,143.88 M293.85,137.25 L301.23,143.88 M308.62,137.25 L301.23,143.88 M308.62,137.25 L316.00,143.88 M323.39,137.25 L316.00,143.88 M323.39,137.25 L330.77,143.88 M286.47,143.88 L293.85,150.52 M301.23,143.88 L293.85,150.52 M301.23,143.88 L308.62,150.52 M316.00,143.88 L308.62,150.52 M316.00,143.88 L323.39,150.52 M330.77,143.88 L323.39,150.52 M293.85,150.52 L286.47,157.15 M293.85,150.52 L301.23,157.15 M308.62,150.52 L301.23,157.15 M308.62,150.52 L316.00,157.15 M323.39,150.52 L316.00,157.15 M323.39,150.52 L330.77,157.15 M286.47,157.15 L293.85,163.78 M301.23,157.15 L293.85,163.78 M301.23,157.15 L308.62,163.78 M316.00,157.15 L308.62,163.78 M316.00,157.15 L323.39,163.78 M330.77,157.15 L323.39,163.78 M293.85,163.78 L286.47,170.42 M293.85,163.78 L301.23,170.42 M308.62,163.78 L301.23,170.42 M308.62,163.78 L316.00,170.42 M323.39,163.78 L316.00,170.42 M323.39,163.78 L330.77,170.42 M286.47,170.42 L293.85,177.06 M301.23,170.42 L293.85,177.06 M301.23,170.42 L308.62,177.06 M316.00,170.42 L308.62,177.06 M316.00,170.42 L323.39,177.06 M330.77,170.42 L323.39,177.06" stroke="#000" stroke-width="2.1" fill="none" stroke-linecap="round" stroke-linejoin="round"/>
<line x1="338.00" y1="142.80" x2="395.00" y2="142.80" stroke="#c8c8c8" stroke-width="0.8"/>
<line x1="338.00" y1="177.20" x2="395.00" y2="177.20" stroke="#d8d8d8" stroke-width="0.8"/>
<path d="M351.33,144.04 L343.60,149.43 M351.33,144.04 L359.07,149.43 M366.80,144.04 L359.07,149.43 M366.80,144.04 L374.54,149.43 M382.28,144.04 L374.54,149.43 M382.28,144.04 L390.01,149.43 M343.60,149.43 L351.33,154.81 M359.07,149.43 L351.33,154.81 M359.07,149.43 L366.80,154.81 M374.54,149.43 L366.80,154.81 M374.54,149.43 L382.28,154.81 M390.01,149.43 L382.28,154.81 M351.33,154.81 L343.60,160.19 M351.33,154.81 L359.07,160.19 M366.80,154.81 L359.07,160.19 M366.80,154.81 L374.54,160.19 M382.28,154.81 L374.54,160.19 M382.28,154.81 L390.01,160.19 M343.60,160.19 L351.33,165.57 M359.07,160.19 L351.33,165.57 M359.07,160.19 L366.80,165.57 M374.54,160.19 L366.80,165.57 M374.54,160.19 L382.28,165.57 M390.01,160.19 L382.28,165.57 M351.33,165.57 L343.60,170.95 M351.33,165.57 L359.07,170.95 M366.80,165.57 L359.07,170.95 M366.80,165.57 L374.54,170.95 M382.28,165.57 L374.54,170.95 M382.28,165.57 L390.01,170.95 M343.60,170.95 L351.33,176.33 M359.07,170.95 L351.33,176.33 M359.07,170.95 L366.80,176.33 M374.54,170.95 L366.80,176.33 M374.54,170.95 L382.28,176.33 M390.01,170.95 L382.28,176.33" stroke="#000" stroke-width="2.1" fill="none" stroke-linecap="round" stroke-linejoin="round"/>
<line x1="397.00" y1="143.90" x2="455.00" y2="143.90" stroke="#c8c8c8" stroke-width="0.8"/>
<line x1="397.00" y1="178.20" x2="455.00" y2="178.20" stroke="#d8d8d8" stroke-width="0.8"/>
<path d="M408.83,145.15 L400.12,150.77 M408.83,145.15 L417.17,150.11 M425.67,145.21 L417.17,150.11 M425.67,145.21 L435.09,150.37 M442.73,144.63 L435.09,150.37 M442.73,144.63 L451.41,150.38 M400.12,150.77 L409.55,155.32 M417.17,150.11 L409.55,155.32 M417.17,150.11 L426.14,156.10 M435.09,150.37 L426.14,156.10 M435.09,150.37 L442.54,155.96 M451.41,150.38 L442.54,155.96 M409.55,155.32 L401.31,160.53 M409.55,155.32 L418.07,161.10 M426.14,156.10 L418.07,161.10 M426.14,156.10 L433.84,160.50 M442.54,155.96 L433.84,160.50 M442.54,155.96 L451.46,160.97 M401.31,160.53 L409.69,166.71 M418.07,161.10 L409.69,166.71 M418.07,161.10 L426.29,166.76 M433.84,160.50 L426.29,166.76 M433.84,160.50 L442.31,166.63 M451.46,160.97 L442.31,166.63 M409.69,166.71 L400.90,172.07 M409.69,166.71 L418.28,171.17 M426.29,166.76 L418.28,171.17 M426.29,166.76 L433.55,171.30 M442.31,166.63 L433.55,171.30 M442.31,166.63 L451.64,171.54 M400.90,172.07 L409.53,176.69 M418.28,171.17 L409.53,176.69 M418.28,171.17 L425.91,176.78 M433.55,171.30 L425.91,176.78 M433.55,171.30 L442.23,177.00 M451.64,171.54 L442.23,177.00" stroke="#000" stroke-width="2.0" fill="none" stroke-linecap="round" stroke-linejoin="round"/>
<polygon points="463.5,163 468,152 476,149.3 483,149.8 489,153 492.5,158 494,166 492,173 488,176.8 470,176.8 463.5,170" fill="#000"/>
<polygon points="491,151 499.5,145.8 508,147.6 514,143.6 521,144 526.8,150 523.5,157 526.5,162.5 521,169 512,166.5 504,165.5 495.5,160" fill="#000"/>
<path d="M517,164 L528.2,177.6" stroke="#000" stroke-width="4.2" stroke-linecap="round"/>
<path d="M521.5,176.5 L529.5,178.2 L528,174 Z" fill="#000"/>
<path d="M491.5,166.5 Q498,161 505.5,166.5" stroke="#000" stroke-width="2.6" fill="none"/>
<path d="M493,175.5 Q500,170.5 508,174.5 L509,177.5" stroke="#000" stroke-width="2.2" fill="none"/>
<path d="M509.5,172 Q512,168.5 515.5,171" stroke="#000" stroke-width="1.6" fill="none"/>
<polygon points="471.5,155.3 474.7,158.5 471.5,161.7 468.3,158.5" fill="#fff"/>
<polygon points="479,161.8 482.0,164.8 479,167.8 476.0,164.8" fill="#fff"/>
<polygon points="472,168.2 475.0,171.2 472,174.2 469.0,171.2" fill="#fff"/>
<polygon points="485.6,168.0 488.20000000000005,170.6 485.6,173.2 483.0,170.6" fill="#fff"/>
<polygon points="486,155.2 488.4,157.6 486,160.0 483.6,157.6" fill="#fff"/>
<polygon points="500.6,150.2 503.6,153.2 500.6,156.2 497.6,153.2" fill="#fff"/>
<polygon points="514.5,147.6 517.5,150.6 514.5,153.6 511.5,150.6" fill="#fff"/>
<polygon points="508,155.6 511.0,158.6 508,161.6 505.0,158.6" fill="#fff"/>
<polygon points="517.2,156.60000000000002 519.4000000000001,158.8 517.2,161.0 515.0,158.8" fill="#fff"/>
<polygon points="499.6,158.6 501.20000000000005,160.2 499.6,161.79999999999998 498.0,160.2" fill="#fff"/>
<text x="309.30" y="191.60" font-size="10" text-anchor="middle" fill="#231f20">i</text>
<text x="365.00" y="191.60" font-size="10" text-anchor="middle" fill="#231f20">ii</text>
<text x="423.80" y="191.60" font-size="10" text-anchor="middle" fill="#231f20">iii</text>
<text x="490.20" y="191.60" font-size="10" text-anchor="middle" fill="#231f20">brittle failure</text>
<line x1="278.70" y1="194.20" x2="333.00" y2="194.20" stroke="#c8c8c8" stroke-width="0.8"/>
<line x1="278.70" y1="235.10" x2="333.00" y2="235.10" stroke="#d8d8d8" stroke-width="0.8"/>
<path d="M290.66,195.49 L283.49,201.86 M290.66,195.49 L297.82,201.86 M304.99,195.49 L297.82,201.86 M304.99,195.49 L312.16,201.86 M319.33,195.49 L312.16,201.86 M319.33,195.49 L326.49,201.86 M283.49,201.86 L290.66,208.23 M297.82,201.86 L290.66,208.23 M297.82,201.86 L304.99,208.23 M312.16,201.86 L304.99,208.23 M312.16,201.86 L319.33,208.23 M326.49,201.86 L319.33,208.23 M290.66,208.23 L283.49,214.60 M290.66,208.23 L297.82,214.60 M304.99,208.23 L297.82,214.60 M304.99,208.23 L312.16,214.60 M319.33,208.23 L312.16,214.60 M319.33,208.23 L326.49,214.60 M283.49,214.60 L290.66,220.97 M297.82,214.60 L290.66,220.97 M297.82,214.60 L304.99,220.97 M312.16,214.60 L304.99,220.97 M312.16,214.60 L319.33,220.97 M326.49,214.60 L319.33,220.97 M290.66,220.97 L283.49,227.34 M290.66,220.97 L297.82,227.34 M304.99,220.97 L297.82,227.34 M304.99,220.97 L312.16,227.34 M319.33,220.97 L312.16,227.34 M319.33,220.97 L326.49,227.34 M283.49,227.34 L290.66,233.71 M297.82,227.34 L290.66,233.71 M297.82,227.34 L304.99,233.71 M312.16,227.34 L304.99,233.71 M312.16,227.34 L319.33,233.71 M326.49,227.34 L319.33,233.71" stroke="#000" stroke-width="2.2" fill="none" stroke-linecap="round" stroke-linejoin="round"/>
<circle cx="290.66" cy="195.49" r="2.0" fill="#000"/>
<circle cx="304.99" cy="195.49" r="2.0" fill="#000"/>
<circle cx="319.33" cy="195.49" r="2.0" fill="#000"/>
<circle cx="283.49" cy="201.86" r="2.0" fill="#000"/>
<circle cx="297.82" cy="201.86" r="2.0" fill="#000"/>
<circle cx="312.16" cy="201.86" r="2.0" fill="#000"/>
<circle cx="326.49" cy="201.86" r="2.0" fill="#000"/>
<circle cx="290.66" cy="208.23" r="2.0" fill="#000"/>
<circle cx="304.99" cy="208.23" r="2.0" fill="#000"/>
<circle cx="319.33" cy="208.23" r="2.0" fill="#000"/>
<circle cx="283.49" cy="214.60" r="2.0" fill="#000"/>
<circle cx="297.82" cy="214.60" r="2.0" fill="#000"/>
<circle cx="312.16" cy="214.60" r="2.0" fill="#000"/>
<circle cx="326.49" cy="214.60" r="2.0" fill="#000"/>
<circle cx="290.66" cy="220.97" r="2.0" fill="#000"/>
<circle cx="304.99" cy="220.97" r="2.0" fill="#000"/>
<circle cx="319.33" cy="220.97" r="2.0" fill="#000"/>
<circle cx="283.49" cy="227.34" r="2.0" fill="#000"/>
<circle cx="297.82" cy="227.34" r="2.0" fill="#000"/>
<circle cx="312.16" cy="227.34" r="2.0" fill="#000"/>
<circle cx="326.49" cy="227.34" r="2.0" fill="#000"/>
<circle cx="290.66" cy="233.71" r="2.0" fill="#000"/>
<circle cx="304.99" cy="233.71" r="2.0" fill="#000"/>
<circle cx="319.33" cy="233.71" r="2.0" fill="#000"/>
<line x1="334.00" y1="198.20" x2="391.00" y2="198.20" stroke="#c8c8c8" stroke-width="0.8"/>
<line x1="334.00" y1="235.60" x2="391.00" y2="235.60" stroke="#d8d8d8" stroke-width="0.8"/>
<path d="M347.62,199.50 C346.07,202.91 341.28,201.99 339.73,205.40 M347.62,199.50 C349.04,202.88 353.77,202.00 355.19,205.38 M363.29,199.47 C361.65,202.89 356.83,201.95 355.19,205.38 M363.29,199.47 C364.64,202.82 369.32,201.91 370.68,205.25 M378.69,199.58 C377.06,202.94 372.31,201.89 370.68,205.25 M378.69,199.58 C380.15,202.98 384.91,202.11 386.36,205.52 M339.73,205.40 C341.26,208.75 345.97,207.73 347.50,211.07 M355.19,205.38 C353.70,208.72 348.99,207.73 347.50,211.07 M355.19,205.38 C356.82,208.81 361.65,207.90 363.28,211.33 M370.68,205.25 C369.35,208.67 364.60,207.92 363.28,211.33 M370.68,205.25 C372.29,208.67 377.10,207.72 378.72,211.14 M386.36,205.52 C384.88,208.84 380.20,207.81 378.72,211.14 M347.50,211.07 C346.21,214.39 341.57,213.47 340.28,216.78 M347.50,211.07 C349.19,214.47 354.00,213.47 355.68,216.87 M363.28,211.33 C361.80,214.63 357.15,213.57 355.68,216.87 M363.28,211.33 C364.69,214.61 369.31,213.53 370.72,216.81 M378.72,211.14 C377.09,214.49 372.35,213.45 370.72,216.81 M378.72,211.14 C380.13,214.53 384.88,213.67 386.29,217.06 M340.28,216.78 C341.56,220.16 346.26,219.37 347.54,222.75 M355.68,216.87 C354.02,220.29 349.20,219.33 347.54,222.75 M355.68,216.87 C357.12,220.24 361.84,219.31 363.28,222.67 M370.72,216.81 C369.36,220.18 364.65,219.31 363.28,222.67 M370.72,216.81 C372.33,220.19 377.09,219.19 378.70,222.56 M386.29,217.06 C384.82,220.35 380.17,219.27 378.70,222.56 M347.54,222.75 C345.99,226.09 341.28,225.05 339.73,228.39 M347.54,222.75 C349.17,226.12 353.94,225.10 355.57,228.47 M363.28,222.67 C361.79,226.05 357.06,225.10 355.57,228.47 M363.28,222.67 C364.69,226.05 369.41,225.15 370.82,228.53 M378.70,222.56 C377.16,225.99 372.36,225.10 370.82,228.53 M378.70,222.56 C380.17,225.95 384.91,225.04 386.38,228.42 M339.73,228.39 C341.40,231.83 346.24,230.90 347.91,234.34 M355.57,228.47 C354.11,231.86 349.37,230.95 347.91,234.34 M355.57,228.47 C356.96,231.83 361.66,230.93 363.05,234.30 M370.82,228.53 C369.30,231.89 364.57,230.93 363.05,234.30 M370.82,228.53 C372.37,231.93 377.14,231.00 378.69,234.40 M386.38,228.42 C384.92,231.84 380.15,230.99 378.69,234.40" stroke="#000" stroke-width="2.5" fill="none" stroke-linecap="round" stroke-linejoin="round"/>
<circle cx="347.62" cy="199.50" r="1.6" fill="#000"/>
<circle cx="363.29" cy="199.47" r="1.6" fill="#000"/>
<circle cx="378.69" cy="199.58" r="1.6" fill="#000"/>
<circle cx="339.73" cy="205.40" r="1.6" fill="#000"/>
<circle cx="355.19" cy="205.38" r="1.6" fill="#000"/>
<circle cx="370.68" cy="205.25" r="1.6" fill="#000"/>
<circle cx="386.36" cy="205.52" r="1.6" fill="#000"/>
<circle cx="347.50" cy="211.07" r="1.6" fill="#000"/>
<circle cx="363.28" cy="211.33" r="1.6" fill="#000"/>
<circle cx="378.72" cy="211.14" r="1.6" fill="#000"/>
<circle cx="340.28" cy="216.78" r="1.6" fill="#000"/>
<circle cx="355.68" cy="216.87" r="1.6" fill="#000"/>
<circle cx="370.72" cy="216.81" r="1.6" fill="#000"/>
<circle cx="386.29" cy="217.06" r="1.6" fill="#000"/>
<circle cx="347.54" cy="222.75" r="1.6" fill="#000"/>
<circle cx="363.28" cy="222.67" r="1.6" fill="#000"/>
<circle cx="378.70" cy="222.56" r="1.6" fill="#000"/>
<circle cx="339.73" cy="228.39" r="1.6" fill="#000"/>
<circle cx="355.57" cy="228.47" r="1.6" fill="#000"/>
<circle cx="370.82" cy="228.53" r="1.6" fill="#000"/>
<circle cx="386.38" cy="228.42" r="1.6" fill="#000"/>
<circle cx="347.91" cy="234.34" r="1.6" fill="#000"/>
<circle cx="363.05" cy="234.30" r="1.6" fill="#000"/>
<circle cx="378.69" cy="234.40" r="1.6" fill="#000"/>
<line x1="392.00" y1="199.50" x2="449.00" y2="199.50" stroke="#c8c8c8" stroke-width="0.8"/>
<line x1="392.00" y1="235.60" x2="449.00" y2="235.60" stroke="#d8d8d8" stroke-width="0.8"/>
<path d="M404.28,201.20 C403.03,204.53 398.33,202.95 397.08,206.28 M404.28,201.20 C406.02,204.64 410.93,202.99 412.67,206.43 M420.13,201.05 C418.81,204.46 413.98,203.01 412.67,206.43 M420.13,201.05 C421.80,204.52 426.75,202.97 428.43,206.45 M436.03,200.77 C434.69,204.27 429.77,202.95 428.43,206.45 M436.03,200.77 C437.55,204.35 442.60,203.07 444.11,206.65 M397.08,206.28 C398.20,209.70 403.02,208.40 404.14,211.82 M412.67,206.43 C410.89,209.91 405.91,208.33 404.14,211.82 M412.67,206.43 C413.93,209.84 418.75,208.42 420.02,211.84 M428.43,206.45 C426.70,209.93 421.74,208.36 420.02,211.84 M428.43,206.45 C429.89,209.99 434.89,208.68 436.36,212.22 M444.11,206.65 C442.69,210.13 437.78,208.74 436.36,212.22 M404.14,211.82 C402.74,215.27 397.86,213.82 396.46,217.27 M404.14,211.82 C405.67,215.42 410.75,214.19 412.28,217.80 M420.02,211.84 C418.66,215.41 413.64,214.23 412.28,217.80 M420.02,211.84 C421.53,215.38 426.53,214.04 428.04,217.58 M436.36,212.22 C434.67,215.69 429.73,214.11 428.04,217.58 M436.36,212.22 C437.88,215.67 442.77,214.15 444.30,217.60 M396.46,217.27 C397.91,220.84 402.94,219.58 404.39,223.14 M412.28,217.80 C410.77,221.24 405.90,219.71 404.39,223.14 M412.28,217.80 C413.93,221.25 418.85,219.67 420.50,223.12 M428.04,217.58 C426.71,221.03 421.83,219.66 420.50,223.12 M428.04,217.58 C429.92,221.11 434.97,219.55 436.85,223.08 M444.30,217.60 C443.00,221.04 438.15,219.64 436.85,223.08 M404.39,223.14 C402.73,226.55 397.88,224.89 396.22,228.29 M404.39,223.14 C406.18,226.64 411.18,225.05 412.97,228.55 M420.50,223.12 C419.16,226.55 414.31,225.12 412.97,228.55 M420.50,223.12 C421.86,226.63 426.80,225.32 428.17,228.82 M436.85,223.08 C435.06,226.66 429.96,225.24 428.17,228.82 M436.85,223.08 C438.22,226.56 443.13,225.21 444.50,228.69 M396.22,228.29 C398.03,231.86 403.12,230.39 404.93,233.95 M412.97,228.55 C411.41,232.01 406.50,230.49 404.93,233.95 M412.97,228.55 C414.20,232.05 419.13,230.81 420.36,234.31 M428.17,228.82 C426.71,232.29 421.81,230.84 420.36,234.31 M428.17,228.82 C429.68,232.28 434.57,230.78 436.08,234.24 M444.50,228.69 C442.80,232.21 437.79,230.72 436.08,234.24" stroke="#000" stroke-width="2.5" fill="none" stroke-linecap="round" stroke-linejoin="round"/>
<circle cx="404.28" cy="201.20" r="1.6" fill="#000"/>
<circle cx="420.13" cy="201.05" r="1.6" fill="#000"/>
<circle cx="436.03" cy="200.77" r="1.6" fill="#000"/>
<circle cx="397.08" cy="206.28" r="1.6" fill="#000"/>
<circle cx="412.67" cy="206.43" r="1.6" fill="#000"/>
<circle cx="428.43" cy="206.45" r="1.6" fill="#000"/>
<circle cx="444.11" cy="206.65" r="1.6" fill="#000"/>
<circle cx="404.14" cy="211.82" r="1.6" fill="#000"/>
<circle cx="420.02" cy="211.84" r="1.6" fill="#000"/>
<circle cx="436.36" cy="212.22" r="1.6" fill="#000"/>
<circle cx="396.46" cy="217.27" r="1.6" fill="#000"/>
<circle cx="412.28" cy="217.80" r="1.6" fill="#000"/>
<circle cx="428.04" cy="217.58" r="1.6" fill="#000"/>
<circle cx="444.30" cy="217.60" r="1.6" fill="#000"/>
<circle cx="404.39" cy="223.14" r="1.6" fill="#000"/>
<circle cx="420.50" cy="223.12" r="1.6" fill="#000"/>
<circle cx="436.85" cy="223.08" r="1.6" fill="#000"/>
<circle cx="396.22" cy="228.29" r="1.6" fill="#000"/>
<circle cx="412.97" cy="228.55" r="1.6" fill="#000"/>
<circle cx="428.17" cy="228.82" r="1.6" fill="#000"/>
<circle cx="444.50" cy="228.69" r="1.6" fill="#000"/>
<circle cx="404.93" cy="233.95" r="1.6" fill="#000"/>
<circle cx="420.36" cy="234.31" r="1.6" fill="#000"/>
<circle cx="436.08" cy="234.24" r="1.6" fill="#000"/>
<line x1="448.00" y1="207.60" x2="504.00" y2="207.60" stroke="#c8c8c8" stroke-width="0.8"/>
<line x1="448.00" y1="233.60" x2="504.00" y2="233.60" stroke="#d8d8d8" stroke-width="0.8"/>
<path d="M460.57,208.72 C459.22,211.90 454.84,209.20 453.48,212.38 M460.57,208.72 C462.19,212.06 466.88,209.55 468.50,212.89 M475.62,209.20 C474.26,212.38 469.86,209.71 468.50,212.89 M475.62,209.20 C477.26,212.36 481.62,209.50 483.25,212.66 M490.98,208.85 C489.38,212.09 484.86,209.42 483.25,212.66 M490.98,208.85 C493.07,212.16 497.80,209.42 499.88,212.73 M453.48,212.38 C454.95,215.65 459.52,213.11 460.99,216.38 M468.50,212.89 C466.93,216.05 462.57,213.22 460.99,216.38 M468.50,212.89 C469.99,216.03 474.30,213.20 475.78,216.34 M483.25,212.66 C481.73,215.86 477.30,213.14 475.78,216.34 M483.25,212.66 C485.08,216.10 489.96,213.68 491.78,217.12 M499.88,212.73 C498.23,216.13 493.44,213.72 491.78,217.12 M460.99,216.38 C459.41,219.81 454.57,217.49 452.99,220.91 M460.99,216.38 C462.24,219.75 466.98,217.51 468.23,220.88 M475.78,216.34 C474.40,219.74 469.61,217.48 468.23,220.88 M475.78,216.34 C477.26,219.64 481.88,217.14 483.35,220.45 M491.78,217.12 C489.78,220.27 485.35,217.29 483.35,220.45 M491.78,217.12 C493.54,220.36 498.08,217.62 499.84,220.86 M452.99,220.91 C454.62,224.02 458.88,221.08 460.51,224.18 M468.23,220.88 C466.52,224.01 462.22,221.06 460.51,224.18 M468.23,220.88 C469.86,224.03 474.20,221.16 475.83,224.30 M483.35,220.45 C481.85,223.69 477.33,221.06 475.83,224.30 M483.35,220.45 C484.98,223.85 489.79,221.47 491.42,224.88 M499.84,220.86 C497.98,224.19 493.28,221.55 491.42,224.88 M460.51,224.18 C458.89,227.66 453.98,225.41 452.36,228.88 M460.51,224.18 C462.43,227.49 467.10,224.79 469.02,228.09 M475.83,224.30 C474.63,227.49 470.22,224.90 469.02,228.09 M475.83,224.30 C477.46,227.65 482.17,225.16 483.79,228.51 M491.42,224.88 C489.82,228.07 485.39,225.31 483.79,228.51 M491.42,224.88 C492.92,228.05 497.30,225.27 498.80,228.44 M452.36,228.88 C454.60,232.02 459.05,228.94 461.28,232.08 M469.02,228.09 C467.45,231.37 462.85,228.79 461.28,232.08 M469.02,228.09 C470.41,231.35 474.97,228.82 476.36,232.08 M483.79,228.51 C482.27,231.68 477.88,228.91 476.36,232.08 M483.79,228.51 C485.46,231.89 490.23,229.45 491.90,232.83 M498.80,228.44 C497.68,231.76 493.02,229.51 491.90,232.83" stroke="#000" stroke-width="2.1" fill="none" stroke-linecap="round" stroke-linejoin="round"/>
<circle cx="460.57" cy="208.72" r="1.0" fill="#000"/>
<circle cx="475.62" cy="209.20" r="1.0" fill="#000"/>
<circle cx="490.98" cy="208.85" r="1.0" fill="#000"/>
<circle cx="453.48" cy="212.38" r="1.0" fill="#000"/>
<circle cx="468.50" cy="212.89" r="1.0" fill="#000"/>
<circle cx="483.25" cy="212.66" r="1.0" fill="#000"/>
<circle cx="499.88" cy="212.73" r="1.0" fill="#000"/>
<circle cx="460.99" cy="216.38" r="1.0" fill="#000"/>
<circle cx="475.78" cy="216.34" r="1.0" fill="#000"/>
<circle cx="491.78" cy="217.12" r="1.0" fill="#000"/>
<circle cx="452.99" cy="220.91" r="1.0" fill="#000"/>
<circle cx="468.23" cy="220.88" r="1.0" fill="#000"/>
<circle cx="483.35" cy="220.45" r="1.0" fill="#000"/>
<circle cx="499.84" cy="220.86" r="1.0" fill="#000"/>
<circle cx="460.51" cy="224.18" r="1.0" fill="#000"/>
<circle cx="475.83" cy="224.30" r="1.0" fill="#000"/>
<circle cx="491.42" cy="224.88" r="1.0" fill="#000"/>
<circle cx="452.36" cy="228.88" r="1.0" fill="#000"/>
<circle cx="469.02" cy="228.09" r="1.0" fill="#000"/>
<circle cx="483.79" cy="228.51" r="1.0" fill="#000"/>
<circle cx="498.80" cy="228.44" r="1.0" fill="#000"/>
<circle cx="461.28" cy="232.08" r="1.0" fill="#000"/>
<circle cx="476.36" cy="232.08" r="1.0" fill="#000"/>
<circle cx="491.90" cy="232.83" r="1.0" fill="#000"/>
<line x1="502.00" y1="214.10" x2="558.00" y2="214.10" stroke="#c8c8c8" stroke-width="0.8"/>
<line x1="502.00" y1="234.10" x2="558.00" y2="234.10" stroke="#d8d8d8" stroke-width="0.8"/>
<polygon points="505.00,215.76 509.99,215.54 514.98,215.77 519.97,215.21 524.96,216.12 529.95,216.14 534.94,215.88 539.93,215.14 544.92,215.68 549.91,215.39 554.90,215.27 552.52,217.26 552.41,221.99 554.79,226.71 552.75,231.44 554.90,233.32 549.91,233.49 544.92,233.57 539.93,233.26 534.94,233.43 529.95,233.25 524.96,233.27 519.97,233.69 514.98,233.19 509.99,233.01 505.00,233.02 506.84,231.44 505.13,226.71 505.01,221.99 505.40,217.26" fill="#050505"/>
<ellipse cx="508.79" cy="217.13" rx="3.79" ry="1.55" fill="#fff" transform="rotate(-7.1 508.79 217.26)"/>
<ellipse cx="515.86" cy="217.20" rx="2.80" ry="1.55" fill="#fff" transform="rotate(1.8 515.86 217.26)"/>
<ellipse cx="524.71" cy="216.92" rx="2.99" ry="1.55" fill="#fff" transform="rotate(12.4 524.71 217.26)"/>
<ellipse cx="532.69" cy="217.26" rx="3.69" ry="1.55" fill="#fff" transform="rotate(-16.7 532.69 217.26)"/>
<ellipse cx="541.49" cy="217.62" rx="2.90" ry="1.55" fill="#fff" transform="rotate(1.2 541.49 217.26)"/>
<ellipse cx="549.63" cy="217.36" rx="2.85" ry="1.55" fill="#fff" transform="rotate(-4.5 549.63 217.26)"/>
<ellipse cx="510.96" cy="221.65" rx="3.68" ry="1.55" fill="#fff" transform="rotate(-14.5 510.96 221.99)"/>
<ellipse cx="519.62" cy="221.90" rx="3.01" ry="1.55" fill="#fff" transform="rotate(-2.4 519.62 221.99)"/>
<ellipse cx="526.59" cy="221.67" rx="2.86" ry="1.55" fill="#fff" transform="rotate(4.2 526.59 221.99)"/>
<ellipse cx="535.27" cy="222.14" rx="3.70" ry="1.55" fill="#fff" transform="rotate(-12.1 535.27 221.99)"/>
<ellipse cx="544.23" cy="221.84" rx="3.24" ry="1.55" fill="#fff" transform="rotate(-0.7 544.23 221.99)"/>
<ellipse cx="551.00" cy="221.82" rx="3.10" ry="1.55" fill="#fff" transform="rotate(7.7 551.00 221.99)"/>
<ellipse cx="507.07" cy="226.80" rx="3.18" ry="1.55" fill="#fff" transform="rotate(-1.9 507.07 226.71)"/>
<ellipse cx="516.97" cy="226.45" rx="3.35" ry="1.55" fill="#fff" transform="rotate(6.2 516.97 226.71)"/>
<ellipse cx="525.37" cy="226.81" rx="2.79" ry="1.55" fill="#fff" transform="rotate(0.7 525.37 226.71)"/>
<ellipse cx="532.84" cy="226.61" rx="3.22" ry="1.55" fill="#fff" transform="rotate(-1.4 532.84 226.71)"/>
<ellipse cx="541.35" cy="226.70" rx="2.92" ry="1.55" fill="#fff" transform="rotate(1.4 541.35 226.71)"/>
<ellipse cx="549.38" cy="226.63" rx="2.76" ry="1.55" fill="#fff" transform="rotate(16.9 549.38 226.71)"/>
<ellipse cx="509.41" cy="230.99" rx="2.83" ry="1.55" fill="#fff" transform="rotate(1.3 509.41 231.44)"/>
<ellipse cx="517.94" cy="231.93" rx="3.30" ry="1.55" fill="#fff" transform="rotate(-1.7 517.94 231.44)"/>
<ellipse cx="526.96" cy="231.44" rx="3.25" ry="1.55" fill="#fff" transform="rotate(-2.3 526.96 231.44)"/>
<ellipse cx="535.81" cy="231.64" rx="3.22" ry="1.55" fill="#fff" transform="rotate(14.3 535.81 231.44)"/>
<ellipse cx="543.97" cy="231.09" rx="3.00" ry="1.55" fill="#fff" transform="rotate(14.7 543.97 231.44)"/>
<ellipse cx="552.23" cy="231.58" rx="3.42" ry="1.55" fill="#fff" transform="rotate(6.7 552.23 231.44)"/>
<line x1="556.00" y1="221.00" x2="616.00" y2="221.00" stroke="#c8c8c8" stroke-width="0.8"/>
<line x1="556.00" y1="236.40" x2="616.00" y2="236.40" stroke="#d8d8d8" stroke-width="0.8"/>
<polygon points="559.70,222.48 565.02,222.64 570.34,223.19 575.66,222.50 580.98,222.56 586.30,222.68 591.62,222.08 596.94,222.57 602.26,222.74 607.58,222.99 612.90,221.94 612.14,223.59 612.67,227.16 610.88,230.74 611.17,234.31 612.90,236.07 607.58,235.31 602.26,235.33 596.94,235.58 591.62,235.61 586.30,235.97 580.98,236.09 575.66,235.68 570.34,236.05 565.02,235.95 559.70,235.91 559.79,234.31 561.09,230.74 561.02,227.16 562.23,223.59" fill="#050505"/>
<ellipse cx="562.40" cy="224.18" rx="3.20" ry="1.25" fill="#fff" transform="rotate(5.1 562.40 224.18)"/>
<ellipse cx="569.87" cy="224.68" rx="3.56" ry="1.25" fill="#fff" transform="rotate(-8.0 569.87 224.18)"/>
<ellipse cx="578.24" cy="224.00" rx="2.73" ry="1.25" fill="#fff" transform="rotate(7.5 578.24 224.18)"/>
<ellipse cx="584.74" cy="224.45" rx="2.91" ry="1.25" fill="#fff" transform="rotate(-15.5 584.74 224.18)"/>
<ellipse cx="593.45" cy="224.64" rx="3.40" ry="1.25" fill="#fff" transform="rotate(-4.1 593.45 224.18)"/>
<ellipse cx="599.36" cy="224.59" rx="2.99" ry="1.25" fill="#fff" transform="rotate(-10.5 599.36 224.18)"/>
<ellipse cx="608.92" cy="223.76" rx="3.16" ry="1.25" fill="#fff" transform="rotate(-3.7 608.92 224.18)"/>
<ellipse cx="565.20" cy="228.54" rx="2.84" ry="1.25" fill="#fff" transform="rotate(-8.3 565.20 228.95)"/>
<ellipse cx="573.17" cy="228.57" rx="2.75" ry="1.25" fill="#fff" transform="rotate(9.3 573.17 228.95)"/>
<ellipse cx="579.04" cy="229.25" rx="2.67" ry="1.25" fill="#fff" transform="rotate(-15.8 579.04 228.95)"/>
<ellipse cx="587.56" cy="228.64" rx="3.27" ry="1.25" fill="#fff" transform="rotate(-1.9 587.56 228.95)"/>
<ellipse cx="594.30" cy="228.57" rx="2.94" ry="1.25" fill="#fff" transform="rotate(5.2 594.30 228.95)"/>
<ellipse cx="602.07" cy="229.42" rx="3.35" ry="1.25" fill="#fff" transform="rotate(-8.3 602.07 228.95)"/>
<ellipse cx="609.85" cy="228.66" rx="2.91" ry="1.25" fill="#fff" transform="rotate(13.9 609.85 228.95)"/>
<ellipse cx="563.07" cy="233.32" rx="3.55" ry="1.25" fill="#fff" transform="rotate(5.1 563.07 233.72)"/>
<ellipse cx="569.39" cy="233.99" rx="2.84" ry="1.25" fill="#fff" transform="rotate(-8.7 569.39 233.72)"/>
<ellipse cx="577.15" cy="233.31" rx="3.11" ry="1.25" fill="#fff" transform="rotate(-15.4 577.15 233.72)"/>
<ellipse cx="584.65" cy="233.59" rx="2.97" ry="1.25" fill="#fff" transform="rotate(3.6 584.65 233.72)"/>
<ellipse cx="593.68" cy="233.79" rx="3.42" ry="1.25" fill="#fff" transform="rotate(-0.6 593.68 233.72)"/>
<ellipse cx="599.73" cy="234.13" rx="3.37" ry="1.25" fill="#fff" transform="rotate(-12.5 599.73 233.72)"/>
<ellipse cx="607.46" cy="233.96" rx="3.50" ry="1.25" fill="#fff" transform="rotate(-11.2 607.46 233.72)"/>
<line x1="620.00" y1="218.20" x2="683.00" y2="218.20" stroke="#c8c8c8" stroke-width="0.8"/>
<line x1="620.00" y1="236.40" x2="683.00" y2="236.40" stroke="#d8d8d8" stroke-width="0.8"/>
<polygon points="623.30,219.71 628.90,219.99 634.50,220.00 640.10,219.21 645.70,219.02 651.30,219.56 656.90,219.41 662.50,220.22 668.10,220.04 673.70,219.90 679.30,219.84 677.65,221.14 678.94,225.41 678.20,229.69 678.89,233.96 679.30,235.38 673.70,236.05 668.10,235.44 662.50,236.04 656.90,235.55 651.30,235.83 645.70,235.78 640.10,235.43 634.50,236.09 628.90,236.05 623.30,235.37 624.83,233.96 623.57,229.69 626.26,225.41 626.14,221.14" fill="#050505"/>
<ellipse cx="625.33" cy="221.49" rx="3.18" ry="1.70" fill="#fff" transform="rotate(-2.8 625.33 221.85)"/>
<ellipse cx="634.34" cy="222.05" rx="2.86" ry="1.70" fill="#fff" transform="rotate(-12.1 634.34 221.85)"/>
<ellipse cx="641.44" cy="221.75" rx="3.31" ry="1.70" fill="#fff" transform="rotate(11.4 641.44 221.85)"/>
<ellipse cx="650.29" cy="221.73" rx="2.84" ry="1.70" fill="#fff" transform="rotate(-0.8 650.29 221.85)"/>
<ellipse cx="658.55" cy="222.33" rx="3.61" ry="1.70" fill="#fff" transform="rotate(16.8 658.55 221.85)"/>
<ellipse cx="665.81" cy="222.04" rx="3.63" ry="1.70" fill="#fff" transform="rotate(-4.9 665.81 221.85)"/>
<ellipse cx="673.33" cy="221.71" rx="3.43" ry="1.70" fill="#fff" transform="rotate(-9.5 673.33 221.85)"/>
<ellipse cx="629.12" cy="227.08" rx="3.81" ry="1.70" fill="#fff" transform="rotate(0.0 629.12 227.55)"/>
<ellipse cx="636.36" cy="227.27" rx="3.32" ry="1.70" fill="#fff" transform="rotate(0.7 636.36 227.55)"/>
<ellipse cx="644.28" cy="227.15" rx="3.47" ry="1.70" fill="#fff" transform="rotate(9.8 644.28 227.55)"/>
<ellipse cx="651.86" cy="227.09" rx="3.14" ry="1.70" fill="#fff" transform="rotate(7.1 651.86 227.55)"/>
<ellipse cx="660.19" cy="227.10" rx="3.36" ry="1.70" fill="#fff" transform="rotate(4.9 660.19 227.55)"/>
<ellipse cx="667.92" cy="227.53" rx="3.97" ry="1.70" fill="#fff" transform="rotate(-7.9 667.92 227.55)"/>
<ellipse cx="676.46" cy="227.22" rx="3.93" ry="1.70" fill="#fff" transform="rotate(16.4 676.46 227.55)"/>
<ellipse cx="625.83" cy="233.50" rx="3.92" ry="1.70" fill="#fff" transform="rotate(-11.2 625.83 233.25)"/>
<ellipse cx="633.11" cy="233.52" rx="3.22" ry="1.70" fill="#fff" transform="rotate(-8.3 633.11 233.25)"/>
<ellipse cx="641.58" cy="232.79" rx="3.56" ry="1.70" fill="#fff" transform="rotate(-17.7 641.58 233.25)"/>
<ellipse cx="651.07" cy="233.25" rx="2.83" ry="1.70" fill="#fff" transform="rotate(17.9 651.07 233.25)"/>
<ellipse cx="657.74" cy="233.58" rx="3.58" ry="1.70" fill="#fff" transform="rotate(10.3 657.74 233.25)"/>
<ellipse cx="665.56" cy="233.23" rx="3.57" ry="1.70" fill="#fff" transform="rotate(1.0 665.56 233.25)"/>
<ellipse cx="673.63" cy="233.64" rx="3.00" ry="1.70" fill="#fff" transform="rotate(16.1 673.63 233.25)"/>
<text x="307.00" y="252.40" font-size="10" text-anchor="middle" fill="#231f20">i</text>
<text x="363.60" y="252.40" font-size="10" text-anchor="middle" fill="#231f20">ii</text>
<text x="420.50" y="252.40" font-size="10" text-anchor="middle" fill="#231f20">iii</text>
<text x="474.70" y="252.40" font-size="10" text-anchor="middle" fill="#231f20">iv</text>
<text x="528.20" y="252.40" font-size="10" text-anchor="middle" fill="#231f20">v</text>
<text x="583.00" y="252.40" font-size="10" text-anchor="middle" fill="#231f20">vi</text>
<text x="654.00" y="252.40" font-size="10" text-anchor="middle" fill="#231f20">unloaded</text>
<text x="249.20" y="272.80" font-size="10" text-anchor="start" fill="#231f20" font-weight="bold">g</text>
<rect x="291.1" y="272.4" width="108.69999999999999" height="64.30000000000001" fill="#fcfadf"/>
<defs><clipPath id="cb4"><rect x="291.1" y="272.4" width="108.69999999999999" height="64.30000000000001"/></clipPath></defs>
<g clip-path="url(#cb4)">
<path d="M291.10,335.50 L291.88,335.12 L292.65,334.75 L293.43,334.37 L294.21,334.00 L294.98,333.62 L295.76,333.13 L296.54,332.64 L297.31,332.02 L298.09,331.71 L298.86,331.62 L299.64,330.98 L300.42,330.69 L301.19,330.17 L301.97,330.21 L302.75,329.49 L303.52,329.58 L304.30,328.72 L305.08,328.47 L305.85,328.40 L306.63,328.50 L307.41,328.16 L308.18,328.14 L308.96,327.41 L309.73,327.19 L310.51,327.05 L311.29,327.51 L312.06,327.14 L312.84,327.41 L313.62,327.07 L314.39,327.88 L315.17,327.92 L315.95,327.45 L316.72,328.14 L317.50,327.83 L318.28,328.13 L319.05,328.29 L319.83,328.42 L320.60,328.78 L321.38,328.38 L322.16,328.89 L322.93,328.71 L323.71,329.25 L324.49,328.95 L325.26,329.23 L326.04,329.35 L326.82,329.40 L327.59,329.23 L328.37,328.93 L329.15,329.64 L329.92,329.40 L330.70,329.38 L331.47,329.16 L332.25,329.35 L333.03,329.69 L333.80,329.33 L334.58,329.44 L335.36,330.18 L336.13,329.97 L336.91,329.63 L337.69,329.77 L338.46,330.04 L339.24,329.85 L340.02,329.69 L340.79,329.67 L341.57,329.82 L342.34,329.76 L343.12,329.26 L343.90,329.81 L344.67,329.74 L345.45,329.08 L346.23,329.60 L347.00,329.50 L347.78,329.46 L348.56,329.52 L349.33,329.38 L350.11,329.92 L350.88,329.87 L351.66,329.53 L352.44,329.44 L353.21,329.90 L353.99,329.50 L354.77,329.68 L355.54,329.76 L356.32,329.78 L357.10,329.45 L357.87,329.59 L358.65,330.44 L359.43,330.21 L360.20,330.91 L360.98,331.19 L361.75,331.38 L362.53,330.86 L363.31,330.47 L364.08,330.76 L364.86,329.95 L365.64,330.11 L366.41,330.25 L367.19,330.04 L367.97,329.65 L368.74,329.94 L369.52,329.83 L370.30,329.79 L371.07,329.23 L371.85,329.11 L372.62,329.19 L373.40,329.39 L374.18,329.58 L374.95,329.47 L375.73,329.11 L376.51,329.40 L377.28,328.58 L378.06,328.58 L378.84,328.23 L379.61,328.70 L380.39,328.72 L381.17,328.66 L381.94,328.51 L382.72,328.07 L383.50,327.54 L384.27,327.78 L385.05,326.95 L385.82,326.92 L386.60,326.37 L387.38,325.75 L388.15,325.18 L388.93,324.27 L389.71,323.60 L390.48,323.70 L391.26,321.96 L392.04,321.36 L392.81,319.81 L393.59,319.14 L394.37,316.99 L395.14,316.22 L395.92,314.74 L396.69,313.42 L397.47,309.42 L398.25,306.12 L399.02,299.59 L399.80,292.46 L399.80,296.06 L399.02,303.19 L398.25,309.72 L397.47,313.02 L396.69,317.02 L395.92,318.34 L395.14,319.82 L394.37,320.59 L393.59,322.74 L392.81,323.41 L392.04,324.96 L391.26,325.56 L390.48,327.30 L389.71,327.20 L388.93,327.87 L388.15,328.78 L387.38,329.35 L386.60,329.97 L385.82,330.52 L385.05,330.55 L384.27,331.38 L383.50,331.14 L382.72,331.67 L381.94,332.11 L381.17,332.26 L380.39,332.32 L379.61,332.30 L378.84,331.83 L378.06,332.18 L377.28,332.18 L376.51,331.80 L375.73,331.51 L374.95,331.87 L374.18,331.98 L373.40,331.79 L372.62,331.59 L371.85,331.51 L371.07,331.63 L370.30,332.19 L369.52,332.23 L368.74,332.34 L367.97,332.05 L367.19,332.44 L366.41,332.65 L365.64,332.51 L364.86,332.35 L364.08,333.16 L363.31,332.87 L362.53,333.26 L361.75,333.78 L360.98,333.59 L360.20,333.31 L359.43,332.61 L358.65,332.84 L357.87,331.99 L357.10,331.85 L356.32,332.18 L355.54,332.16 L354.77,332.08 L353.99,331.90 L353.21,332.30 L352.44,331.84 L351.66,331.93 L350.88,332.27 L350.11,332.32 L349.33,331.78 L348.56,331.92 L347.78,331.86 L347.00,331.90 L346.23,332.00 L345.45,331.48 L344.67,332.14 L343.90,332.21 L343.12,331.66 L342.34,332.16 L341.57,332.22 L340.79,332.07 L340.02,332.09 L339.24,332.25 L338.46,332.44 L337.69,332.17 L336.91,332.03 L336.13,332.37 L335.36,332.58 L334.58,331.84 L333.80,331.73 L333.03,332.09 L332.25,331.75 L331.47,331.56 L330.70,331.78 L329.92,331.80 L329.15,332.04 L328.37,331.33 L327.59,331.63 L326.82,331.80 L326.04,331.75 L325.26,331.63 L324.49,331.35 L323.71,331.65 L322.93,331.11 L322.16,331.29 L321.38,330.78 L320.60,331.18 L319.83,330.82 L319.05,330.69 L318.28,330.53 L317.50,330.23 L316.72,330.54 L315.95,329.85 L315.17,330.32 L314.39,330.28 L313.62,329.47 L312.84,329.81 L312.06,329.54 L311.29,329.91 L310.51,329.45 L309.73,329.59 L308.96,329.81 L308.18,330.54 L307.41,330.56 L306.63,330.90 L305.85,330.80 L305.08,330.87 L304.30,331.12 L303.52,331.98 L302.75,331.89 L301.97,332.61 L301.19,332.57 L300.42,333.09 L299.64,333.38 L298.86,334.02 L298.09,334.11 L297.31,334.42 L296.54,335.04 L295.76,335.53 L294.98,336.02 L294.21,336.40 L293.43,336.77 L292.65,337.15 L291.88,337.52 L291.10,337.90Z" fill="#bfe6e0" opacity="0.8"/>
<path d="M381.17,330.46 L381.94,330.31 L382.72,329.87 L383.50,329.34 L384.27,329.58 L385.05,328.75 L385.82,328.72 L386.60,328.17 L387.38,327.55 L388.15,326.98 L388.93,326.07 L389.71,325.40 L390.48,325.50 L391.26,323.76 L392.04,323.16 L392.81,321.61 L393.59,320.94 L394.37,318.79 L395.14,318.02 L395.92,316.54 L396.69,315.22 L397.47,311.22 L398.25,307.92 L399.02,301.39 L399.80,294.26" stroke="#c4e6df" stroke-width="3.5" fill="none" stroke-linejoin="round" opacity="0.85"/>
<path d="M293.43,335.08 L294.21,334.84 L294.98,334.59 L295.76,334.35 L296.54,334.11 L297.31,333.73 L298.09,333.41 L298.86,333.41 L299.64,332.73 L300.42,332.74 L301.19,332.05 L301.97,331.90 L302.75,331.71 L303.52,331.12 L304.30,330.81 L305.08,330.80 L305.85,330.43 L306.63,330.42 L307.41,329.92 L308.18,329.67 L308.96,329.44 L309.73,329.32 L310.51,328.82 L311.29,328.65 L312.06,328.56 L312.84,327.86 L313.62,328.01 L314.39,328.22 L315.17,328.16 L315.95,327.88 L316.72,328.51 L317.50,328.47 L318.28,328.86 L319.05,329.12 L319.83,328.92 L320.60,329.24 L321.38,329.34 L322.16,329.50 L322.93,329.19 L323.71,329.20 L324.49,329.59 L325.26,329.41 L326.04,329.83 L326.82,329.82 L327.59,330.22 L328.37,330.18 L329.15,330.55 L329.92,330.84 L330.70,330.82 L331.47,330.47 L332.25,330.49 L333.03,330.36 L333.80,330.16 L334.58,330.14 L335.36,330.10 L336.13,330.14 L336.91,330.09 L337.69,330.26 L338.46,330.01 L339.24,329.80 L340.02,329.80 L340.79,329.76 L341.57,329.87 L342.34,329.90 L343.12,330.11 L343.90,330.18 L344.67,330.07 L345.45,330.19 L346.23,329.92 L347.00,330.13 L347.78,330.08 L348.56,330.15 L349.33,330.06 L350.11,330.34 L350.88,330.27 L351.66,330.37 L352.44,330.30 L353.21,330.40 L353.99,330.34 L354.77,330.11 L355.54,329.99 L356.32,330.00 L357.10,329.44 L357.87,329.32 L358.65,329.62 L359.43,329.37 L360.20,329.05 L360.98,329.14 L361.75,329.00 L362.53,329.05 L363.31,329.36 L364.08,329.44 L364.86,329.36 L365.64,329.49 L366.41,329.90 L367.19,329.89 L367.97,330.05 L368.74,330.14 L369.52,330.13 L370.30,329.98 L371.07,330.00 L371.85,329.73 L372.62,329.69 L373.40,329.57 L374.18,329.52 L374.95,329.64 L375.73,329.36 L376.51,329.55 L377.28,329.28 L378.06,329.23 L378.84,329.01 L379.61,328.82 L380.39,328.56 L381.17,328.61 L381.94,328.42 L382.72,328.54 L383.50,328.31 L384.27,328.16 L385.05,328.14 L385.82,327.78 L386.60,327.68 L387.38,327.45 L388.15,327.43 L388.93,327.34 L389.71,327.31 L390.48,327.07 L391.26,327.40 L392.04,327.20 L392.81,327.14 L393.59,326.67 L394.37,326.59 L395.14,326.54 L395.92,326.90 L396.69,327.24 L397.47,327.73 L398.25,328.01 L399.02,327.55 L399.80,327.12 L399.80,328.92 L399.02,329.35 L398.25,329.81 L397.47,329.53 L396.69,329.04 L395.92,328.70 L395.14,328.34 L394.37,328.39 L393.59,328.47 L392.81,328.94 L392.04,329.00 L391.26,329.20 L390.48,328.87 L389.71,329.11 L388.93,329.14 L388.15,329.23 L387.38,329.25 L386.60,329.48 L385.82,329.58 L385.05,329.94 L384.27,329.96 L383.50,330.11 L382.72,330.34 L381.94,330.22 L381.17,330.41 L380.39,330.36 L379.61,330.62 L378.84,330.81 L378.06,331.03 L377.28,331.08 L376.51,331.35 L375.73,331.16 L374.95,331.44 L374.18,331.32 L373.40,331.37 L372.62,331.49 L371.85,331.53 L371.07,331.80 L370.30,331.78 L369.52,331.93 L368.74,331.94 L367.97,331.85 L367.19,331.69 L366.41,331.70 L365.64,331.29 L364.86,331.16 L364.08,331.24 L363.31,331.16 L362.53,330.85 L361.75,330.80 L360.98,330.94 L360.20,330.85 L359.43,331.17 L358.65,331.42 L357.87,331.12 L357.10,331.24 L356.32,331.80 L355.54,331.79 L354.77,331.91 L353.99,332.14 L353.21,332.20 L352.44,332.10 L351.66,332.17 L350.88,332.07 L350.11,332.14 L349.33,331.86 L348.56,331.95 L347.78,331.88 L347.00,331.93 L346.23,331.72 L345.45,331.99 L344.67,331.87 L343.90,331.98 L343.12,331.91 L342.34,331.70 L341.57,331.67 L340.79,331.56 L340.02,331.60 L339.24,331.60 L338.46,331.81 L337.69,332.06 L336.91,331.89 L336.13,331.94 L335.36,331.90 L334.58,331.94 L333.80,331.96 L333.03,332.16 L332.25,332.29 L331.47,332.27 L330.70,332.62 L329.92,332.64 L329.15,332.35 L328.37,331.98 L327.59,332.02 L326.82,331.62 L326.04,331.63 L325.26,331.21 L324.49,331.39 L323.71,331.00 L322.93,330.99 L322.16,331.30 L321.38,331.14 L320.60,331.04 L319.83,330.72 L319.05,330.92 L318.28,330.66 L317.50,330.27 L316.72,330.31 L315.95,329.68 L315.17,329.96 L314.39,330.02 L313.62,329.81 L312.84,329.66 L312.06,330.36 L311.29,330.45 L310.51,330.62 L309.73,331.12 L308.96,331.24 L308.18,331.47 L307.41,331.72 L306.63,332.22 L305.85,332.23 L305.08,332.60 L304.30,332.61 L303.52,332.92 L302.75,333.51 L301.97,333.70 L301.19,333.85 L300.42,334.54 L299.64,334.53 L298.86,335.21 L298.09,335.21 L297.31,335.53 L296.54,335.91 L295.76,336.15 L294.98,336.39 L294.21,336.64 L293.43,336.88Z" fill="#f5c6b8" opacity="0.7"/>
<path d="M291.10,336.70 L291.88,336.46 L292.65,336.22 L293.43,335.98 L294.21,335.74 L294.98,335.49 L295.76,335.25 L296.54,335.01 L297.31,334.63 L298.09,334.31 L298.86,334.31 L299.64,333.63 L300.42,333.64 L301.19,332.95 L301.97,332.80 L302.75,332.61 L303.52,332.02 L304.30,331.71 L305.08,331.70 L305.85,331.33 L306.63,331.32 L307.41,330.82 L308.18,330.57 L308.96,330.34 L309.73,330.22 L310.51,329.72 L311.29,329.55 L312.06,329.46 L312.84,328.76 L313.62,328.91 L314.39,329.12 L315.17,329.06 L315.95,328.78 L316.72,329.41 L317.50,329.37 L318.28,329.76 L319.05,330.02 L319.83,329.82 L320.60,330.14 L321.38,330.24 L322.16,330.40 L322.93,330.09 L323.71,330.10 L324.49,330.49 L325.26,330.31 L326.04,330.73 L326.82,330.72 L327.59,331.12 L328.37,331.08 L329.15,331.45 L329.92,331.74 L330.70,331.72 L331.47,331.37 L332.25,331.39 L333.03,331.26 L333.80,331.06 L334.58,331.04 L335.36,331.00 L336.13,331.04 L336.91,330.99 L337.69,331.16 L338.46,330.91 L339.24,330.70 L340.02,330.70 L340.79,330.66 L341.57,330.77 L342.34,330.80 L343.12,331.01 L343.90,331.08 L344.67,330.97 L345.45,331.09 L346.23,330.82 L347.00,331.03 L347.78,330.98 L348.56,331.05 L349.33,330.96 L350.11,331.24 L350.88,331.17 L351.66,331.27 L352.44,331.20 L353.21,331.30 L353.99,331.24 L354.77,331.01 L355.54,330.89 L356.32,330.90 L357.10,330.34 L357.87,330.22 L358.65,330.52 L359.43,330.27 L360.20,329.95 L360.98,330.04 L361.75,329.90 L362.53,329.95 L363.31,330.26 L364.08,330.34 L364.86,330.26 L365.64,330.39 L366.41,330.80 L367.19,330.79 L367.97,330.95 L368.74,331.04 L369.52,331.03 L370.30,330.88 L371.07,330.90 L371.85,330.63 L372.62,330.59 L373.40,330.47 L374.18,330.42 L374.95,330.54 L375.73,330.26 L376.51,330.45 L377.28,330.18 L378.06,330.13 L378.84,329.91 L379.61,329.72 L380.39,329.46 L381.17,329.51 L381.94,329.32 L382.72,329.44 L383.50,329.21 L384.27,329.06 L385.05,329.04 L385.82,328.68 L386.60,328.58 L387.38,328.35 L388.15,328.33 L388.93,328.24 L389.71,328.21 L390.48,327.97 L391.26,328.30 L392.04,328.10 L392.81,328.04 L393.59,327.57 L394.37,327.49 L395.14,327.44 L395.92,327.80 L396.69,328.14 L397.47,328.63 L398.25,328.91 L399.02,328.45 L399.80,328.02" stroke="#e8412f" stroke-width="1.1" fill="none" stroke-linejoin="round"/>
<path d="M291.10,336.70 L291.88,336.32 L292.65,335.95 L293.43,335.57 L294.21,335.20 L294.98,334.82 L295.76,334.33 L296.54,333.84 L297.31,333.22 L298.09,332.91 L298.86,332.82 L299.64,332.18 L300.42,331.89 L301.19,331.37 L301.97,331.41 L302.75,330.69 L303.52,330.78 L304.30,329.92 L305.08,329.67 L305.85,329.60 L306.63,329.70 L307.41,329.36 L308.18,329.34 L308.96,328.61 L309.73,328.39 L310.51,328.25 L311.29,328.71 L312.06,328.34 L312.84,328.61 L313.62,328.27 L314.39,329.08 L315.17,329.12 L315.95,328.65 L316.72,329.34 L317.50,329.03 L318.28,329.33 L319.05,329.49 L319.83,329.62 L320.60,329.98 L321.38,329.58 L322.16,330.09 L322.93,329.91 L323.71,330.45 L324.49,330.15 L325.26,330.43 L326.04,330.55 L326.82,330.60 L327.59,330.43 L328.37,330.13 L329.15,330.84 L329.92,330.60 L330.70,330.58 L331.47,330.36 L332.25,330.55 L333.03,330.89 L333.80,330.53 L334.58,330.64 L335.36,331.38 L336.13,331.17 L336.91,330.83 L337.69,330.97 L338.46,331.24 L339.24,331.05 L340.02,330.89 L340.79,330.87 L341.57,331.02 L342.34,330.96 L343.12,330.46 L343.90,331.01 L344.67,330.94 L345.45,330.28 L346.23,330.80 L347.00,330.70 L347.78,330.66 L348.56,330.72 L349.33,330.58 L350.11,331.12 L350.88,331.07 L351.66,330.73 L352.44,330.64 L353.21,331.10 L353.99,330.70 L354.77,330.88 L355.54,330.96 L356.32,330.98 L357.10,330.65 L357.87,330.79 L358.65,331.64 L359.43,331.41 L360.20,332.11 L360.98,332.39 L361.75,332.58 L362.53,332.06 L363.31,331.67 L364.08,331.96 L364.86,331.15 L365.64,331.31 L366.41,331.45 L367.19,331.24 L367.97,330.85 L368.74,331.14 L369.52,331.03 L370.30,330.99 L371.07,330.43 L371.85,330.31 L372.62,330.39 L373.40,330.59 L374.18,330.78 L374.95,330.67 L375.73,330.31 L376.51,330.60 L377.28,330.38 L378.06,330.38 L378.84,330.03 L379.61,330.50 L380.39,330.52 L381.17,330.46 L381.94,330.31 L382.72,329.87 L383.50,329.34 L384.27,329.58 L385.05,328.75 L385.82,328.72 L386.60,328.17 L387.38,327.55 L388.15,326.98 L388.93,326.07 L389.71,325.40 L390.48,325.50 L391.26,323.76 L392.04,323.16 L392.81,321.61 L393.59,320.94 L394.37,318.79 L395.14,318.02 L395.92,316.54 L396.69,315.22 L397.47,311.22 L398.25,307.92 L399.02,301.39 L399.80,294.26" stroke="#1ab6bf" stroke-width="1.2" fill="none" stroke-linejoin="round"/>
</g>
<rect x="291.1" y="272.4" width="108.69999999999999" height="64.30000000000001" fill="none" stroke="#231f20" stroke-width="1.1"/>
<line x1="291.10" y1="323.84" x2="293.10" y2="323.84" stroke="#231f20" stroke-width="0.8"/>
<line x1="291.10" y1="310.98" x2="293.10" y2="310.98" stroke="#231f20" stroke-width="0.8"/>
<line x1="291.10" y1="298.12" x2="293.10" y2="298.12" stroke="#231f20" stroke-width="0.8"/>
<line x1="291.10" y1="285.26" x2="293.10" y2="285.26" stroke="#231f20" stroke-width="0.8"/>
<line x1="306.63" y1="336.70" x2="306.63" y2="334.70" stroke="#231f20" stroke-width="0.8"/>
<line x1="322.16" y1="336.70" x2="322.16" y2="334.70" stroke="#231f20" stroke-width="0.8"/>
<line x1="337.69" y1="336.70" x2="337.69" y2="334.70" stroke="#231f20" stroke-width="0.8"/>
<line x1="353.21" y1="336.70" x2="353.21" y2="334.70" stroke="#231f20" stroke-width="0.8"/>
<line x1="368.74" y1="336.70" x2="368.74" y2="334.70" stroke="#231f20" stroke-width="0.8"/>
<line x1="384.27" y1="336.70" x2="384.27" y2="334.70" stroke="#231f20" stroke-width="0.8"/>
<text x="286.10" y="278.20" font-size="10" text-anchor="end" fill="#231f20">10</text>
<text x="286.10" y="341.30" font-size="10" text-anchor="end" fill="#231f20">0</text>
<text x="318.76" y="349.00" font-size="10" text-anchor="middle" fill="#231f20">0.2</text>
<text x="349.81" y="349.00" font-size="10" text-anchor="middle" fill="#231f20">0.4</text>
<text x="380.87" y="349.00" font-size="10" text-anchor="middle" fill="#231f20">0.6</text>
<text x="342.20" y="286.00" font-size="10" text-anchor="middle" fill="#231f20">Relative density</text>
<text x="342.20" y="297.90" font-size="10" text-anchor="middle" fill="#231f20">~ 0.26</text>
<rect x="433.6" y="272.4" width="109.19999999999993" height="64.30000000000001" fill="#fdeedb"/>
<defs><clipPath id="cb5"><rect x="433.6" y="272.4" width="109.19999999999993" height="64.30000000000001"/></clipPath></defs>
<g clip-path="url(#cb5)">
<path d="M433.60,335.50 L434.38,335.02 L435.16,334.54 L435.94,334.05 L436.72,333.57 L437.50,333.09 L438.28,332.84 L439.06,332.13 L439.84,332.00 L440.62,331.07 L441.40,330.38 L442.18,329.85 L442.96,329.49 L443.74,329.58 L444.52,329.06 L445.30,328.67 L446.08,327.86 L446.86,327.71 L447.64,327.52 L448.42,326.48 L449.20,326.48 L449.98,325.35 L450.76,325.49 L451.54,325.40 L452.32,324.71 L453.10,324.30 L453.88,324.39 L454.66,324.78 L455.44,324.41 L456.22,324.84 L457.00,324.50 L457.78,325.96 L458.56,326.85 L459.34,327.71 L460.12,328.29 L460.90,328.15 L461.68,328.52 L462.46,329.06 L463.24,328.50 L464.02,328.90 L464.80,328.92 L465.58,328.75 L466.36,328.26 L467.14,327.87 L467.92,327.89 L468.70,328.16 L469.48,328.19 L470.26,328.62 L471.04,328.39 L471.82,328.58 L472.60,329.27 L473.38,328.95 L474.16,328.76 L474.94,328.71 L475.72,328.69 L476.50,328.85 L477.28,329.18 L478.06,329.68 L478.84,330.08 L479.62,330.26 L480.40,330.48 L481.18,330.61 L481.96,330.39 L482.74,330.13 L483.52,329.97 L484.30,329.09 L485.08,329.19 L485.86,329.16 L486.64,328.84 L487.42,328.69 L488.20,329.29 L488.98,329.26 L489.76,328.96 L490.54,328.98 L491.32,328.78 L492.10,329.00 L492.88,328.83 L493.66,328.72 L494.44,328.73 L495.22,328.61 L496.00,328.34 L496.78,328.16 L497.56,327.96 L498.34,328.14 L499.12,327.79 L499.90,328.14 L500.68,327.96 L501.46,327.75 L502.24,327.66 L503.02,327.69 L503.80,326.86 L504.58,327.10 L505.36,326.41 L506.14,326.26 L506.92,326.02 L507.70,326.34 L508.48,326.02 L509.26,325.55 L510.04,325.58 L510.82,324.99 L511.60,325.42 L512.38,327.23 L513.16,328.85 L513.94,328.67 L514.72,328.42 L515.50,327.36 L516.28,326.86 L517.06,326.65 L517.84,325.76 L518.62,325.42 L519.40,324.73 L520.18,323.77 L520.96,323.32 L521.74,322.41 L522.52,321.57 L523.30,320.51 L524.08,320.19 L524.86,318.90 L525.64,318.06 L526.42,317.52 L527.20,317.31 L527.98,317.44 L528.76,317.10 L529.54,317.84 L530.32,319.27 L531.10,317.55 L531.88,315.95 L532.66,313.98 L533.44,312.06 L534.22,309.21 L535.00,307.61 L535.78,304.77 L536.56,302.96 L537.34,300.47 L538.12,297.65 L538.90,295.27 L539.68,292.35 L540.46,288.00 L541.24,283.51 L542.02,279.57 L542.80,275.10 L542.80,278.70 L542.02,283.17 L541.24,287.11 L540.46,291.60 L539.68,295.95 L538.90,298.87 L538.12,301.25 L537.34,304.07 L536.56,306.56 L535.78,308.37 L535.00,311.21 L534.22,312.81 L533.44,315.66 L532.66,317.58 L531.88,319.55 L531.10,321.15 L530.32,322.87 L529.54,321.44 L528.76,320.70 L527.98,321.04 L527.20,320.91 L526.42,321.12 L525.64,321.66 L524.86,322.50 L524.08,323.79 L523.30,324.11 L522.52,325.17 L521.74,326.01 L520.96,326.92 L520.18,327.37 L519.40,327.13 L518.62,327.82 L517.84,328.16 L517.06,329.05 L516.28,329.26 L515.50,329.76 L514.72,330.82 L513.94,331.07 L513.16,331.25 L512.38,329.63 L511.60,327.82 L510.82,327.39 L510.04,327.98 L509.26,327.95 L508.48,328.42 L507.70,328.74 L506.92,328.42 L506.14,328.66 L505.36,328.81 L504.58,329.50 L503.80,329.26 L503.02,330.09 L502.24,330.06 L501.46,330.15 L500.68,330.36 L499.90,330.54 L499.12,330.19 L498.34,330.54 L497.56,330.36 L496.78,330.56 L496.00,330.74 L495.22,331.01 L494.44,331.13 L493.66,331.12 L492.88,331.23 L492.10,331.40 L491.32,331.18 L490.54,331.38 L489.76,331.36 L488.98,331.66 L488.20,331.69 L487.42,331.09 L486.64,331.24 L485.86,331.56 L485.08,331.59 L484.30,331.49 L483.52,332.37 L482.74,332.53 L481.96,332.79 L481.18,333.01 L480.40,332.88 L479.62,332.66 L478.84,332.48 L478.06,332.08 L477.28,331.58 L476.50,331.25 L475.72,331.09 L474.94,331.11 L474.16,331.16 L473.38,331.35 L472.60,331.67 L471.82,330.98 L471.04,330.79 L470.26,331.02 L469.48,330.59 L468.70,330.56 L467.92,330.29 L467.14,330.27 L466.36,330.66 L465.58,331.15 L464.80,331.32 L464.02,331.30 L463.24,330.90 L462.46,331.46 L461.68,330.92 L460.90,330.55 L460.12,330.69 L459.34,330.11 L458.56,329.25 L457.78,328.36 L457.00,326.90 L456.22,327.24 L455.44,326.81 L454.66,327.18 L453.88,326.79 L453.10,326.70 L452.32,327.11 L451.54,327.80 L450.76,327.89 L449.98,327.75 L449.20,328.88 L448.42,328.88 L447.64,329.92 L446.86,330.11 L446.08,330.26 L445.30,331.07 L444.52,331.46 L443.74,331.98 L442.96,331.89 L442.18,332.25 L441.40,332.78 L440.62,333.47 L439.84,334.40 L439.06,334.53 L438.28,335.24 L437.50,335.49 L436.72,335.97 L435.94,336.45 L435.16,336.94 L434.38,337.42 L433.60,337.90Z" fill="#bfe6e0" opacity="0.8"/>
<path d="M524.08,321.99 L524.86,320.70 L525.64,319.86 L526.42,319.32 L527.20,319.11 L527.98,319.24 L528.76,318.90 L529.54,319.64 L530.32,321.07 L531.10,319.35 L531.88,317.75 L532.66,315.78 L533.44,313.86 L534.22,311.01 L535.00,309.41 L535.78,306.57 L536.56,304.76 L537.34,302.27 L538.12,299.45 L538.90,297.07 L539.68,294.15 L540.46,289.80 L541.24,285.31 L542.02,281.37 L542.80,276.90" stroke="#c4e6df" stroke-width="3.5" fill="none" stroke-linejoin="round" opacity="0.85"/>
<path d="M435.94,334.84 L436.72,334.51 L437.50,334.19 L438.28,333.94 L439.06,333.49 L439.84,333.18 L440.62,332.58 L441.40,332.62 L442.18,332.02 L442.96,331.65 L443.74,331.48 L444.52,330.95 L445.30,330.51 L446.08,330.58 L446.86,330.23 L447.64,329.59 L448.42,329.68 L449.20,329.26 L449.98,329.06 L450.76,328.74 L451.54,328.46 L452.32,328.64 L453.10,328.28 L453.88,328.32 L454.66,328.32 L455.44,327.90 L456.22,328.08 L457.00,327.87 L457.78,328.07 L458.56,327.89 L459.34,329.89 L460.12,332.04 L460.90,331.98 L461.68,332.05 L462.46,331.70 L463.24,331.96 L464.02,331.85 L464.80,331.78 L465.58,332.01 L466.36,332.08 L467.14,331.98 L467.92,332.18 L468.70,332.34 L469.48,332.37 L470.26,332.57 L471.04,332.82 L471.82,333.13 L472.60,333.43 L473.38,333.47 L474.16,333.66 L474.94,333.84 L475.72,333.75 L476.50,333.96 L477.28,333.89 L478.06,334.13 L478.84,333.90 L479.62,335.80 L479.62,337.60 L478.84,335.70 L478.06,335.93 L477.28,335.69 L476.50,335.76 L475.72,335.55 L474.94,335.64 L474.16,335.46 L473.38,335.27 L472.60,335.23 L471.82,334.93 L471.04,334.62 L470.26,334.37 L469.48,334.17 L468.70,334.14 L467.92,333.98 L467.14,333.78 L466.36,333.88 L465.58,333.81 L464.80,333.58 L464.02,333.65 L463.24,333.76 L462.46,333.50 L461.68,333.85 L460.90,333.78 L460.12,333.84 L459.34,331.69 L458.56,329.69 L457.78,329.87 L457.00,329.67 L456.22,329.88 L455.44,329.70 L454.66,330.12 L453.88,330.12 L453.10,330.08 L452.32,330.44 L451.54,330.26 L450.76,330.54 L449.98,330.86 L449.20,331.06 L448.42,331.48 L447.64,331.39 L446.86,332.03 L446.08,332.38 L445.30,332.31 L444.52,332.75 L443.74,333.28 L442.96,333.45 L442.18,333.82 L441.40,334.42 L440.62,334.38 L439.84,334.98 L439.06,335.29 L438.28,335.74 L437.50,335.99 L436.72,336.31 L435.94,336.64Z" fill="#f5c6b8" opacity="0.7"/>
<path d="M433.60,336.70 L434.38,336.38 L435.16,336.06 L435.94,335.74 L436.72,335.41 L437.50,335.09 L438.28,334.84 L439.06,334.39 L439.84,334.08 L440.62,333.48 L441.40,333.52 L442.18,332.92 L442.96,332.55 L443.74,332.38 L444.52,331.85 L445.30,331.41 L446.08,331.48 L446.86,331.13 L447.64,330.49 L448.42,330.58 L449.20,330.16 L449.98,329.96 L450.76,329.64 L451.54,329.36 L452.32,329.54 L453.10,329.18 L453.88,329.22 L454.66,329.22 L455.44,328.80 L456.22,328.98 L457.00,328.77 L457.78,328.97 L458.56,328.79 L459.34,330.79 L460.12,332.94 L460.90,332.88 L461.68,332.95 L462.46,332.60 L463.24,332.86 L464.02,332.75 L464.80,332.68 L465.58,332.91 L466.36,332.98 L467.14,332.88 L467.92,333.08 L468.70,333.24 L469.48,333.27 L470.26,333.47 L471.04,333.72 L471.82,334.03 L472.60,334.33 L473.38,334.37 L474.16,334.56 L474.94,334.74 L475.72,334.65 L476.50,334.86 L477.28,334.79 L478.06,335.03 L478.84,334.80 L479.62,336.70" stroke="#e8412f" stroke-width="1.1" fill="none" stroke-linejoin="round"/>
<path d="M433.60,336.70 L434.38,336.22 L435.16,335.74 L435.94,335.25 L436.72,334.77 L437.50,334.29 L438.28,334.04 L439.06,333.33 L439.84,333.20 L440.62,332.27 L441.40,331.58 L442.18,331.05 L442.96,330.69 L443.74,330.78 L444.52,330.26 L445.30,329.87 L446.08,329.06 L446.86,328.91 L447.64,328.72 L448.42,327.68 L449.20,327.68 L449.98,326.55 L450.76,326.69 L451.54,326.60 L452.32,325.91 L453.10,325.50 L453.88,325.59 L454.66,325.98 L455.44,325.61 L456.22,326.04 L457.00,325.70 L457.78,327.16 L458.56,328.05 L459.34,328.91 L460.12,329.49 L460.90,329.35 L461.68,329.72 L462.46,330.26 L463.24,329.70 L464.02,330.10 L464.80,330.12 L465.58,329.95 L466.36,329.46 L467.14,329.07 L467.92,329.09 L468.70,329.36 L469.48,329.39 L470.26,329.82 L471.04,329.59 L471.82,329.78 L472.60,330.47 L473.38,330.15 L474.16,329.96 L474.94,329.91 L475.72,329.89 L476.50,330.05 L477.28,330.38 L478.06,330.88 L478.84,331.28 L479.62,331.46 L480.40,331.68 L481.18,331.81 L481.96,331.59 L482.74,331.33 L483.52,331.17 L484.30,330.29 L485.08,330.39 L485.86,330.36 L486.64,330.04 L487.42,329.89 L488.20,330.49 L488.98,330.46 L489.76,330.16 L490.54,330.18 L491.32,329.98 L492.10,330.20 L492.88,330.03 L493.66,329.92 L494.44,329.93 L495.22,329.81 L496.00,329.54 L496.78,329.36 L497.56,329.16 L498.34,329.34 L499.12,328.99 L499.90,329.34 L500.68,329.16 L501.46,328.95 L502.24,328.86 L503.02,328.89 L503.80,328.06 L504.58,328.30 L505.36,327.61 L506.14,327.46 L506.92,327.22 L507.70,327.54 L508.48,327.22 L509.26,326.75 L510.04,326.78 L510.82,326.19 L511.60,326.62 L512.38,328.43 L513.16,330.05 L513.94,329.87 L514.72,329.62 L515.50,328.56 L516.28,328.06 L517.06,327.85 L517.84,326.96 L518.62,326.62 L519.40,325.93 L520.18,325.57 L520.96,325.12 L521.74,324.21 L522.52,323.37 L523.30,322.31 L524.08,321.99 L524.86,320.70 L525.64,319.86 L526.42,319.32 L527.20,319.11 L527.98,319.24 L528.76,318.90 L529.54,319.64 L530.32,321.07 L531.10,319.35 L531.88,317.75 L532.66,315.78 L533.44,313.86 L534.22,311.01 L535.00,309.41 L535.78,306.57 L536.56,304.76 L537.34,302.27 L538.12,299.45 L538.90,297.07 L539.68,294.15 L540.46,289.80 L541.24,285.31 L542.02,281.37 L542.80,276.90" stroke="#1ab6bf" stroke-width="1.2" fill="none" stroke-linejoin="round"/>
</g>
<rect x="433.6" y="272.4" width="109.19999999999993" height="64.30000000000001" fill="none" stroke="#231f20" stroke-width="1.1"/>
<line x1="433.60" y1="323.84" x2="435.60" y2="323.84" stroke="#231f20" stroke-width="0.8"/>
<line x1="433.60" y1="310.98" x2="435.60" y2="310.98" stroke="#231f20" stroke-width="0.8"/>
<line x1="433.60" y1="298.12" x2="435.60" y2="298.12" stroke="#231f20" stroke-width="0.8"/>
<line x1="433.60" y1="285.26" x2="435.60" y2="285.26" stroke="#231f20" stroke-width="0.8"/>
<line x1="449.20" y1="336.70" x2="449.20" y2="334.70" stroke="#231f20" stroke-width="0.8"/>
<line x1="464.80" y1="336.70" x2="464.80" y2="334.70" stroke="#231f20" stroke-width="0.8"/>
<line x1="480.40" y1="336.70" x2="480.40" y2="334.70" stroke="#231f20" stroke-width="0.8"/>
<line x1="496.00" y1="336.70" x2="496.00" y2="334.70" stroke="#231f20" stroke-width="0.8"/>
<line x1="511.60" y1="336.70" x2="511.60" y2="334.70" stroke="#231f20" stroke-width="0.8"/>
<line x1="527.20" y1="336.70" x2="527.20" y2="334.70" stroke="#231f20" stroke-width="0.8"/>
<text x="428.60" y="278.20" font-size="10" text-anchor="end" fill="#231f20">10</text>
<text x="428.60" y="341.30" font-size="10" text-anchor="end" fill="#231f20">0</text>
<text x="461.40" y="349.00" font-size="10" text-anchor="middle" fill="#231f20">0.2</text>
<text x="492.60" y="349.00" font-size="10" text-anchor="middle" fill="#231f20">0.4</text>
<text x="523.80" y="349.00" font-size="10" text-anchor="middle" fill="#231f20">0.6</text>
<text x="487.90" y="286.00" font-size="10" text-anchor="middle" fill="#231f20">Relative density</text>
<text x="487.90" y="297.90" font-size="10" text-anchor="middle" fill="#231f20">~ 0.29</text>
<rect x="576.4" y="272.4" width="108.0" height="64.30000000000001" fill="#fde1d4"/>
<defs><clipPath id="cb6"><rect x="576.4" y="272.4" width="108.0" height="64.30000000000001"/></clipPath></defs>
<g clip-path="url(#cb6)">
<path d="M576.40,335.20 L577.17,334.56 L577.94,333.91 L578.71,333.27 L579.49,332.63 L580.26,331.99 L581.03,331.14 L581.80,330.63 L582.57,330.06 L583.34,329.80 L584.11,328.46 L584.89,328.22 L585.66,327.17 L586.43,327.18 L587.20,326.60 L587.97,325.75 L588.74,325.08 L589.51,324.67 L590.29,324.15 L591.06,323.62 L591.83,323.79 L592.60,322.76 L593.37,322.72 L594.14,322.35 L594.91,321.55 L595.69,320.95 L596.46,320.90 L597.23,320.09 L598.00,319.85 L598.77,320.10 L599.54,320.24 L600.31,321.04 L601.09,322.56 L601.86,323.58 L602.63,324.64 L603.40,325.06 L604.17,325.70 L604.94,326.21 L605.71,326.05 L606.49,326.55 L607.26,326.47 L608.03,326.95 L608.80,326.90 L609.57,327.44 L610.34,327.44 L611.11,327.42 L611.89,327.37 L612.66,327.53 L613.43,328.50 L614.20,328.35 L614.97,328.87 L615.74,329.22 L616.51,329.34 L617.29,328.63 L618.06,328.37 L618.83,327.79 L619.60,327.61 L620.37,326.95 L621.14,325.96 L621.91,325.62 L622.69,325.40 L623.46,324.91 L624.23,324.35 L625.00,323.43 L625.77,323.16 L626.54,322.84 L627.31,322.56 L628.09,322.81 L628.86,322.90 L629.63,323.27 L630.40,324.23 L631.17,324.73 L631.94,324.61 L632.71,325.59 L633.49,325.87 L634.26,326.31 L635.03,326.82 L635.80,327.27 L636.57,326.75 L637.34,327.24 L638.11,327.18 L638.89,327.33 L639.66,327.60 L640.43,327.60 L641.20,327.64 L641.97,327.40 L642.74,327.37 L643.51,327.64 L644.29,327.36 L645.06,327.27 L645.83,327.21 L646.60,327.28 L647.37,327.47 L648.14,327.37 L648.91,326.93 L649.69,327.09 L650.46,326.80 L651.23,326.49 L652.00,325.67 L652.77,326.14 L653.54,325.76 L654.31,324.94 L655.09,325.30 L655.86,324.78 L656.63,324.26 L657.40,323.78 L658.17,323.50 L658.94,323.28 L659.71,322.71 L660.49,322.45 L661.26,321.68 L662.03,320.33 L662.80,319.78 L663.57,319.99 L664.34,319.16 L665.11,319.12 L665.89,318.63 L666.66,317.93 L667.43,317.80 L668.20,315.69 L668.97,313.56 L669.74,314.61 L670.51,315.60 L671.29,316.24 L672.06,317.48 L672.83,315.77 L673.60,314.73 L674.37,312.83 L675.14,311.31 L675.91,309.39 L676.69,307.57 L677.46,305.37 L678.23,303.07 L679.00,301.91 L679.77,300.05 L680.54,298.36 L681.31,297.33 L682.09,298.33 L682.86,298.99 L683.63,294.23 L684.40,289.29 L684.40,294.09 L683.63,299.03 L682.86,303.79 L682.09,303.13 L681.31,302.13 L680.54,303.16 L679.77,304.85 L679.00,306.71 L678.23,307.87 L677.46,310.17 L676.69,312.37 L675.91,314.19 L675.14,316.11 L674.37,317.63 L673.60,319.53 L672.83,320.57 L672.06,322.28 L671.29,321.04 L670.51,320.40 L669.74,319.41 L668.97,318.36 L668.20,320.49 L667.43,322.60 L666.66,322.73 L665.89,323.43 L665.11,323.92 L664.34,323.96 L663.57,324.79 L662.80,324.58 L662.03,325.13 L661.26,324.68 L660.49,325.45 L659.71,325.71 L658.94,326.28 L658.17,326.50 L657.40,326.78 L656.63,327.26 L655.86,327.78 L655.09,328.30 L654.31,327.94 L653.54,328.76 L652.77,329.14 L652.00,328.67 L651.23,329.49 L650.46,329.80 L649.69,330.09 L648.91,329.93 L648.14,330.37 L647.37,330.47 L646.60,330.28 L645.83,330.21 L645.06,330.27 L644.29,330.36 L643.51,330.64 L642.74,330.37 L641.97,330.40 L641.20,330.64 L640.43,330.60 L639.66,330.60 L638.89,330.33 L638.11,330.18 L637.34,330.24 L636.57,329.75 L635.80,330.27 L635.03,329.82 L634.26,329.31 L633.49,328.87 L632.71,328.59 L631.94,327.61 L631.17,327.73 L630.40,327.23 L629.63,326.27 L628.86,325.90 L628.09,325.81 L627.31,325.56 L626.54,325.84 L625.77,326.16 L625.00,326.43 L624.23,327.35 L623.46,327.91 L622.69,328.40 L621.91,328.62 L621.14,328.96 L620.37,329.95 L619.60,330.61 L618.83,330.79 L618.06,331.37 L617.29,331.63 L616.51,332.34 L615.74,332.22 L614.97,331.87 L614.20,331.35 L613.43,331.50 L612.66,330.53 L611.89,330.37 L611.11,330.42 L610.34,330.44 L609.57,330.44 L608.80,329.90 L608.03,329.95 L607.26,329.47 L606.49,329.55 L605.71,329.05 L604.94,329.21 L604.17,328.70 L603.40,328.06 L602.63,327.64 L601.86,326.58 L601.09,325.56 L600.31,324.04 L599.54,323.24 L598.77,323.10 L598.00,322.85 L597.23,323.09 L596.46,323.90 L595.69,323.95 L594.91,324.55 L594.14,325.35 L593.37,325.72 L592.60,325.76 L591.83,326.79 L591.06,326.62 L590.29,327.15 L589.51,327.67 L588.74,328.08 L587.97,328.75 L587.20,329.60 L586.43,330.18 L585.66,330.17 L584.89,331.22 L584.11,331.46 L583.34,332.80 L582.57,333.06 L581.80,333.63 L581.03,334.14 L580.26,334.99 L579.49,335.63 L578.71,336.27 L577.94,336.91 L577.17,337.56 L576.40,338.20Z" fill="#bfe6e0" opacity="0.8"/>
<path d="M665.89,321.03 L666.66,320.33 L667.43,320.20 L668.20,318.09 L668.97,315.96 L669.74,317.01 L670.51,318.00 L671.29,318.64 L672.06,319.88 L672.83,318.17 L673.60,317.13 L674.37,315.23 L675.14,313.71 L675.91,311.79 L676.69,309.97 L677.46,307.77 L678.23,305.47 L679.00,304.31 L679.77,302.45 L680.54,300.76 L681.31,299.73 L682.09,300.73 L682.86,301.39 L683.63,296.63 L684.40,291.69" stroke="#c4e6df" stroke-width="5.2" fill="none" stroke-linejoin="round" opacity="0.85"/>
<path d="M578.71,334.19 L579.49,333.66 L580.26,333.12 L581.03,332.64 L581.80,331.95 L582.57,331.59 L583.34,331.02 L584.11,330.65 L584.89,329.71 L585.66,329.37 L586.43,328.73 L587.20,328.41 L587.97,328.14 L588.74,327.81 L589.51,327.47 L590.29,326.68 L591.06,326.45 L591.83,325.87 L592.60,325.32 L593.37,324.67 L594.14,324.51 L594.91,324.46 L595.69,324.30 L596.46,324.13 L597.23,324.09 L597.31,335.80 L597.31,337.60 L597.23,325.89 L596.46,325.93 L595.69,326.10 L594.91,326.26 L594.14,326.31 L593.37,326.47 L592.60,327.12 L591.83,327.67 L591.06,328.25 L590.29,328.48 L589.51,329.27 L588.74,329.61 L587.97,329.94 L587.20,330.21 L586.43,330.53 L585.66,331.17 L584.89,331.51 L584.11,332.45 L583.34,332.82 L582.57,333.39 L581.80,333.75 L581.03,334.44 L580.26,334.92 L579.49,335.46 L578.71,335.99Z" fill="#f5c6b8" opacity="0.7"/>
<path d="M576.40,336.70 L577.17,336.16 L577.94,335.63 L578.71,335.09 L579.49,334.56 L580.26,334.02 L581.03,333.54 L581.80,332.85 L582.57,332.49 L583.34,331.92 L584.11,331.55 L584.89,330.61 L585.66,330.27 L586.43,329.63 L587.20,329.31 L587.97,329.04 L588.74,328.71 L589.51,328.37 L590.29,327.58 L591.06,327.35 L591.83,326.77 L592.60,326.22 L593.37,325.57 L594.14,325.41 L594.91,325.36 L595.69,325.20 L596.46,325.03 L597.23,324.99 L597.31,336.70" stroke="#e8412f" stroke-width="1.1" fill="none" stroke-linejoin="round"/>
<path d="M576.40,336.70 L577.17,336.06 L577.94,335.41 L578.71,334.77 L579.49,334.13 L580.26,333.49 L581.03,332.64 L581.80,332.13 L582.57,331.56 L583.34,331.30 L584.11,329.96 L584.89,329.72 L585.66,328.67 L586.43,328.68 L587.20,328.10 L587.97,327.25 L588.74,326.58 L589.51,326.17 L590.29,325.65 L591.06,325.12 L591.83,325.29 L592.60,324.26 L593.37,324.22 L594.14,323.85 L594.91,323.05 L595.69,322.45 L596.46,322.40 L597.23,321.59 L598.00,321.35 L598.77,321.60 L599.54,321.74 L600.31,322.54 L601.09,324.06 L601.86,325.08 L602.63,326.14 L603.40,326.56 L604.17,327.20 L604.94,327.71 L605.71,327.55 L606.49,328.05 L607.26,327.97 L608.03,328.45 L608.80,328.40 L609.57,328.94 L610.34,328.94 L611.11,328.92 L611.89,328.87 L612.66,329.03 L613.43,330.00 L614.20,329.85 L614.97,330.37 L615.74,330.72 L616.51,330.84 L617.29,330.13 L618.06,329.87 L618.83,329.29 L619.60,329.11 L620.37,328.45 L621.14,327.46 L621.91,327.12 L622.69,326.90 L623.46,326.41 L624.23,325.85 L625.00,324.93 L625.77,324.66 L626.54,324.34 L627.31,324.06 L628.09,324.31 L628.86,324.40 L629.63,324.77 L630.40,325.73 L631.17,326.23 L631.94,326.11 L632.71,327.09 L633.49,327.37 L634.26,327.81 L635.03,328.32 L635.80,328.77 L636.57,328.25 L637.34,328.74 L638.11,328.68 L638.89,328.83 L639.66,329.10 L640.43,329.10 L641.20,329.14 L641.97,328.90 L642.74,328.87 L643.51,329.14 L644.29,328.86 L645.06,328.77 L645.83,328.71 L646.60,328.78 L647.37,328.97 L648.14,328.87 L648.91,328.43 L649.69,328.59 L650.46,328.30 L651.23,327.99 L652.00,327.17 L652.77,327.64 L653.54,327.26 L654.31,326.44 L655.09,326.80 L655.86,326.28 L656.63,325.76 L657.40,325.28 L658.17,325.00 L658.94,324.78 L659.71,324.21 L660.49,323.95 L661.26,323.18 L662.03,322.73 L662.80,322.18 L663.57,322.39 L664.34,321.56 L665.11,321.52 L665.89,321.03 L666.66,320.33 L667.43,320.20 L668.20,318.09 L668.97,315.96 L669.74,317.01 L670.51,318.00 L671.29,318.64 L672.06,319.88 L672.83,318.17 L673.60,317.13 L674.37,315.23 L675.14,313.71 L675.91,311.79 L676.69,309.97 L677.46,307.77 L678.23,305.47 L679.00,304.31 L679.77,302.45 L680.54,300.76 L681.31,299.73 L682.09,300.73 L682.86,301.39 L683.63,296.63 L684.40,291.69" stroke="#1ab6bf" stroke-width="1.2" fill="none" stroke-linejoin="round"/>
</g>
<rect x="576.4" y="272.4" width="108.0" height="64.30000000000001" fill="none" stroke="#231f20" stroke-width="1.1"/>
<line x1="576.40" y1="323.84" x2="578.40" y2="323.84" stroke="#231f20" stroke-width="0.8"/>
<line x1="576.40" y1="310.98" x2="578.40" y2="310.98" stroke="#231f20" stroke-width="0.8"/>
<line x1="576.40" y1="298.12" x2="578.40" y2="298.12" stroke="#231f20" stroke-width="0.8"/>
<line x1="576.40" y1="285.26" x2="578.40" y2="285.26" stroke="#231f20" stroke-width="0.8"/>
<line x1="591.83" y1="336.70" x2="591.83" y2="334.70" stroke="#231f20" stroke-width="0.8"/>
<line x1="607.26" y1="336.70" x2="607.26" y2="334.70" stroke="#231f20" stroke-width="0.8"/>
<line x1="622.69" y1="336.70" x2="622.69" y2="334.70" stroke="#231f20" stroke-width="0.8"/>
<line x1="638.11" y1="336.70" x2="638.11" y2="334.70" stroke="#231f20" stroke-width="0.8"/>
<line x1="653.54" y1="336.70" x2="653.54" y2="334.70" stroke="#231f20" stroke-width="0.8"/>
<line x1="668.97" y1="336.70" x2="668.97" y2="334.70" stroke="#231f20" stroke-width="0.8"/>
<text x="571.40" y="278.20" font-size="10" text-anchor="end" fill="#231f20">10</text>
<text x="571.40" y="341.30" font-size="10" text-anchor="end" fill="#231f20">0</text>
<text x="603.86" y="349.00" font-size="10" text-anchor="middle" fill="#231f20">0.2</text>
<text x="634.71" y="349.00" font-size="10" text-anchor="middle" fill="#231f20">0.4</text>
<text x="665.57" y="349.00" font-size="10" text-anchor="middle" fill="#231f20">0.6</text>
<text x="628.10" y="286.00" font-size="10" text-anchor="middle" fill="#231f20">Relative density</text>
<text x="628.10" y="297.90" font-size="10" text-anchor="middle" fill="#231f20">~ 0.33</text>
<text x="273.60" y="314.20" font-size="10" text-anchor="middle" fill="#231f20" transform="rotate(-90 273.6 314.2)">Stress (MPa)</text>
<text x="478.00" y="362.60" font-size="10" text-anchor="middle" fill="#231f20">Strain (mm/mm)</text>
<rect x="292.6" y="376.2" width="21.19999999999999" height="78.40000000000003" fill="#fcfadf"/>
<rect x="313.8" y="376.2" width="16.69999999999999" height="78.40000000000003" fill="#fdeedb"/>
<rect x="333.5" y="376.2" width="19.100000000000023" height="78.40000000000003" fill="#fde1d4"/>
<circle cx="302.2" cy="419.1" r="2.1" fill="#1fb3bb"/>
<circle cx="303.5" cy="418.3" r="2.1" fill="#1fb3bb"/>
<circle cx="304.7" cy="422.7" r="2.1" fill="#1fb3bb"/>
<circle cx="308.4" cy="414.9" r="2.1" fill="#1fb3bb"/>
<circle cx="312.6" cy="407.3" r="2.1" fill="#1fb3bb"/>
<circle cx="315.5" cy="403.8" r="2.1" fill="#1fb3bb"/>
<circle cx="323.1" cy="401.4" r="2.1" fill="#1fb3bb"/>
<circle cx="328.0" cy="392.8" r="2.1" fill="#1fb3bb"/>
<circle cx="335.9" cy="382.9" r="2.1" fill="#1fb3bb"/>
<circle cx="338.4" cy="378.5" r="2.1" fill="#1fb3bb"/>
<circle cx="298.1" cy="428.9" r="1.75" fill="none" stroke="#e8302a" stroke-width="1.0"/>
<circle cx="298.1" cy="430.1" r="1.75" fill="none" stroke="#e8302a" stroke-width="1.0"/>
<circle cx="308.9" cy="422.2" r="1.75" fill="none" stroke="#e8302a" stroke-width="1.0"/>
<circle cx="313.1" cy="421.5" r="1.75" fill="none" stroke="#e8302a" stroke-width="1.0"/>
<circle cx="316.7" cy="423.5" r="1.75" fill="none" stroke="#e8302a" stroke-width="1.0"/>
<circle cx="319.2" cy="425.9" r="1.75" fill="none" stroke="#e8302a" stroke-width="1.0"/>
<circle cx="320.7" cy="428.1" r="1.75" fill="none" stroke="#e8302a" stroke-width="1.0"/>
<circle cx="321.9" cy="425.2" r="1.75" fill="none" stroke="#e8302a" stroke-width="1.0"/>
<circle cx="324.1" cy="422.7" r="1.75" fill="none" stroke="#e8302a" stroke-width="1.0"/>
<circle cx="349.4" cy="394.0" r="1.75" fill="none" stroke="#e8302a" stroke-width="1.0"/>
<rect x="292.6" y="376.2" width="60.0" height="78.40000000000003" fill="none" stroke="#231f20" stroke-width="1.2"/>
<line x1="292.60" y1="405.20" x2="297.10" y2="405.20" stroke="#231f20" stroke-width="1.0"/>
<text x="289.70" y="409.50" font-size="10" text-anchor="end" fill="#231f20">20</text>
<line x1="292.60" y1="454.60" x2="297.10" y2="454.60" stroke="#231f20" stroke-width="1.0"/>
<text x="289.70" y="458.90" font-size="10" text-anchor="end" fill="#231f20">0</text>
<line x1="298.20" y1="454.60" x2="298.20" y2="450.60" stroke="#231f20" stroke-width="1.0"/>
<text x="296.80" y="468.30" font-size="10" text-anchor="middle" fill="#231f20">0.25</text>
<line x1="324.60" y1="454.60" x2="324.60" y2="450.60" stroke="#231f20" stroke-width="1.0"/>
<text x="324.10" y="468.30" font-size="10" text-anchor="middle" fill="#231f20">0.30</text>
<text x="317.40" y="481.00" font-size="10" text-anchor="middle" fill="#231f20">Relative Density</text>
<text x="263.50" y="415.40" font-size="10" text-anchor="middle" fill="#231f20" transform="rotate(-90 263.5 415.4)">Young's</text>
<text x="274.60" y="415.40" font-size="10" text-anchor="middle" fill="#231f20" transform="rotate(-90 274.6 415.4)">modulus (MPa)</text>
<text x="248.30" y="386.80" font-size="10" text-anchor="start" fill="#231f20" font-weight="bold">h</text>
<rect x="402.5" y="376.2" width="21.899999999999977" height="78.40000000000003" fill="#fcfadf"/>
<rect x="424.4" y="376.2" width="16.200000000000045" height="78.40000000000003" fill="#fdeedb"/>
<rect x="444" y="376.2" width="17.5" height="78.40000000000003" fill="#fde1d4"/>
<circle cx="411.6" cy="414.9" r="2.1" fill="#1fb3bb"/>
<circle cx="412.3" cy="417.3" r="2.1" fill="#1fb3bb"/>
<circle cx="414.0" cy="420.3" r="2.1" fill="#1fb3bb"/>
<circle cx="418.2" cy="406.8" r="2.1" fill="#1fb3bb"/>
<circle cx="421.9" cy="408.7" r="2.1" fill="#1fb3bb"/>
<circle cx="424.6" cy="408.2" r="2.1" fill="#1fb3bb"/>
<circle cx="432.5" cy="395.0" r="2.1" fill="#1fb3bb"/>
<circle cx="438.1" cy="398.7" r="2.1" fill="#1fb3bb"/>
<circle cx="445.5" cy="382.9" r="2.1" fill="#1fb3bb"/>
<circle cx="448.0" cy="378.5" r="2.1" fill="#1fb3bb"/>
<circle cx="407.9" cy="422.7" r="1.75" fill="none" stroke="#e8302a" stroke-width="1.0"/>
<circle cx="407.9" cy="424.5" r="1.75" fill="none" stroke="#e8302a" stroke-width="1.0"/>
<circle cx="418.5" cy="417.1" r="1.75" fill="none" stroke="#e8302a" stroke-width="1.0"/>
<circle cx="422.7" cy="413.6" r="1.75" fill="none" stroke="#e8302a" stroke-width="1.0"/>
<circle cx="426.3" cy="416.1" r="1.75" fill="none" stroke="#e8302a" stroke-width="1.0"/>
<circle cx="429.5" cy="413.4" r="1.75" fill="none" stroke="#e8302a" stroke-width="1.0"/>
<circle cx="431.3" cy="415.9" r="1.75" fill="none" stroke="#e8302a" stroke-width="1.0"/>
<circle cx="432.5" cy="412.4" r="1.75" fill="none" stroke="#e8302a" stroke-width="1.0"/>
<circle cx="433.7" cy="409.7" r="1.75" fill="none" stroke="#e8302a" stroke-width="1.0"/>
<circle cx="458.8" cy="391.3" r="1.75" fill="none" stroke="#e8302a" stroke-width="1.0"/>
<rect x="402.5" y="376.2" width="59.0" height="78.40000000000003" fill="none" stroke="#231f20" stroke-width="1.2"/>
<line x1="402.50" y1="392.80" x2="407.00" y2="392.80" stroke="#231f20" stroke-width="1.0"/>
<text x="399.60" y="397.10" font-size="10" text-anchor="end" fill="#231f20">2</text>
<line x1="402.50" y1="423.50" x2="407.00" y2="423.50" stroke="#231f20" stroke-width="1.0"/>
<text x="399.60" y="427.80" font-size="10" text-anchor="end" fill="#231f20">1</text>
<line x1="402.50" y1="454.60" x2="407.00" y2="454.60" stroke="#231f20" stroke-width="1.0"/>
<text x="399.60" y="458.90" font-size="10" text-anchor="end" fill="#231f20">0</text>
<line x1="407.90" y1="454.60" x2="407.90" y2="450.60" stroke="#231f20" stroke-width="1.0"/>
<text x="406.70" y="468.30" font-size="10" text-anchor="middle" fill="#231f20">0.25</text>
<line x1="434.20" y1="454.60" x2="434.20" y2="450.60" stroke="#231f20" stroke-width="1.0"/>
<text x="433.00" y="468.30" font-size="10" text-anchor="middle" fill="#231f20">0.30</text>
<text x="426.70" y="481.00" font-size="10" text-anchor="middle" fill="#231f20">Relative Density</text>
<text x="376.80" y="415.40" font-size="10" text-anchor="middle" fill="#231f20" transform="rotate(-90 376.8 415.4)">Ultimate</text>
<text x="388.20" y="415.40" font-size="10" text-anchor="middle" fill="#231f20" transform="rotate(-90 388.2 415.4)">strength (MPa)</text>
<text x="362.60" y="386.80" font-size="10" text-anchor="start" fill="#231f20" font-weight="bold">i</text>
<rect x="536.8" y="376.2" width="40.80000000000007" height="78.0" fill="#fcfadf"/>
<rect x="577.6" y="376.2" width="34.799999999999955" height="78.0" fill="#fdeedb"/>
<rect x="627" y="376.2" width="35.89999999999998" height="78.0" fill="#fde1d4"/>
<circle cx="548.1" cy="415.4" r="2.1" fill="#1fb3bb"/>
<circle cx="550.5" cy="424.0" r="2.1" fill="#1fb3bb"/>
<circle cx="554.7" cy="423.1" r="2.1" fill="#1fb3bb"/>
<circle cx="563.8" cy="412.5" r="2.1" fill="#1fb3bb"/>
<circle cx="573.2" cy="415.9" r="2.1" fill="#1fb3bb"/>
<circle cx="579.8" cy="411.3" r="2.1" fill="#1fb3bb"/>
<circle cx="598.1" cy="402.4" r="2.1" fill="#1fb3bb"/>
<circle cx="610.4" cy="406.8" r="2.1" fill="#1fb3bb"/>
<circle cx="628.9" cy="395.0" r="2.1" fill="#1fb3bb"/>
<circle cx="634.3" cy="379.3" r="2.1" fill="#1fb3bb"/>
<circle cx="539.2" cy="420.4" r="1.75" fill="none" stroke="#e8302a" stroke-width="1.0"/>
<circle cx="539.2" cy="424.8" r="1.75" fill="none" stroke="#e8302a" stroke-width="1.0"/>
<circle cx="565.1" cy="416.2" r="1.75" fill="none" stroke="#e8302a" stroke-width="1.0"/>
<circle cx="574.4" cy="416.0" r="1.75" fill="none" stroke="#e8302a" stroke-width="1.0"/>
<circle cx="583.4" cy="443.2" r="1.75" fill="none" stroke="#e8302a" stroke-width="1.0"/>
<circle cx="589.5" cy="443.2" r="1.75" fill="none" stroke="#e8302a" stroke-width="1.0"/>
<circle cx="594.4" cy="441.8" r="1.75" fill="none" stroke="#e8302a" stroke-width="1.0"/>
<circle cx="598.6" cy="437.6" r="1.75" fill="none" stroke="#e8302a" stroke-width="1.0"/>
<circle cx="601.8" cy="443.7" r="1.75" fill="none" stroke="#e8302a" stroke-width="1.0"/>
<circle cx="660.4" cy="443.2" r="1.75" fill="none" stroke="#e8302a" stroke-width="1.0"/>
<rect x="526" y="376.2" width="157.5" height="78.0" fill="none" stroke="#231f20" stroke-width="1.2"/>
<line x1="526.00" y1="388.90" x2="530.50" y2="388.90" stroke="#231f20" stroke-width="1.0"/>
<text x="523.10" y="393.20" font-size="10" text-anchor="end" fill="#231f20">1.0</text>
<line x1="526.00" y1="422.10" x2="530.50" y2="422.10" stroke="#231f20" stroke-width="1.0"/>
<text x="523.10" y="426.40" font-size="10" text-anchor="end" fill="#231f20">0.5</text>
<line x1="526.00" y1="454.20" x2="530.50" y2="454.20" stroke="#231f20" stroke-width="1.0"/>
<text x="523.10" y="458.50" font-size="10" text-anchor="end" fill="#231f20">0</text>
<line x1="539.20" y1="454.20" x2="539.20" y2="450.20" stroke="#231f20" stroke-width="1.0"/>
<text x="538.40" y="468.30" font-size="10" text-anchor="middle" fill="#231f20">0.25</text>
<line x1="605.20" y1="454.20" x2="605.20" y2="450.20" stroke="#231f20" stroke-width="1.0"/>
<text x="604.00" y="468.30" font-size="10" text-anchor="middle" fill="#231f20">0.30</text>
<line x1="671.20" y1="454.20" x2="671.20" y2="450.20" stroke="#231f20" stroke-width="1.0"/>
<text x="670.00" y="468.30" font-size="10" text-anchor="middle" fill="#231f20">0.35</text>
<text x="604.50" y="481.00" font-size="10" text-anchor="middle" fill="#231f20">Relative Density</text>
<text x="484.20" y="419.70" font-size="10" text-anchor="middle" fill="#231f20" transform="rotate(-90 484.2 419.7)">Energy</text>
<text x="497.00" y="419.70" font-size="10" text-anchor="middle" fill="#231f20" transform="rotate(-90 497.0 419.7)">absorption (MPa)</text>
<text x="469.50" y="386.80" font-size="10" text-anchor="start" fill="#231f20" font-weight="bold">j</text>
</svg></body></html>
